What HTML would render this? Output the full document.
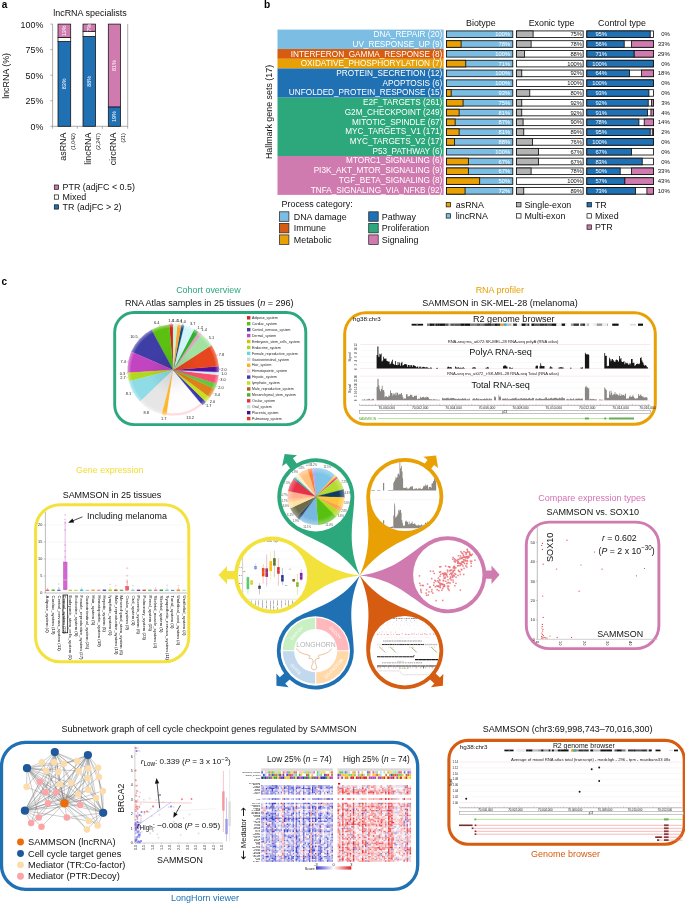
<!DOCTYPE html>
<html><head><meta charset="utf-8"><title>Figure</title>
<style>
html,body{margin:0;padding:0;background:#fff;}
svg{display:block;font-family:"Liberation Sans",sans-serif;}
</style></head><body>
<svg width="685" height="903" viewBox="0 0 685 903">
<rect width="685" height="903" fill="#fff"/>
<text x="1.7" y="7.8" font-weight="bold" font-size="10" fill="#000">a</text>
<text x="90" y="16.2" text-anchor="middle" font-size="8.95" fill="#111">lncRNA specialists</text>
<path d="M52.6 24.1V126.3H127.7V24.1" fill="none" stroke="#8a8a8a" stroke-width="0.7"/>
<line x1="50.4" y1="24.1" x2="52.6" y2="24.1" stroke="#8a8a8a" stroke-width="0.7"/>
<text x="43.3" y="27.6" text-anchor="end" font-size="8.9" fill="#111">100%</text>
<line x1="50.4" y1="49.65" x2="52.6" y2="49.65" stroke="#8a8a8a" stroke-width="0.7"/>
<text x="43.3" y="53.15" text-anchor="end" font-size="8.9" fill="#111">75%</text>
<line x1="50.4" y1="75.2" x2="52.6" y2="75.2" stroke="#8a8a8a" stroke-width="0.7"/>
<text x="43.3" y="78.7" text-anchor="end" font-size="8.9" fill="#111">50%</text>
<line x1="50.4" y1="100.75" x2="52.6" y2="100.75" stroke="#8a8a8a" stroke-width="0.7"/>
<text x="43.3" y="104.25" text-anchor="end" font-size="8.9" fill="#111">25%</text>
<line x1="50.4" y1="126.3" x2="52.6" y2="126.3" stroke="#8a8a8a" stroke-width="0.7"/>
<text x="43.3" y="129.8" text-anchor="end" font-size="8.9" fill="#111">0%</text>
<line x1="52.6" y1="126.3" x2="52.6" y2="128.7" stroke="#8a8a8a" stroke-width="0.7"/>
<line x1="77.3" y1="126.3" x2="77.3" y2="128.7" stroke="#8a8a8a" stroke-width="0.7"/>
<line x1="102.3" y1="126.3" x2="102.3" y2="128.7" stroke="#8a8a8a" stroke-width="0.7"/>
<line x1="127.7" y1="126.3" x2="127.7" y2="128.7" stroke="#8a8a8a" stroke-width="0.7"/>
<text transform="translate(8.9 75.9) rotate(-90)" text-anchor="middle" font-size="8.9" fill="#111">lncRNA (%)</text>
<rect x="58" y="41.47" width="12.7" height="84.83" fill="#2070b4" stroke="#111" stroke-width="0.75"/>
<rect x="58" y="37.39" width="12.7" height="4.09" fill="#fff" stroke="#111" stroke-width="0.75"/>
<rect x="58" y="24.1" width="12.7" height="13.29" fill="#d07bb0" stroke="#111" stroke-width="0.75"/>
<text transform="translate(66.25 83.89) rotate(-90)" text-anchor="middle" font-size="5.4" fill="#fff">83%</text>
<text transform="translate(66.25 30.74) rotate(-90)" text-anchor="middle" font-size="5.4" fill="#fff">13%</text>
<text transform="translate(65.95 132.6) rotate(-90)" text-anchor="end" font-size="8.9" fill="#111">asRNA</text>
<text transform="translate(74.65 133.3) rotate(-90)" text-anchor="end" font-size="5.2" fill="#111">(1,042)</text>
<rect x="83" y="36.36" width="12.6" height="89.94" fill="#2070b4" stroke="#111" stroke-width="0.75"/>
<rect x="83" y="31.25" width="12.6" height="5.11" fill="#fff" stroke="#111" stroke-width="0.75"/>
<rect x="83" y="24.1" width="12.6" height="7.15" fill="#d07bb0" stroke="#111" stroke-width="0.75"/>
<text transform="translate(91.2 81.33) rotate(-90)" text-anchor="middle" font-size="5.4" fill="#fff">88%</text>
<text transform="translate(91.2 27.68) rotate(-90)" text-anchor="middle" font-size="5.4" fill="#fff">7%</text>
<text transform="translate(90.9 132.6) rotate(-90)" text-anchor="end" font-size="8.9" fill="#111">lincRNA</text>
<text transform="translate(99.6 133.3) rotate(-90)" text-anchor="end" font-size="5.2" fill="#111">(2,247)</text>
<rect x="108.3" y="106.88" width="12.3" height="19.42" fill="#2070b4" stroke="#111" stroke-width="0.75"/>
<rect x="108.3" y="24.1" width="12.3" height="82.78" fill="#d07bb0" stroke="#111" stroke-width="0.75"/>
<text transform="translate(116.35 116.59) rotate(-90)" text-anchor="middle" font-size="5.4" fill="#fff">19%</text>
<text transform="translate(116.35 65.49) rotate(-90)" text-anchor="middle" font-size="5.4" fill="#fff">81%</text>
<text transform="translate(116.05 132.6) rotate(-90)" text-anchor="end" font-size="8.9" fill="#111">circRNA</text>
<text transform="translate(124.75 133.3) rotate(-90)" text-anchor="end" font-size="5.2" fill="#111">(21)</text>
<rect x="54.3" y="185" width="4.3" height="4.3" fill="#d07bb0" stroke="#111" stroke-width="0.7"/>
<text x="62.6" y="190.4" font-size="8.9" fill="#111">PTR (adjFC &lt; 0.5)</text>
<rect x="54.3" y="194.9" width="4.3" height="4.3" fill="#fff" stroke="#111" stroke-width="0.7"/>
<text x="62.6" y="200.3" font-size="8.9" fill="#111">Mixed</text>
<rect x="54.3" y="204.8" width="4.3" height="4.3" fill="#2070b4" stroke="#111" stroke-width="0.7"/>
<text x="62.6" y="210.2" font-size="8.9" fill="#111">TR (adjFC &gt; 2)</text>
<text x="264" y="7.8" font-weight="bold" font-size="10.2" fill="#000">b</text>
<rect x="277.5" y="29.6" width="166.1" height="19.49" fill="#7bbde3"/>
<rect x="277.5" y="49.04" width="166.1" height="9.77" fill="#d55c10"/>
<rect x="277.5" y="58.76" width="166.1" height="9.77" fill="#e8a004"/>
<rect x="277.5" y="68.48" width="166.1" height="29.21" fill="#2070b4"/>
<rect x="277.5" y="97.64" width="166.1" height="58.37" fill="#2ca87c"/>
<rect x="277.5" y="155.96" width="166.1" height="38.93" fill="#d07bb0"/>
<text transform="translate(272.3 112) rotate(-90)" text-anchor="middle" font-size="8.9" fill="#111">Hallmark gene sets (17)</text>
<text x="480.85" y="25.8" text-anchor="middle" font-size="8.9" fill="#111">Biotype</text>
<text x="551.6" y="25.8" text-anchor="middle" font-size="8.9" fill="#111">Exonic type</text>
<text x="622" y="25.8" text-anchor="middle" font-size="8.9" fill="#111">Control type</text>
<text x="442.3" y="37.06" text-anchor="end" font-size="8.22" fill="#fff">DNA_REPAIR (20)</text>
<rect x="446.53" y="30.93" width="66.25" height="6.6" fill="#7bbde3" stroke="#111" stroke-width="0.85"/>
<text x="510.2" y="36.27" text-anchor="end" font-size="5.8" fill="#fff">100%</text>
<rect x="516.42" y="30.93" width="66.75" height="6.6" fill="#fff" stroke="#111" stroke-width="0.85"/>
<rect x="516.42" y="30.93" width="16.69" height="6.6" fill="#b3b3b3" stroke="#111" stroke-width="0.85"/>
<text x="582" y="36.27" text-anchor="end" font-size="5.8" fill="#111">75%</text>
<rect x="586.82" y="30.93" width="66.75" height="6.6" fill="#fff" stroke="#111" stroke-width="0.85"/>
<rect x="586.82" y="30.93" width="63.41" height="6.6" fill="#2070b4" stroke="#111" stroke-width="0.85"/>
<text x="607" y="36.27" text-anchor="end" font-size="5.8" fill="#fff">95%</text>
<text x="669.8" y="36.27" text-anchor="end" font-size="6" fill="#111">0%</text>
<text x="442.3" y="46.78" text-anchor="end" font-size="8.22" fill="#fff">UV_RESPONSE_UP (9)</text>
<rect x="446.53" y="40.71" width="66.25" height="6.6" fill="#7bbde3" stroke="#111" stroke-width="0.85"/>
<rect x="446.53" y="40.71" width="14.58" height="6.6" fill="#e8a004" stroke="#111" stroke-width="0.85"/>
<text x="510.2" y="46.06" text-anchor="end" font-size="5.8" fill="#fff">78%</text>
<rect x="516.42" y="40.71" width="66.75" height="6.6" fill="#fff" stroke="#111" stroke-width="0.85"/>
<rect x="516.42" y="40.71" width="14.69" height="6.6" fill="#b3b3b3" stroke="#111" stroke-width="0.85"/>
<text x="582" y="46.06" text-anchor="end" font-size="5.8" fill="#111">78%</text>
<rect x="586.82" y="40.71" width="66.75" height="6.6" fill="#fff" stroke="#111" stroke-width="0.85"/>
<rect x="586.82" y="40.71" width="37.38" height="6.6" fill="#2070b4" stroke="#111" stroke-width="0.85"/>
<rect x="631.55" y="40.71" width="22.03" height="6.6" fill="#d07bb0" stroke="#111" stroke-width="0.85"/>
<text x="607" y="46.06" text-anchor="end" font-size="5.8" fill="#fff">56%</text>
<text x="669.8" y="46.06" text-anchor="end" font-size="6" fill="#111">33%</text>
<text x="442.3" y="56.5" text-anchor="end" font-size="8.22" fill="#fff">INTERFERON_GAMMA_RESPONSE (8)</text>
<rect x="446.53" y="50.5" width="66.25" height="6.6" fill="#7bbde3" stroke="#111" stroke-width="0.85"/>
<text x="510.2" y="55.85" text-anchor="end" font-size="5.8" fill="#fff">100%</text>
<rect x="516.42" y="50.5" width="66.75" height="6.6" fill="#fff" stroke="#111" stroke-width="0.85"/>
<rect x="516.42" y="50.5" width="8.01" height="6.6" fill="#b3b3b3" stroke="#111" stroke-width="0.85"/>
<text x="582" y="55.85" text-anchor="end" font-size="5.8" fill="#111">88%</text>
<rect x="586.82" y="50.5" width="66.75" height="6.6" fill="#fff" stroke="#111" stroke-width="0.85"/>
<rect x="586.82" y="50.5" width="47.39" height="6.6" fill="#2070b4" stroke="#111" stroke-width="0.85"/>
<rect x="634.22" y="50.5" width="19.36" height="6.6" fill="#d07bb0" stroke="#111" stroke-width="0.85"/>
<text x="607" y="55.85" text-anchor="end" font-size="5.8" fill="#fff">71%</text>
<text x="669.8" y="55.85" text-anchor="end" font-size="6" fill="#111">29%</text>
<text x="442.3" y="66.22" text-anchor="end" font-size="8.22" fill="#fff">OXIDATIVE_PHOSPHORYLATION (7)</text>
<rect x="446.53" y="60.29" width="66.25" height="6.6" fill="#7bbde3" stroke="#111" stroke-width="0.85"/>
<rect x="446.53" y="60.29" width="19.21" height="6.6" fill="#e8a004" stroke="#111" stroke-width="0.85"/>
<text x="510.2" y="65.64" text-anchor="end" font-size="5.8" fill="#fff">71%</text>
<rect x="516.42" y="60.29" width="66.75" height="6.6" fill="#fff" stroke="#111" stroke-width="0.85"/>
<text x="582" y="65.64" text-anchor="end" font-size="5.8" fill="#111">100%</text>
<rect x="586.82" y="60.29" width="66.75" height="6.6" fill="#fff" stroke="#111" stroke-width="0.85"/>
<rect x="586.82" y="60.29" width="66.75" height="6.6" fill="#2070b4" stroke="#111" stroke-width="0.85"/>
<text x="607" y="65.64" text-anchor="end" font-size="5.8" fill="#fff">100%</text>
<text x="669.8" y="65.64" text-anchor="end" font-size="6" fill="#111">0%</text>
<text x="442.3" y="75.94" text-anchor="end" font-size="8.22" fill="#fff">PROTEIN_SECRETION (12)</text>
<rect x="446.53" y="70.08" width="66.25" height="6.6" fill="#7bbde3" stroke="#111" stroke-width="0.85"/>
<text x="510.2" y="75.43" text-anchor="end" font-size="5.8" fill="#fff">100%</text>
<rect x="516.42" y="70.08" width="66.75" height="6.6" fill="#fff" stroke="#111" stroke-width="0.85"/>
<rect x="516.42" y="70.08" width="5.34" height="6.6" fill="#b3b3b3" stroke="#111" stroke-width="0.85"/>
<text x="582" y="75.43" text-anchor="end" font-size="5.8" fill="#111">92%</text>
<rect x="586.82" y="70.08" width="66.75" height="6.6" fill="#fff" stroke="#111" stroke-width="0.85"/>
<rect x="586.82" y="70.08" width="42.72" height="6.6" fill="#2070b4" stroke="#111" stroke-width="0.85"/>
<rect x="641.56" y="70.08" width="12.02" height="6.6" fill="#d07bb0" stroke="#111" stroke-width="0.85"/>
<text x="607" y="75.43" text-anchor="end" font-size="5.8" fill="#fff">64%</text>
<text x="669.8" y="75.43" text-anchor="end" font-size="6" fill="#111">18%</text>
<text x="442.3" y="85.66" text-anchor="end" font-size="8.22" fill="#fff">APOPTOSIS (6)</text>
<rect x="446.53" y="79.87" width="66.25" height="6.6" fill="#7bbde3" stroke="#111" stroke-width="0.85"/>
<text x="510.2" y="85.22" text-anchor="end" font-size="5.8" fill="#fff">100%</text>
<rect x="516.42" y="79.87" width="66.75" height="6.6" fill="#fff" stroke="#111" stroke-width="0.85"/>
<text x="582" y="85.22" text-anchor="end" font-size="5.8" fill="#111">100%</text>
<rect x="586.82" y="79.87" width="66.75" height="6.6" fill="#fff" stroke="#111" stroke-width="0.85"/>
<rect x="586.82" y="79.87" width="66.75" height="6.6" fill="#2070b4" stroke="#111" stroke-width="0.85"/>
<text x="607" y="85.22" text-anchor="end" font-size="5.8" fill="#fff">100%</text>
<text x="669.8" y="85.22" text-anchor="end" font-size="6" fill="#111">0%</text>
<text x="442.3" y="95.38" text-anchor="end" font-size="8.22" fill="#fff">UNFOLDED_PROTEIN_RESPONSE (15)</text>
<rect x="446.53" y="89.66" width="66.25" height="6.6" fill="#7bbde3" stroke="#111" stroke-width="0.85"/>
<rect x="446.53" y="89.66" width="4.64" height="6.6" fill="#e8a004" stroke="#111" stroke-width="0.85"/>
<text x="510.2" y="95.01" text-anchor="end" font-size="5.8" fill="#fff">93%</text>
<rect x="516.42" y="89.66" width="66.75" height="6.6" fill="#fff" stroke="#111" stroke-width="0.85"/>
<rect x="516.42" y="89.66" width="13.35" height="6.6" fill="#b3b3b3" stroke="#111" stroke-width="0.85"/>
<text x="582" y="95.01" text-anchor="end" font-size="5.8" fill="#111">80%</text>
<rect x="586.82" y="89.66" width="66.75" height="6.6" fill="#fff" stroke="#111" stroke-width="0.85"/>
<rect x="586.82" y="89.66" width="62.08" height="6.6" fill="#2070b4" stroke="#111" stroke-width="0.85"/>
<text x="607" y="95.01" text-anchor="end" font-size="5.8" fill="#fff">93%</text>
<text x="669.8" y="95.01" text-anchor="end" font-size="6" fill="#111">0%</text>
<text x="442.3" y="105.1" text-anchor="end" font-size="8.22" fill="#fff">E2F_TARGETS (261)</text>
<rect x="446.53" y="99.45" width="66.25" height="6.6" fill="#7bbde3" stroke="#111" stroke-width="0.85"/>
<rect x="446.53" y="99.45" width="16.56" height="6.6" fill="#e8a004" stroke="#111" stroke-width="0.85"/>
<text x="510.2" y="104.8" text-anchor="end" font-size="5.8" fill="#fff">75%</text>
<rect x="516.42" y="99.45" width="66.75" height="6.6" fill="#fff" stroke="#111" stroke-width="0.85"/>
<rect x="516.42" y="99.45" width="5.34" height="6.6" fill="#b3b3b3" stroke="#111" stroke-width="0.85"/>
<text x="582" y="104.8" text-anchor="end" font-size="5.8" fill="#111">92%</text>
<rect x="586.82" y="99.45" width="66.75" height="6.6" fill="#fff" stroke="#111" stroke-width="0.85"/>
<rect x="586.82" y="99.45" width="61.41" height="6.6" fill="#2070b4" stroke="#111" stroke-width="0.85"/>
<rect x="651.57" y="99.45" width="2" height="6.6" fill="#d07bb0" stroke="#111" stroke-width="0.85"/>
<text x="607" y="104.8" text-anchor="end" font-size="5.8" fill="#fff">92%</text>
<text x="669.8" y="104.8" text-anchor="end" font-size="6" fill="#111">3%</text>
<text x="442.3" y="114.82" text-anchor="end" font-size="8.22" fill="#fff">G2M_CHECKPOINT (249)</text>
<rect x="446.53" y="109.24" width="66.25" height="6.6" fill="#7bbde3" stroke="#111" stroke-width="0.85"/>
<rect x="446.53" y="109.24" width="12.59" height="6.6" fill="#e8a004" stroke="#111" stroke-width="0.85"/>
<text x="510.2" y="114.59" text-anchor="end" font-size="5.8" fill="#fff">81%</text>
<rect x="516.42" y="109.24" width="66.75" height="6.6" fill="#fff" stroke="#111" stroke-width="0.85"/>
<rect x="516.42" y="109.24" width="5.34" height="6.6" fill="#b3b3b3" stroke="#111" stroke-width="0.85"/>
<text x="582" y="114.59" text-anchor="end" font-size="5.8" fill="#111">92%</text>
<rect x="586.82" y="109.24" width="66.75" height="6.6" fill="#fff" stroke="#111" stroke-width="0.85"/>
<rect x="586.82" y="109.24" width="60.74" height="6.6" fill="#2070b4" stroke="#111" stroke-width="0.85"/>
<rect x="650.91" y="109.24" width="2.67" height="6.6" fill="#d07bb0" stroke="#111" stroke-width="0.85"/>
<text x="607" y="114.59" text-anchor="end" font-size="5.8" fill="#fff">91%</text>
<text x="669.8" y="114.59" text-anchor="end" font-size="6" fill="#111">4%</text>
<text x="442.3" y="124.54" text-anchor="end" font-size="8.22" fill="#fff">MITOTIC_SPINDLE (67)</text>
<rect x="446.53" y="119.03" width="66.25" height="6.6" fill="#7bbde3" stroke="#111" stroke-width="0.85"/>
<rect x="446.53" y="119.03" width="8.61" height="6.6" fill="#e8a004" stroke="#111" stroke-width="0.85"/>
<text x="510.2" y="124.38" text-anchor="end" font-size="5.8" fill="#fff">87%</text>
<rect x="516.42" y="119.03" width="66.75" height="6.6" fill="#fff" stroke="#111" stroke-width="0.85"/>
<rect x="516.42" y="119.03" width="6.68" height="6.6" fill="#b3b3b3" stroke="#111" stroke-width="0.85"/>
<text x="582" y="124.38" text-anchor="end" font-size="5.8" fill="#111">90%</text>
<rect x="586.82" y="119.03" width="66.75" height="6.6" fill="#fff" stroke="#111" stroke-width="0.85"/>
<rect x="586.82" y="119.03" width="52.07" height="6.6" fill="#2070b4" stroke="#111" stroke-width="0.85"/>
<rect x="644.23" y="119.03" width="9.35" height="6.6" fill="#d07bb0" stroke="#111" stroke-width="0.85"/>
<text x="607" y="124.38" text-anchor="end" font-size="5.8" fill="#fff">78%</text>
<text x="669.8" y="124.38" text-anchor="end" font-size="6" fill="#111">14%</text>
<text x="442.3" y="134.26" text-anchor="end" font-size="8.22" fill="#fff">MYC_TARGETS_V1 (171)</text>
<rect x="446.53" y="128.82" width="66.25" height="6.6" fill="#7bbde3" stroke="#111" stroke-width="0.85"/>
<rect x="446.53" y="128.82" width="12.59" height="6.6" fill="#e8a004" stroke="#111" stroke-width="0.85"/>
<text x="510.2" y="134.17" text-anchor="end" font-size="5.8" fill="#fff">81%</text>
<rect x="516.42" y="128.82" width="66.75" height="6.6" fill="#fff" stroke="#111" stroke-width="0.85"/>
<rect x="516.42" y="128.82" width="7.34" height="6.6" fill="#b3b3b3" stroke="#111" stroke-width="0.85"/>
<text x="582" y="134.17" text-anchor="end" font-size="5.8" fill="#111">89%</text>
<rect x="586.82" y="128.82" width="66.75" height="6.6" fill="#fff" stroke="#111" stroke-width="0.85"/>
<rect x="586.82" y="128.82" width="63.41" height="6.6" fill="#2070b4" stroke="#111" stroke-width="0.85"/>
<rect x="652.24" y="128.82" width="1.34" height="6.6" fill="#d07bb0" stroke="#111" stroke-width="0.85"/>
<text x="607" y="134.17" text-anchor="end" font-size="5.8" fill="#fff">95%</text>
<text x="669.8" y="134.17" text-anchor="end" font-size="6" fill="#111">2%</text>
<text x="442.3" y="143.98" text-anchor="end" font-size="8.22" fill="#fff">MYC_TARGETS_V2 (17)</text>
<rect x="446.53" y="138.62" width="66.25" height="6.6" fill="#7bbde3" stroke="#111" stroke-width="0.85"/>
<rect x="446.53" y="138.62" width="7.95" height="6.6" fill="#e8a004" stroke="#111" stroke-width="0.85"/>
<text x="510.2" y="143.97" text-anchor="end" font-size="5.8" fill="#fff">88%</text>
<rect x="516.42" y="138.62" width="66.75" height="6.6" fill="#fff" stroke="#111" stroke-width="0.85"/>
<rect x="516.42" y="138.62" width="16.02" height="6.6" fill="#b3b3b3" stroke="#111" stroke-width="0.85"/>
<text x="582" y="143.97" text-anchor="end" font-size="5.8" fill="#111">76%</text>
<rect x="586.82" y="138.62" width="66.75" height="6.6" fill="#fff" stroke="#111" stroke-width="0.85"/>
<rect x="586.82" y="138.62" width="66.75" height="6.6" fill="#2070b4" stroke="#111" stroke-width="0.85"/>
<text x="607" y="143.97" text-anchor="end" font-size="5.8" fill="#fff">100%</text>
<text x="669.8" y="143.97" text-anchor="end" font-size="6" fill="#111">0%</text>
<text x="442.3" y="153.7" text-anchor="end" font-size="8.22" fill="#fff">P53_PATHWAY (6)</text>
<rect x="446.53" y="148.41" width="66.25" height="6.6" fill="#7bbde3" stroke="#111" stroke-width="0.85"/>
<text x="510.2" y="153.75" text-anchor="end" font-size="5.8" fill="#fff">100%</text>
<rect x="516.42" y="148.41" width="66.75" height="6.6" fill="#fff" stroke="#111" stroke-width="0.85"/>
<rect x="516.42" y="148.41" width="22.03" height="6.6" fill="#b3b3b3" stroke="#111" stroke-width="0.85"/>
<text x="582" y="153.75" text-anchor="end" font-size="5.8" fill="#111">67%</text>
<rect x="586.82" y="148.41" width="66.75" height="6.6" fill="#fff" stroke="#111" stroke-width="0.85"/>
<rect x="586.82" y="148.41" width="44.72" height="6.6" fill="#2070b4" stroke="#111" stroke-width="0.85"/>
<text x="607" y="153.75" text-anchor="end" font-size="5.8" fill="#fff">67%</text>
<text x="669.8" y="153.75" text-anchor="end" font-size="6" fill="#111">0%</text>
<text x="442.3" y="163.42" text-anchor="end" font-size="8.22" fill="#fff">MTORC1_SIGNALING (6)</text>
<rect x="446.53" y="158.19" width="66.25" height="6.6" fill="#7bbde3" stroke="#111" stroke-width="0.85"/>
<rect x="446.53" y="158.19" width="21.86" height="6.6" fill="#e8a004" stroke="#111" stroke-width="0.85"/>
<text x="510.2" y="163.54" text-anchor="end" font-size="5.8" fill="#fff">67%</text>
<rect x="516.42" y="158.19" width="66.75" height="6.6" fill="#fff" stroke="#111" stroke-width="0.85"/>
<rect x="516.42" y="158.19" width="22.03" height="6.6" fill="#b3b3b3" stroke="#111" stroke-width="0.85"/>
<text x="582" y="163.54" text-anchor="end" font-size="5.8" fill="#111">67%</text>
<rect x="586.82" y="158.19" width="66.75" height="6.6" fill="#fff" stroke="#111" stroke-width="0.85"/>
<rect x="586.82" y="158.19" width="55.4" height="6.6" fill="#2070b4" stroke="#111" stroke-width="0.85"/>
<text x="607" y="163.54" text-anchor="end" font-size="5.8" fill="#fff">83%</text>
<text x="669.8" y="163.54" text-anchor="end" font-size="6" fill="#111">0%</text>
<text x="442.3" y="173.14" text-anchor="end" font-size="8.22" fill="#fff">PI3K_AKT_MTOR_SIGNALING (9)</text>
<rect x="446.53" y="167.99" width="66.25" height="6.6" fill="#7bbde3" stroke="#111" stroke-width="0.85"/>
<rect x="446.53" y="167.99" width="21.86" height="6.6" fill="#e8a004" stroke="#111" stroke-width="0.85"/>
<text x="510.2" y="173.34" text-anchor="end" font-size="5.8" fill="#fff">67%</text>
<rect x="516.42" y="167.99" width="66.75" height="6.6" fill="#fff" stroke="#111" stroke-width="0.85"/>
<rect x="516.42" y="167.99" width="14.69" height="6.6" fill="#b3b3b3" stroke="#111" stroke-width="0.85"/>
<text x="582" y="173.34" text-anchor="end" font-size="5.8" fill="#111">78%</text>
<rect x="586.82" y="167.99" width="66.75" height="6.6" fill="#fff" stroke="#111" stroke-width="0.85"/>
<rect x="586.82" y="167.99" width="33.38" height="6.6" fill="#2070b4" stroke="#111" stroke-width="0.85"/>
<rect x="631.55" y="167.99" width="22.03" height="6.6" fill="#d07bb0" stroke="#111" stroke-width="0.85"/>
<text x="607" y="173.34" text-anchor="end" font-size="5.8" fill="#fff">50%</text>
<text x="669.8" y="173.34" text-anchor="end" font-size="6" fill="#111">33%</text>
<text x="442.3" y="182.86" text-anchor="end" font-size="8.22" fill="#fff">TGF_BETA_SIGNALING (8)</text>
<rect x="446.53" y="177.78" width="66.25" height="6.6" fill="#7bbde3" stroke="#111" stroke-width="0.85"/>
<rect x="446.53" y="177.78" width="33.13" height="6.6" fill="#e8a004" stroke="#111" stroke-width="0.85"/>
<text x="510.2" y="183.12" text-anchor="end" font-size="5.8" fill="#fff">50%</text>
<rect x="516.42" y="177.78" width="66.75" height="6.6" fill="#fff" stroke="#111" stroke-width="0.85"/>
<text x="582" y="183.12" text-anchor="end" font-size="5.8" fill="#111">100%</text>
<rect x="586.82" y="177.78" width="66.75" height="6.6" fill="#fff" stroke="#111" stroke-width="0.85"/>
<rect x="586.82" y="177.78" width="38.05" height="6.6" fill="#2070b4" stroke="#111" stroke-width="0.85"/>
<rect x="624.87" y="177.78" width="28.7" height="6.6" fill="#d07bb0" stroke="#111" stroke-width="0.85"/>
<text x="607" y="183.12" text-anchor="end" font-size="5.8" fill="#fff">57%</text>
<text x="669.8" y="183.12" text-anchor="end" font-size="6" fill="#111">43%</text>
<text x="442.3" y="192.58" text-anchor="end" font-size="8.22" fill="#fff">TNFA_SIGNALING_VIA_NFKB (92)</text>
<rect x="446.53" y="187.56" width="66.25" height="6.6" fill="#7bbde3" stroke="#111" stroke-width="0.85"/>
<rect x="446.53" y="187.56" width="18.55" height="6.6" fill="#e8a004" stroke="#111" stroke-width="0.85"/>
<text x="510.2" y="192.91" text-anchor="end" font-size="5.8" fill="#fff">72%</text>
<rect x="516.42" y="187.56" width="66.75" height="6.6" fill="#fff" stroke="#111" stroke-width="0.85"/>
<rect x="516.42" y="187.56" width="7.34" height="6.6" fill="#b3b3b3" stroke="#111" stroke-width="0.85"/>
<text x="582" y="192.91" text-anchor="end" font-size="5.8" fill="#111">89%</text>
<rect x="586.82" y="187.56" width="66.75" height="6.6" fill="#fff" stroke="#111" stroke-width="0.85"/>
<rect x="586.82" y="187.56" width="48.73" height="6.6" fill="#2070b4" stroke="#111" stroke-width="0.85"/>
<rect x="646.9" y="187.56" width="6.68" height="6.6" fill="#d07bb0" stroke="#111" stroke-width="0.85"/>
<text x="607" y="192.91" text-anchor="end" font-size="5.8" fill="#fff">73%</text>
<text x="669.8" y="192.91" text-anchor="end" font-size="6" fill="#111">10%</text>
<text x="281.6" y="206.6" font-size="8.9" fill="#111">Process category:</text>
<rect x="279.4" y="211.8" width="9.5" height="9.5" fill="#7bbde3" stroke="#222" stroke-width="0.7"/>
<text x="293.8" y="219.9" font-size="8.9" fill="#111">DNA damage</text>
<rect x="279.4" y="223.35" width="9.5" height="9.5" fill="#d55c10" stroke="#222" stroke-width="0.7"/>
<text x="293.8" y="231.45" font-size="8.9" fill="#111">Immune</text>
<rect x="279.4" y="234.9" width="9.5" height="9.5" fill="#e8a004" stroke="#222" stroke-width="0.7"/>
<text x="293.8" y="243" font-size="8.9" fill="#111">Metabolic</text>
<rect x="368.7" y="211.8" width="9.5" height="9.5" fill="#2070b4" stroke="#222" stroke-width="0.7"/>
<text x="381.8" y="219.9" font-size="8.9" fill="#111">Pathway</text>
<rect x="368.7" y="223.35" width="9.5" height="9.5" fill="#2ca87c" stroke="#222" stroke-width="0.7"/>
<text x="381.8" y="231.45" font-size="8.9" fill="#111">Proliferation</text>
<rect x="368.7" y="234.9" width="9.5" height="9.5" fill="#d07bb0" stroke="#222" stroke-width="0.7"/>
<text x="381.8" y="243" font-size="8.9" fill="#111">Signaling</text>
<rect x="446.2" y="202.5" width="4.4" height="4.4" fill="#e8a004" stroke="#111" stroke-width="0.7"/>
<text x="455.8" y="207.8" font-size="8.9" fill="#111">asRNA</text>
<rect x="446.2" y="213.7" width="4.4" height="4.4" fill="#7bbde3" stroke="#111" stroke-width="0.7"/>
<text x="455.8" y="219" font-size="8.9" fill="#111">lincRNA</text>
<rect x="516.6" y="202.5" width="4.4" height="4.4" fill="#b3b3b3" stroke="#111" stroke-width="0.7"/>
<text x="524.4" y="207.8" font-size="8.9" fill="#111">Single-exon</text>
<rect x="516.6" y="213.7" width="4.4" height="4.4" fill="#fff" stroke="#111" stroke-width="0.7"/>
<text x="524.4" y="219" font-size="8.9" fill="#111">Multi-exon</text>
<rect x="587" y="202.5" width="4.4" height="4.4" fill="#2070b4" stroke="#111" stroke-width="0.7"/>
<text x="594.9" y="207.8" font-size="8.9" fill="#111">TR</text>
<rect x="587" y="213.7" width="4.4" height="4.4" fill="#fff" stroke="#111" stroke-width="0.7"/>
<text x="594.9" y="219" font-size="8.9" fill="#111">Mixed</text>
<rect x="587" y="224.9" width="4.4" height="4.4" fill="#d07bb0" stroke="#111" stroke-width="0.7"/>
<text x="594.9" y="230.2" font-size="8.9" fill="#111">PTR</text>
<text x="1.6" y="285.2" font-weight="bold" font-size="10" fill="#000">c</text>
<text x="208.4" y="293" text-anchor="middle" font-size="8.93" fill="#2ca87c">Cohort overview</text>
<text x="124.9" y="305.8" font-size="9.06" fill="#111">RNA Atlas samples in 25 tissues (<tspan font-style="italic">n</tspan> = 296)</text>
<rect x="114.7" y="312.5" width="191.1" height="112.1" rx="19.5" fill="#fff" stroke="#2ca87c" stroke-width="2.9"/>
<defs><radialGradient id="pg" cx="0.5" cy="0.5" r="0.5"><stop offset="0" stop-color="#000" stop-opacity="0.10"/><stop offset="0.55" stop-color="#000" stop-opacity="0"/><stop offset="0.92" stop-color="#fff" stop-opacity="0"/><stop offset="1" stop-color="#fff" stop-opacity="0.4"/></radialGradient></defs>
<path d="M173.2 370L173.2 324.5A45.5 45.5 0 0 0 169.17 324.68Z" fill="#d8202a" stroke="#d8202a" stroke-width="0.25"/>
<line x1="171.16" y1="324.15" x2="171.1" y2="322.65" stroke="#d8202a" stroke-width="0.4"/>
<text x="171.07" y="321.75" text-anchor="middle" font-size="3.9" fill="#222">1.4</text>
<path d="M173.2 370L169.17 324.68A45.5 45.5 0 0 0 151.6 329.95Z" fill="#5cc010" stroke="#5cc010" stroke-width="0.25"/>
<line x1="160" y1="326.04" x2="159.57" y2="324.6" stroke="#5cc010" stroke-width="0.4"/>
<text x="159.37" y="323.8" text-anchor="end" font-size="3.9" fill="#222">6.4</text>
<path d="M173.2 370L151.6 329.95A45.5 45.5 0 0 0 131.48 351.84Z" fill="#3e3ea6" stroke="#3e3ea6" stroke-width="0.25"/>
<line x1="139.41" y1="338.94" x2="138.31" y2="337.92" stroke="#3e3ea6" stroke-width="0.4"/>
<text x="137.79" y="338.44" text-anchor="end" font-size="3.9" fill="#222">10.5</text>
<path d="M173.2 370L131.48 351.84A45.5 45.5 0 0 0 127.78 372.67Z" fill="#c244c0" stroke="#c244c0" stroke-width="0.25"/>
<line x1="128.01" y1="361.97" x2="126.53" y2="361.7" stroke="#c244c0" stroke-width="0.4"/>
<text x="125.84" y="362.88" text-anchor="end" font-size="3.9" fill="#222">7.4</text>
<path d="M173.2 370L127.78 372.67A45.5 45.5 0 0 0 127.84 373.53Z" fill="#d8c010" stroke="#d8c010" stroke-width="0.25"/>
<line x1="127.41" y1="373.13" x2="125.91" y2="373.23" stroke="#d8c010" stroke-width="0.4"/>
<text x="125.21" y="374.72" text-anchor="end" font-size="3.9" fill="#222">0.3</text>
<path d="M173.2 370L127.84 373.53A45.5 45.5 0 0 0 129.1 381.21Z" fill="#b0d81c" stroke="#b0d81c" stroke-width="0.25"/>
<line x1="127.91" y1="377.46" x2="126.43" y2="377.7" stroke="#b0d81c" stroke-width="0.4"/>
<text x="125.74" y="379.32" text-anchor="end" font-size="3.9" fill="#222">2.7</text>
<path d="M173.2 370L129.1 381.21A45.5 45.5 0 0 0 140.3 401.43Z" fill="#8fdbe6" stroke="#8fdbe6" stroke-width="0.25"/>
<line x1="133.04" y1="392.23" x2="131.73" y2="392.96" stroke="#8fdbe6" stroke-width="0.4"/>
<text x="131.12" y="394.99" text-anchor="end" font-size="3.9" fill="#222">8.1</text>
<path d="M173.2 370L140.3 401.43A45.5 45.5 0 0 0 161.92 414.08Z" fill="#e6e6e6" stroke="#e6e6e6" stroke-width="0.25"/>
<line x1="150.02" y1="409.62" x2="149.26" y2="410.91" stroke="#ccc" stroke-width="0.4"/>
<text x="148.91" y="414.3" text-anchor="end" font-size="3.9" fill="#222">8.8</text>
<path d="M173.2 370L161.92 414.08A45.5 45.5 0 0 0 166.73 415.04Z" fill="#ffb62e" stroke="#ffb62e" stroke-width="0.25"/>
<line x1="164.24" y1="415.02" x2="163.94" y2="416.49" stroke="#ffb62e" stroke-width="0.4"/>
<text x="163.81" y="420.14" text-anchor="middle" font-size="3.9" fill="#222">1.7</text>
<path d="M173.2 370L166.73 415.04A45.5 45.5 0 0 0 202.31 404.97Z" fill="#fffdfd" stroke="#fffdfd" stroke-width="0.25"/>
<line x1="185.7" y1="414.17" x2="186.11" y2="415.61" stroke="#ccc" stroke-width="0.4"/>
<text x="186.3" y="419.22" font-size="3.9" fill="#222">13.2</text>
<path d="M173.2 370L202.31 404.97A45.5 45.5 0 0 0 205.9 401.63Z" fill="#3c3cae" stroke="#3c3cae" stroke-width="0.25"/>
<line x1="204.43" y1="403.64" x2="205.45" y2="404.74" stroke="#3c3cae" stroke-width="0.4"/>
<text x="205.92" y="407.09" font-size="3.9" fill="#222">1.7</text>
<path d="M173.2 370L205.9 401.63A45.5 45.5 0 0 0 209.64 397.24Z" fill="#c6e01c" stroke="#c6e01c" stroke-width="0.25"/>
<line x1="208.15" y1="399.76" x2="209.29" y2="400.73" stroke="#c6e01c" stroke-width="0.4"/>
<text x="209.82" y="402.97" font-size="3.9" fill="#222">2.0</text>
<path d="M173.2 370L209.64 397.24A45.5 45.5 0 0 0 214.63 388.82Z" fill="#e0801c" stroke="#e0801c" stroke-width="0.25"/>
<line x1="212.71" y1="393.37" x2="214" y2="394.13" stroke="#e0801c" stroke-width="0.4"/>
<text x="214.6" y="396.19" font-size="3.9" fill="#222">3.4</text>
<path d="M173.2 370L214.63 388.82A45.5 45.5 0 0 0 216.67 383.43Z" fill="#62c83e" stroke="#62c83e" stroke-width="0.25"/>
<line x1="216.11" y1="386.3" x2="217.51" y2="386.83" stroke="#62c83e" stroke-width="0.4"/>
<text x="218.17" y="388.69" font-size="3.9" fill="#222">2.0</text>
<path d="M173.2 370L216.67 383.43A45.5 45.5 0 0 0 218.43 374.97Z" fill="#f8506e" stroke="#f8506e" stroke-width="0.25"/>
<line x1="218.14" y1="379.32" x2="219.61" y2="379.62" stroke="#f8506e" stroke-width="0.4"/>
<text x="220.3" y="381.29" font-size="3.9" fill="#222">3.0</text>
<path d="M173.2 370L218.43 374.97A45.5 45.5 0 0 0 218.65 372.09Z" fill="#d2eeee" stroke="#d2eeee" stroke-width="0.25"/>
<line x1="218.96" y1="373.56" x2="220.46" y2="373.68" stroke="#ccc" stroke-width="0.4"/>
<text x="221.15" y="375.18" font-size="3.9" fill="#222">1.0</text>
<path d="M173.2 370L218.65 372.09A45.5 45.5 0 0 0 218.55 366.33Z" fill="#5210a0" stroke="#5210a0" stroke-width="0.25"/>
<line x1="219.09" y1="369.2" x2="220.59" y2="369.17" stroke="#5210a0" stroke-width="0.4"/>
<text x="221.29" y="370.55" font-size="3.9" fill="#222">2.0</text>
<path d="M173.2 370L218.55 366.33A45.5 45.5 0 0 0 211.37 345.24Z" fill="#e8461e" stroke="#e8461e" stroke-width="0.25"/>
<line x1="216.65" y1="355.21" x2="218.07" y2="354.73" stroke="#e8461e" stroke-width="0.4"/>
<text x="218.73" y="355.71" font-size="3.9" fill="#222">7.8</text>
<path d="M173.2 370L211.37 345.24A45.5 45.5 0 0 0 201.53 334.39Z" fill="#a2e2a0" stroke="#a2e2a0" stroke-width="0.25"/>
<line x1="207.19" y1="339.15" x2="208.3" y2="338.14" stroke="#a2e2a0" stroke-width="0.4"/>
<text x="208.82" y="338.67" font-size="3.9" fill="#222">5.1</text>
<path d="M173.2 370L201.53 334.39A45.5 45.5 0 0 0 198.26 332.02Z" fill="#e2a2c2" stroke="#e2a2c2" stroke-width="0.25"/>
<line x1="200.16" y1="332.85" x2="201.04" y2="331.63" stroke="#e2a2c2" stroke-width="0.4"/>
<text x="201.45" y="331.17" font-size="3.9" fill="#222">1.4</text>
<path d="M173.2 370L198.26 332.02A45.5 45.5 0 0 0 194.03 329.55Z" fill="#30b22e" stroke="#30b22e" stroke-width="0.25"/>
<line x1="196.38" y1="330.38" x2="197.14" y2="329.09" stroke="#30b22e" stroke-width="0.4"/>
<text x="197.49" y="328.5" font-size="3.9" fill="#222">1.7</text>
<path d="M173.2 370L194.03 329.55A45.5 45.5 0 0 0 184.06 325.81Z" fill="#d0f4f8" stroke="#d0f4f8" stroke-width="0.25"/>
<line x1="189.29" y1="327.01" x2="189.82" y2="325.61" stroke="#ccc" stroke-width="0.4"/>
<text x="190.06" y="324.85" font-size="3.9" fill="#222">3.7</text>
<path d="M173.2 370L184.06 325.81A45.5 45.5 0 0 0 181.24 325.22Z" fill="#104a82" stroke="#104a82" stroke-width="0.25"/>
<line x1="182.73" y1="325.1" x2="183.05" y2="323.63" stroke="#104a82" stroke-width="0.4"/>
<text x="183.19" y="322.78" text-anchor="middle" font-size="3.9" fill="#222">1.0</text>
<path d="M173.2 370L181.24 325.22A45.5 45.5 0 0 0 177.23 324.68Z" fill="#ffa22e" stroke="#ffa22e" stroke-width="0.25"/>
<line x1="179.29" y1="324.51" x2="179.49" y2="323.02" stroke="#ffa22e" stroke-width="0.4"/>
<text x="179.59" y="322.14" text-anchor="middle" font-size="3.9" fill="#222">1.4</text>
<path d="M173.2 370L177.23 324.68A45.5 45.5 0 0 0 173.2 324.5Z" fill="#c2f8d2" stroke="#c2f8d2" stroke-width="0.25"/>
<line x1="175.24" y1="324.15" x2="175.3" y2="322.65" stroke="#ccc" stroke-width="0.4"/>
<text x="175.33" y="321.75" text-anchor="middle" font-size="3.9" fill="#222">1.4</text>
<path d="M166.9 413.85A44.3 44.3 0 0 0 201.54 404.05" fill="none" stroke="#ffc4cc" stroke-width="2.2" stroke-opacity="0.8"/>
<circle cx="173.2" cy="370" r="45.5" fill="url(#pg)"/>
<rect x="247" y="316.1" width="3.4" height="3.4" fill="#d8202a"/>
<text x="252.1" y="319.05" font-size="3.47" fill="#222">Adipose_system</text>
<rect x="247" y="322.03" width="3.4" height="3.4" fill="#5cc010"/>
<text x="252.1" y="324.98" font-size="3.47" fill="#222">Cardiac_system</text>
<rect x="247" y="327.96" width="3.4" height="3.4" fill="#3e3ea6"/>
<text x="252.1" y="330.91" font-size="3.47" fill="#222">Central_nervous_system</text>
<rect x="247" y="333.89" width="3.4" height="3.4" fill="#c244c0"/>
<text x="252.1" y="336.84" font-size="3.47" fill="#222">Dermal_system</text>
<rect x="247" y="339.82" width="3.4" height="3.4" fill="#d8c010"/>
<text x="252.1" y="342.77" font-size="3.47" fill="#222">Embryonic_stem_cells_system</text>
<rect x="247" y="345.75" width="3.4" height="3.4" fill="#a8d81c"/>
<text x="252.1" y="348.7" font-size="3.47" fill="#222">Endocrine_system</text>
<rect x="247" y="351.68" width="3.4" height="3.4" fill="#6cd6e0"/>
<text x="252.1" y="354.63" font-size="3.47" fill="#222">Female_reproductive_system</text>
<rect x="247" y="357.61" width="3.4" height="3.4" fill="#d4d4d4"/>
<text x="252.1" y="360.56" font-size="3.47" fill="#222">Gastrointestinal_system</text>
<rect x="247" y="363.54" width="3.4" height="3.4" fill="#ffb01e"/>
<text x="252.1" y="366.49" font-size="3.47" fill="#222">Hair_system</text>
<rect x="247" y="369.47" width="3.4" height="3.4" fill="#ffc4cc"/>
<text x="252.1" y="372.42" font-size="3.47" fill="#222">Hematopoietic_system</text>
<rect x="247" y="375.4" width="3.4" height="3.4" fill="#3c3cae"/>
<text x="252.1" y="378.35" font-size="3.47" fill="#222">Hepatic_system</text>
<rect x="247" y="381.33" width="3.4" height="3.4" fill="#c6e01c"/>
<text x="252.1" y="384.28" font-size="3.47" fill="#222">lymphatic_system</text>
<rect x="247" y="387.26" width="3.4" height="3.4" fill="#a86418"/>
<text x="252.1" y="390.21" font-size="3.47" fill="#222">Male_reproductive_system</text>
<rect x="247" y="393.19" width="3.4" height="3.4" fill="#52b02e"/>
<text x="252.1" y="396.14" font-size="3.47" fill="#222">Mesenchymal_stem_system</text>
<rect x="247" y="399.12" width="3.4" height="3.4" fill="#f02848"/>
<text x="252.1" y="402.07" font-size="3.47" fill="#222">Ocular_system</text>
<rect x="247" y="405.05" width="3.4" height="3.4" fill="#c4e0dc"/>
<text x="252.1" y="408" font-size="3.47" fill="#222">Oral_system</text>
<rect x="247" y="410.98" width="3.4" height="3.4" fill="#42108a"/>
<text x="252.1" y="413.93" font-size="3.47" fill="#222">Placenta_system</text>
<rect x="247" y="416.91" width="3.4" height="3.4" fill="#e8381e"/>
<text x="252.1" y="419.86" font-size="3.47" fill="#222">Pulmonary_system</text>
<text x="499.8" y="293.3" text-anchor="middle" font-size="8.96" fill="#e8a004">RNA profiler</text>
<text x="422.3" y="306" font-size="9" fill="#111">SAMMSON in SK-MEL-28 (melanoma)</text>
<rect x="344.7" y="312.8" width="310.6" height="111.5" rx="21" fill="#fff" stroke="#e8a004" stroke-width="3"/>
<text x="353" y="321.2" font-size="6.25" fill="#111">hg38:chr3</text>
<text x="473" y="322" font-size="9.07" fill="#111">R2 genome browser</text>
<rect x="411.6" y="323.8" width="11.5" height="1.8" fill="#111"/>
<rect x="416.5" y="323.8" width="1.2" height="1.8" fill="#999"/>
<rect x="427" y="323.55" width="180.9" height="2.3" fill="#ddd"/>
<rect x="427" y="323.55" width="2.75" height="2.3" fill="#777"/>
<rect x="429.75" y="323.55" width="3.1" height="2.3" fill="#111"/>
<rect x="432.85" y="323.55" width="1.55" height="2.3" fill="#111"/>
<rect x="434.4" y="323.55" width="1.65" height="2.3" fill="#555"/>
<rect x="436.05" y="323.55" width="1.48" height="2.3" fill="#111"/>
<rect x="437.53" y="323.55" width="2.23" height="2.3" fill="#111"/>
<rect x="439.76" y="323.55" width="3.28" height="2.3" fill="#111"/>
<rect x="443.04" y="323.55" width="2.36" height="2.3" fill="#111"/>
<rect x="445.39" y="323.55" width="3.24" height="2.3" fill="#555"/>
<rect x="448.63" y="323.55" width="1.79" height="2.3" fill="#bbb"/>
<rect x="450.43" y="323.55" width="4.23" height="2.3" fill="#555"/>
<rect x="454.65" y="323.55" width="5.75" height="2.3" fill="#555"/>
<rect x="460.4" y="323.55" width="4.01" height="2.3" fill="#111"/>
<rect x="464.41" y="323.55" width="5.89" height="2.3" fill="#111"/>
<rect x="470.3" y="323.55" width="3.87" height="2.3" fill="#777"/>
<rect x="474.17" y="323.55" width="2.59" height="2.3" fill="#777"/>
<rect x="476.76" y="323.55" width="3.8" height="2.3" fill="#555"/>
<rect x="480.56" y="323.55" width="2.68" height="2.3" fill="#777"/>
<rect x="483.24" y="323.55" width="1.69" height="2.3" fill="#555"/>
<rect x="484.93" y="323.55" width="4.27" height="2.3" fill="#333"/>
<rect x="489.2" y="323.55" width="1.67" height="2.3" fill="#111"/>
<rect x="490.87" y="323.55" width="3.91" height="2.3" fill="#555"/>
<rect x="494.78" y="323.55" width="2.19" height="2.3" fill="#111"/>
<rect x="496.96" y="323.55" width="3.25" height="2.3" fill="#333"/>
<rect x="500.22" y="323.55" width="3.43" height="2.3" fill="#fff"/>
<rect x="503.65" y="323.55" width="2.94" height="2.3" fill="#bbb"/>
<rect x="506.59" y="323.55" width="5.01" height="2.3" fill="#bbb"/>
<rect x="511.6" y="323.55" width="1.59" height="2.3" fill="#eee"/>
<rect x="513.19" y="323.55" width="3.72" height="2.3" fill="#333"/>
<rect x="516.91" y="323.55" width="4.7" height="2.3" fill="#eee"/>
<rect x="521.62" y="323.55" width="4.12" height="2.3" fill="#111"/>
<rect x="525.74" y="323.55" width="1.77" height="2.3" fill="#999"/>
<rect x="527.5" y="323.55" width="1.99" height="2.3" fill="#333"/>
<rect x="529.5" y="323.55" width="1.93" height="2.3" fill="#fff"/>
<rect x="531.43" y="323.55" width="3.22" height="2.3" fill="#111"/>
<rect x="534.65" y="323.55" width="4.87" height="2.3" fill="#555"/>
<rect x="539.52" y="323.55" width="4.99" height="2.3" fill="#333"/>
<rect x="544.51" y="323.55" width="2.83" height="2.3" fill="#333"/>
<rect x="547.34" y="323.55" width="4.05" height="2.3" fill="#555"/>
<rect x="551.39" y="323.55" width="5.03" height="2.3" fill="#111"/>
<rect x="556.42" y="323.55" width="5.23" height="2.3" fill="#eee"/>
<rect x="561.65" y="323.55" width="3.48" height="2.3" fill="#111"/>
<rect x="565.13" y="323.55" width="1.49" height="2.3" fill="#eee"/>
<rect x="566.62" y="323.55" width="4.31" height="2.3" fill="#fff"/>
<rect x="570.92" y="323.55" width="2.57" height="2.3" fill="#999"/>
<rect x="573.49" y="323.55" width="5.46" height="2.3" fill="#333"/>
<rect x="578.95" y="323.55" width="1.31" height="2.3" fill="#fff"/>
<rect x="580.26" y="323.55" width="2.91" height="2.3" fill="#555"/>
<rect x="583.16" y="323.55" width="1.76" height="2.3" fill="#111"/>
<rect x="584.92" y="323.55" width="2.25" height="2.3" fill="#eee"/>
<rect x="587.17" y="323.55" width="1.82" height="2.3" fill="#bbb"/>
<rect x="588.99" y="323.55" width="3.11" height="2.3" fill="#fff"/>
<rect x="592.1" y="323.55" width="1.59" height="2.3" fill="#fff"/>
<rect x="593.69" y="323.55" width="3.13" height="2.3" fill="#eee"/>
<rect x="596.82" y="323.55" width="5.44" height="2.3" fill="#999"/>
<rect x="602.26" y="323.55" width="5.35" height="2.3" fill="#eee"/>
<rect x="607.6" y="323.55" width="0.3" height="2.3" fill="#333"/>
<rect x="500" y="323.55" width="3.5" height="2.3" fill="#e8a020"/>
<rect x="503.5" y="323.55" width="3" height="2.3" fill="#30b8c0"/>
<rect x="612.2" y="323.6" width="6.4" height="2.2" fill="#111"/>
<rect x="630" y="323.9" width="6" height="1.6" fill="#ddd"/>
<rect x="638" y="323.6" width="5" height="2.2" fill="#111"/>
<line x1="360.4" y1="344.5" x2="650.3" y2="344.5" stroke="#f6c6d0" stroke-width="0.4"/>
<line x1="360.4" y1="368.6" x2="650.3" y2="368.6" stroke="#f6c6d0" stroke-width="0.4"/>
<line x1="360.4" y1="376.2" x2="650.3" y2="376.2" stroke="#f6c6d0" stroke-width="0.4"/>
<line x1="360.4" y1="400.2" x2="650.3" y2="400.2" stroke="#f6c6d0" stroke-width="0.4"/>
<line x1="360.4" y1="350.5" x2="650.3" y2="350.5" stroke="#ececec" stroke-width="0.35"/>
<line x1="360.4" y1="356.5" x2="650.3" y2="356.5" stroke="#ececec" stroke-width="0.35"/>
<line x1="360.4" y1="362.5" x2="650.3" y2="362.5" stroke="#ececec" stroke-width="0.35"/>
<line x1="360.4" y1="382.2" x2="650.3" y2="382.2" stroke="#ececec" stroke-width="0.35"/>
<line x1="360.4" y1="388.2" x2="650.3" y2="388.2" stroke="#ececec" stroke-width="0.35"/>
<line x1="360.4" y1="394.2" x2="650.3" y2="394.2" stroke="#ececec" stroke-width="0.35"/>
<text x="503" y="343.4" text-anchor="middle" font-size="4.15" fill="#222">RNA-seq rna_at072:SK-MEL-28 RNA-seq polyA (RNA atlas)</text>
<text x="503" y="374.6" text-anchor="middle" font-size="4.12" fill="#222">RNA-seq rna_at072_t:SK-MEL-28 RNA-seq Total (RNA atlas)</text>
<text x="469.3" y="355.4" font-size="9.08" fill="#111">PolyA RNA-seq</text>
<text x="471.4" y="388.2" font-size="9.09" fill="#111">Total RNA-seq</text>
<text transform="translate(350.6 357) rotate(-90)" text-anchor="middle" font-size="3.3" fill="#222">Signal</text>
<text transform="translate(350.6 388.5) rotate(-90)" text-anchor="middle" font-size="3.3" fill="#222">Signal</text>
<text transform="translate(357.2 368.6) rotate(-90)" text-anchor="middle" font-size="3" fill="#222">0</text>
<text transform="translate(357.2 364.65) rotate(-90)" text-anchor="middle" font-size="3" fill="#222">2</text>
<text transform="translate(357.2 360.7) rotate(-90)" text-anchor="middle" font-size="3" fill="#222">4</text>
<text transform="translate(357.2 356.75) rotate(-90)" text-anchor="middle" font-size="3" fill="#222">6</text>
<text transform="translate(357.2 352.8) rotate(-90)" text-anchor="middle" font-size="3" fill="#222">8</text>
<text transform="translate(357.2 348.85) rotate(-90)" text-anchor="middle" font-size="3" fill="#222">10</text>
<text transform="translate(357.2 344.9) rotate(-90)" text-anchor="middle" font-size="3" fill="#222">12</text>
<text transform="translate(357.2 400.2) rotate(-90)" text-anchor="middle" font-size="3" fill="#222">0</text>
<text transform="translate(357.2 396.25) rotate(-90)" text-anchor="middle" font-size="3" fill="#222">5</text>
<text transform="translate(357.2 392.3) rotate(-90)" text-anchor="middle" font-size="3" fill="#222">10</text>
<text transform="translate(357.2 388.35) rotate(-90)" text-anchor="middle" font-size="3" fill="#222">15</text>
<text transform="translate(357.2 384.4) rotate(-90)" text-anchor="middle" font-size="3" fill="#222">20</text>
<text transform="translate(357.2 380.45) rotate(-90)" text-anchor="middle" font-size="3" fill="#222">25</text>
<text transform="translate(357.2 376.5) rotate(-90)" text-anchor="middle" font-size="3" fill="#222">30</text>
<path d="M376.6 368.6V354.92H377.4V368.6ZM377.4 368.6V346.42H378.2V346.23H378.4V368.6ZM378.4 368.6V356.82H379.2V357.36H379.4V368.6ZM379.4 368.6V353.81H380.2V354.52H381V353.43H381.6V368.6ZM381.6 368.6V361.38H382.4V360.5H383.2V356.79H384V368.6ZM384 368.6V358.48H384.8V358.92H385.6V358.36H386.4V360.72H387.2V361.34H388V361.47H388.8V361.5H389.6V364.14H390.4V363.61H391.2V361.61H392V368.6ZM392 368.6V359.66H392.8V363.82H393.6V364.31H394.4V364.91H395.2V361.04H396V364.94H396.8V365.33H397.6V362.01H398.4V364.81H399.2V362.51H400V365.7H400.8V363.05H401.6V361.87H402.4V365.53H403.2V364.98H404V368.6ZM404 368.6V364.17H404.8V364.12H405.6V364.2H406.4V364.6H407.2V366.74H408V365.07H408.8V364.95H409.6V366.63H410.4V364.93H411.2V365.32H412V366.65H412.8V365.01H413.6V365.43H414.4V365.85H415.2V366.21H416V367.35H416.8V366.76H417.6V366.22H418V368.6ZM418 368.6V367.65H418.8V366.54H419.6V367.44H420.4V366.62H421.2V367.76H422V367.13H422.8V366.67H423.6V367.03H424.4V367.14H425.2V367.62H426V367.22H426.8V367.2H427.6V367.77H428.4V367.88H429.2V368.18H430V367.56H430.8V367.78H431.6V367.85H432V368.6ZM436 368.6V367.89H436.8V367.78H437.6V368.09H438V368.6ZM447 368.6V367.55H447.8V366.58H448.6V366.88H449.4V367.61H450.2V366.95H451V367.43H451.8V367.3H452V368.6ZM455 368.6V366.52H455.8V367.57H456.6V367.61H457.4V367.73H458.2V367.18H459V367.94H459.8V367.38H460.6V367.95H461.4V367.72H462.2V367.72H463V367.28H463.8V368.2H464.6V367.99H465V368.6ZM472 368.6V367.76H472.8V367.54H473.6V367.29H474.4V367.3H475.2V367.7H476V368.6ZM485.5 368.6V367.67H486.3V367.65H487.1V367.1H487.9V367.51H488.7V367.52H489V368.6ZM503 368.6V366.3H503.8V365.49H504.6V365.44H505.4V365.39H506.2V366.6H507V366.85H507.5V368.6ZM509 368.6V367.62H509.8V367.31H510.6V367.95H511.4V367.91H512.2V367.68H513V368.6ZM535.5 368.6V366.14H536.3V365.42H537.1V365.63H537.9V364.72H538V368.6ZM539.5 368.6V366.16H540.3V363.32H541.1V365.8H541.9V366.31H542.7V365.95H543.5V365.91H544.3V366.37H544.5V368.6ZM549.5 368.6V367.5H550.3V366.2H551.1V367.36H551.9V367.43H552.5V368.6ZM558.5 368.6V367.57H559.3V367.48H560.1V367.3H560.9V366.89H561.7V367.67H562.5V367.32H563.3V367.77H563.6V368.6ZM570 368.6V367.85H570.8V367.76H571.5V368.6ZM580.5 368.6V367.48H581.3V367.72H582.1V367.27H582.9V367.55H583V368.6ZM584.9 368.6V352.85H585.7V354.09H586.5V354.46H587.3V354.16H588.1V354.55H588.9V354.66H589.2V368.6ZM604.3 368.6V353.11H605.1V355.77H605.9V355.65H606.7V356.11H606.8V368.6ZM606.8 368.6V366.37H607.6V365.67H608.4V366.1H609V368.6ZM609 368.6V357.71H609.8V359.26H610.6V361.15H611.4V359.54H612.2V358.92H613V360.33H613.8V361.53H614.6V361.95H615.4V360.37H616.2V359.58H617V359.89H617.8V361.13H618.6V361.88H619V368.6ZM619 368.6V355.91H619.8V359.15H620.6V357.97H621.4V361.51H622V368.6ZM622 368.6V361.92H622.8V362.04H623.6V361.06H624.4V364.13H625.2V362.39H626V363.21H626.8V362.69H627.6V363.67H628.4V365.09H629.2V363.5H630V363.47H630.8V365.38H631V368.6ZM631 368.6V358.89H631.8V359H632.6V363.06H633.4V362.41H634.2V363.43H634.5V368.6ZM634.5 368.6V365.97H635.3V365.01H636.1V364.12H636.9V363.82H637.7V363.83H638.5V364.32H639.3V363.58H640V368.6ZM640 368.6V357.96H640.8V357.36H641.6V360.42H642.4V362.18H643.2V363.03H643.5V368.6ZM643.5 368.6V364.82H644.3V365.8H645.1V365.04H645.9V365.63H646.7V367.24H647.5V367.23H648V368.6Z" fill="#161616"/>
<path d="M362 400.2V399.6H362.8V399.75H363.6V399.69H364.4V398.95H365.2V399.88H366V399.83H366.8V399.35H367.6V399.42H368.4V398.8H369.2V399.08H370V399.63H370.8V399.66H371.6V399.43H372.4V398.66H373.2V398.89H374V400.2ZM376.6 400.2V386.89H377.4V400.2ZM377.4 400.2V378.79H378.2V379.34H378.6V400.2ZM378.6 400.2V385.51H379.4V389.31H380.2V391.14H381V388.95H381.8V385.83H382.6V390.3H383.4V389.91H384.2V392.11H384.5V400.2ZM384.5 400.2V397.25H385.3V395.99H386.1V396.15H386.9V397H387.7V397.07H388.5V395.25H389.3V396.12H390V400.2ZM390 400.2V390.24H390.8V392.88H391.6V392.97H392.4V395.6H393.2V393.55H394V394.21H394.8V392.77H395.6V395.21H396.4V392.58H397.2V392.8H398V394.63H398.8V393.72H399.6V394.45H400.4V393.69H401.2V392.91H402V395.01H402.6V400.2ZM402.6 400.2V397.33H403.4V398.93H404.2V398.21H405V398.44H405.8V398.27H406V400.2ZM406 400.2V394.35H406.8V394.32H407.6V396.51H408.4V396.25H409.2V396.01H410V394.66H410.8V394.81H411.6V395.22H412.4V397.06H413.2V397.02H414V395.8H414.8V395.81H415.6V395.65H416.4V395.61H417V400.2ZM417 400.2V399.16H417.8V398.7H418.6V398.29H419.4V398.98H420V400.2ZM420 400.2V396.76H420.8V397.67H421.6V397.49H422.4V396.94H423.2V396.83H424V397.84H424.8V396.98H425.6V397.7H426.4V396.59H427.2V397.09H428V397.52H428.8V397.89H429V400.2ZM429 400.2V399.01H429.8V399.39H430.6V399.1H431.4V399.56H432.2V399.66H433V399.34H433.8V399.12H434.6V399.7H435.4V399.56H436.2V399.61H437V399.67H437.8V399.64H438.6V399.64H439.4V399.68H440V400.2ZM442 400.2V397.84H442.8V398.49H443.6V398.15H444.4V398.44H445.2V398.55H446V397.91H446.8V398.32H447.6V397.62H448.4V398.56H449.2V398.79H450V398.22H450.8V397.86H451.6V398.29H452.4V398.05H453.2V398H454V398.46H454.8V398.71H455.6V398.77H456.4V399.13H457.2V399.12H458V398.46H458.8V398.8H459.6V399.34H460.4V398.83H461.2V399.01H462V398.1H462.8V398.85H463.6V398.87H464.4V398.51H465.2V398.29H466V399.38H466.8V399.37H467.6V398.84H468.4V399.4H469.2V398.59H470V400.2ZM472 400.2V399.52H472.8V398.45H473.6V398.2H474.4V398.7H475.2V399.22H476V398.06H476.8V398.46H477.6V399.23H478.4V398.46H479.2V399.54H480V398.98H480.8V399.04H481.6V399.19H482.4V399.22H483.2V398.89H484V398.55H484.8V398.8H485.6V399.21H486.4V398.2H487.2V398.81H488V399.43H488.8V398.19H489.6V398.78H490.4V399.18H491.2V398.87H492V400.2ZM494 400.2V396.49H494.8V397.13H495.6V396.52H496V400.2ZM498.5 400.2V395.33H499.3V396.94H500.1V396.62H500.9V397.94H501V400.2ZM502 400.2V398.74H502.8V398.76H503.6V398.23H504.4V399H505.2V398.34H506V399.21H506.8V398.01H507.6V399.5H508.4V398.77H509.2V399.28H510V398.97H510.8V399.07H511.6V398.4H512.4V398.17H513.2V398.59H514V398.6H514.8V398.09H515.6V397.49H516.4V398.83H517.2V399.32H518V398.59H518.8V398.86H519.6V399.41H520.4V397.98H521.2V398.13H522V398.7H522.8V398.78H523.6V398.3H524.4V398.28H525.2V398.7H526V398.24H526.8V399.06H527.6V399.02H528.4V397.98H529.2V397.98H530V398.81H530.8V399.28H531.6V398.35H532.4V397.86H533.2V397.89H534V400.2ZM535 400.2V399.21H535.8V397.98H536.6V399.24H537.4V398.99H538.2V398.66H539V398H539.8V398.64H540.6V398.25H541.4V399H542.2V398.96H543V399.04H543.8V398.6H544.6V398.85H545.4V397.15H546.2V397.38H547V399.1H547.8V398.56H548.6V398.39H549.4V398.65H550.2V397.93H551V397.86H551.8V398.23H552.6V399.09H553.4V398.03H554.2V397.87H555V398H555.8V397.65H556.6V398.22H557.4V398.76H558.2V398.4H559V397.8H559.8V398.09H560.6V398.83H561.4V397.37H562.2V397.44H563V398.28H563.8V398.22H564.6V398.39H565V400.2ZM566 400.2V399.42H566.8V398.77H567.6V399.34H568.4V399.31H569.2V399.55H570V398.62H570.8V398.72H571.6V399.17H572.4V399.13H573.2V398.23H574V399.57H574.8V399.47H575.6V398.42H576.4V398.65H577.2V398.78H578V398.49H578.8V398.5H579.6V398.66H580.4V398.93H581.2V398.53H582V398.55H582.8V399.56H583V400.2ZM584.9 400.2V387.3H585.7V385.87H586.5V387.27H587.3V387.45H588.1V388.54H588.9V388.12H589.2V400.2ZM589.2 400.2V399.44H590V398.87H590.8V398.91H591.6V399.55H592.4V398.8H593.2V398.98H594V399.41H594.8V399.14H595.6V399.53H596.4V399.45H597V400.2ZM599 400.2V399.39H599.8V399.57H600.6V399.7H601.4V399.76H602.2V399.7H603V400.2ZM604.3 400.2V387.44H605.1V388.87H605.9V389.88H606.7V389.68H606.8V400.2ZM606.8 400.2V398.08H607.6V397.77H608.4V397.96H609V400.2ZM609 400.2V391.34H609.8V394.69H610.6V390.48H611.4V392.82H612.2V395.14H613V394.42H613.8V393.92H614.6V392.06H615.4V394.5H616.2V393.67H617V394.45H617.8V395.03H618.6V395.73H619.4V393.45H620.2V395.75H621V394.46H621.8V395.44H622.6V394.85H623.4V395.07H624.2V395.71H625V393.75H625.8V393.77H626V400.2ZM626 400.2V398.68H626.8V398.49H627.6V398.25H628.4V398.47H629V400.2ZM629 400.2V396.56H629.8V395.5H630.6V397.04H631.4V396.66H632.2V395.43H633V396.51H633.8V394.32H634V400.2ZM634 400.2V397.82H634.8V398.77H635.6V398.58H636.4V398.36H637.2V398.2H638V400.2ZM638 400.2V394.11H638.8V395.89H639.6V395.14H640.4V394.55H641.2V395.85H642V396.43H642.8V396.41H643.6V397.52H644.4V397.38H645.2V397.2H646V397.01H646.8V397.77H647.5V400.2Z" fill="#8a8683"/>
<line x1="359.5" y1="405.4" x2="650.3" y2="405.4" stroke="#555" stroke-width="0.4"/>
<line x1="359.5" y1="403.9" x2="359.5" y2="405.4" stroke="#555" stroke-width="0.3"/>
<line x1="362.71" y1="404.6" x2="362.71" y2="405.4" stroke="#555" stroke-width="0.3"/>
<line x1="365.92" y1="404.6" x2="365.92" y2="405.4" stroke="#555" stroke-width="0.3"/>
<line x1="369.13" y1="404.6" x2="369.13" y2="405.4" stroke="#555" stroke-width="0.3"/>
<line x1="372.34" y1="404.6" x2="372.34" y2="405.4" stroke="#555" stroke-width="0.3"/>
<line x1="375.55" y1="403.9" x2="375.55" y2="405.4" stroke="#555" stroke-width="0.3"/>
<line x1="378.76" y1="404.6" x2="378.76" y2="405.4" stroke="#555" stroke-width="0.3"/>
<line x1="381.97" y1="404.6" x2="381.97" y2="405.4" stroke="#555" stroke-width="0.3"/>
<line x1="385.18" y1="404.6" x2="385.18" y2="405.4" stroke="#555" stroke-width="0.3"/>
<line x1="388.39" y1="404.6" x2="388.39" y2="405.4" stroke="#555" stroke-width="0.3"/>
<line x1="391.6" y1="403.9" x2="391.6" y2="405.4" stroke="#555" stroke-width="0.3"/>
<line x1="394.81" y1="404.6" x2="394.81" y2="405.4" stroke="#555" stroke-width="0.3"/>
<line x1="398.02" y1="404.6" x2="398.02" y2="405.4" stroke="#555" stroke-width="0.3"/>
<line x1="401.23" y1="404.6" x2="401.23" y2="405.4" stroke="#555" stroke-width="0.3"/>
<line x1="404.44" y1="404.6" x2="404.44" y2="405.4" stroke="#555" stroke-width="0.3"/>
<line x1="407.65" y1="403.9" x2="407.65" y2="405.4" stroke="#555" stroke-width="0.3"/>
<line x1="410.86" y1="404.6" x2="410.86" y2="405.4" stroke="#555" stroke-width="0.3"/>
<line x1="414.07" y1="404.6" x2="414.07" y2="405.4" stroke="#555" stroke-width="0.3"/>
<line x1="417.28" y1="404.6" x2="417.28" y2="405.4" stroke="#555" stroke-width="0.3"/>
<line x1="420.49" y1="404.6" x2="420.49" y2="405.4" stroke="#555" stroke-width="0.3"/>
<line x1="423.7" y1="403.9" x2="423.7" y2="405.4" stroke="#555" stroke-width="0.3"/>
<line x1="426.91" y1="404.6" x2="426.91" y2="405.4" stroke="#555" stroke-width="0.3"/>
<line x1="430.12" y1="404.6" x2="430.12" y2="405.4" stroke="#555" stroke-width="0.3"/>
<line x1="433.33" y1="404.6" x2="433.33" y2="405.4" stroke="#555" stroke-width="0.3"/>
<line x1="436.54" y1="404.6" x2="436.54" y2="405.4" stroke="#555" stroke-width="0.3"/>
<line x1="439.75" y1="403.9" x2="439.75" y2="405.4" stroke="#555" stroke-width="0.3"/>
<line x1="442.96" y1="404.6" x2="442.96" y2="405.4" stroke="#555" stroke-width="0.3"/>
<line x1="446.17" y1="404.6" x2="446.17" y2="405.4" stroke="#555" stroke-width="0.3"/>
<line x1="449.38" y1="404.6" x2="449.38" y2="405.4" stroke="#555" stroke-width="0.3"/>
<line x1="452.59" y1="404.6" x2="452.59" y2="405.4" stroke="#555" stroke-width="0.3"/>
<line x1="455.8" y1="403.9" x2="455.8" y2="405.4" stroke="#555" stroke-width="0.3"/>
<line x1="459.01" y1="404.6" x2="459.01" y2="405.4" stroke="#555" stroke-width="0.3"/>
<line x1="462.22" y1="404.6" x2="462.22" y2="405.4" stroke="#555" stroke-width="0.3"/>
<line x1="465.43" y1="404.6" x2="465.43" y2="405.4" stroke="#555" stroke-width="0.3"/>
<line x1="468.64" y1="404.6" x2="468.64" y2="405.4" stroke="#555" stroke-width="0.3"/>
<line x1="471.85" y1="403.9" x2="471.85" y2="405.4" stroke="#555" stroke-width="0.3"/>
<line x1="475.06" y1="404.6" x2="475.06" y2="405.4" stroke="#555" stroke-width="0.3"/>
<line x1="478.27" y1="404.6" x2="478.27" y2="405.4" stroke="#555" stroke-width="0.3"/>
<line x1="481.48" y1="404.6" x2="481.48" y2="405.4" stroke="#555" stroke-width="0.3"/>
<line x1="484.69" y1="404.6" x2="484.69" y2="405.4" stroke="#555" stroke-width="0.3"/>
<line x1="487.9" y1="403.9" x2="487.9" y2="405.4" stroke="#555" stroke-width="0.3"/>
<line x1="491.11" y1="404.6" x2="491.11" y2="405.4" stroke="#555" stroke-width="0.3"/>
<line x1="494.32" y1="404.6" x2="494.32" y2="405.4" stroke="#555" stroke-width="0.3"/>
<line x1="497.53" y1="404.6" x2="497.53" y2="405.4" stroke="#555" stroke-width="0.3"/>
<line x1="500.74" y1="404.6" x2="500.74" y2="405.4" stroke="#555" stroke-width="0.3"/>
<line x1="503.95" y1="403.9" x2="503.95" y2="405.4" stroke="#555" stroke-width="0.3"/>
<line x1="507.16" y1="404.6" x2="507.16" y2="405.4" stroke="#555" stroke-width="0.3"/>
<line x1="510.37" y1="404.6" x2="510.37" y2="405.4" stroke="#555" stroke-width="0.3"/>
<line x1="513.58" y1="404.6" x2="513.58" y2="405.4" stroke="#555" stroke-width="0.3"/>
<line x1="516.79" y1="404.6" x2="516.79" y2="405.4" stroke="#555" stroke-width="0.3"/>
<line x1="520" y1="403.9" x2="520" y2="405.4" stroke="#555" stroke-width="0.3"/>
<line x1="523.21" y1="404.6" x2="523.21" y2="405.4" stroke="#555" stroke-width="0.3"/>
<line x1="526.42" y1="404.6" x2="526.42" y2="405.4" stroke="#555" stroke-width="0.3"/>
<line x1="529.63" y1="404.6" x2="529.63" y2="405.4" stroke="#555" stroke-width="0.3"/>
<line x1="532.84" y1="404.6" x2="532.84" y2="405.4" stroke="#555" stroke-width="0.3"/>
<line x1="536.05" y1="403.9" x2="536.05" y2="405.4" stroke="#555" stroke-width="0.3"/>
<line x1="539.26" y1="404.6" x2="539.26" y2="405.4" stroke="#555" stroke-width="0.3"/>
<line x1="542.47" y1="404.6" x2="542.47" y2="405.4" stroke="#555" stroke-width="0.3"/>
<line x1="545.68" y1="404.6" x2="545.68" y2="405.4" stroke="#555" stroke-width="0.3"/>
<line x1="548.89" y1="404.6" x2="548.89" y2="405.4" stroke="#555" stroke-width="0.3"/>
<line x1="552.1" y1="403.9" x2="552.1" y2="405.4" stroke="#555" stroke-width="0.3"/>
<line x1="555.31" y1="404.6" x2="555.31" y2="405.4" stroke="#555" stroke-width="0.3"/>
<line x1="558.52" y1="404.6" x2="558.52" y2="405.4" stroke="#555" stroke-width="0.3"/>
<line x1="561.73" y1="404.6" x2="561.73" y2="405.4" stroke="#555" stroke-width="0.3"/>
<line x1="564.94" y1="404.6" x2="564.94" y2="405.4" stroke="#555" stroke-width="0.3"/>
<line x1="568.15" y1="403.9" x2="568.15" y2="405.4" stroke="#555" stroke-width="0.3"/>
<line x1="571.36" y1="404.6" x2="571.36" y2="405.4" stroke="#555" stroke-width="0.3"/>
<line x1="574.57" y1="404.6" x2="574.57" y2="405.4" stroke="#555" stroke-width="0.3"/>
<line x1="577.78" y1="404.6" x2="577.78" y2="405.4" stroke="#555" stroke-width="0.3"/>
<line x1="580.99" y1="404.6" x2="580.99" y2="405.4" stroke="#555" stroke-width="0.3"/>
<line x1="584.2" y1="403.9" x2="584.2" y2="405.4" stroke="#555" stroke-width="0.3"/>
<line x1="587.41" y1="404.6" x2="587.41" y2="405.4" stroke="#555" stroke-width="0.3"/>
<line x1="590.62" y1="404.6" x2="590.62" y2="405.4" stroke="#555" stroke-width="0.3"/>
<line x1="593.83" y1="404.6" x2="593.83" y2="405.4" stroke="#555" stroke-width="0.3"/>
<line x1="597.04" y1="404.6" x2="597.04" y2="405.4" stroke="#555" stroke-width="0.3"/>
<line x1="600.25" y1="403.9" x2="600.25" y2="405.4" stroke="#555" stroke-width="0.3"/>
<line x1="603.46" y1="404.6" x2="603.46" y2="405.4" stroke="#555" stroke-width="0.3"/>
<line x1="606.67" y1="404.6" x2="606.67" y2="405.4" stroke="#555" stroke-width="0.3"/>
<line x1="609.88" y1="404.6" x2="609.88" y2="405.4" stroke="#555" stroke-width="0.3"/>
<line x1="613.09" y1="404.6" x2="613.09" y2="405.4" stroke="#555" stroke-width="0.3"/>
<line x1="616.3" y1="403.9" x2="616.3" y2="405.4" stroke="#555" stroke-width="0.3"/>
<line x1="619.51" y1="404.6" x2="619.51" y2="405.4" stroke="#555" stroke-width="0.3"/>
<line x1="622.72" y1="404.6" x2="622.72" y2="405.4" stroke="#555" stroke-width="0.3"/>
<line x1="625.93" y1="404.6" x2="625.93" y2="405.4" stroke="#555" stroke-width="0.3"/>
<line x1="629.14" y1="404.6" x2="629.14" y2="405.4" stroke="#555" stroke-width="0.3"/>
<line x1="632.35" y1="403.9" x2="632.35" y2="405.4" stroke="#555" stroke-width="0.3"/>
<line x1="635.56" y1="404.6" x2="635.56" y2="405.4" stroke="#555" stroke-width="0.3"/>
<line x1="638.77" y1="404.6" x2="638.77" y2="405.4" stroke="#555" stroke-width="0.3"/>
<line x1="641.98" y1="404.6" x2="641.98" y2="405.4" stroke="#555" stroke-width="0.3"/>
<line x1="645.19" y1="404.6" x2="645.19" y2="405.4" stroke="#555" stroke-width="0.3"/>
<line x1="648.4" y1="403.9" x2="648.4" y2="405.4" stroke="#555" stroke-width="0.3"/>
<text x="386.8" y="409.3" text-anchor="middle" font-size="3.3" fill="#222">70,000,000</text>
<text x="420.2" y="409.3" text-anchor="middle" font-size="3.3" fill="#222">70,002,000</text>
<text x="453.6" y="409.3" text-anchor="middle" font-size="3.3" fill="#222">70,004,000</text>
<text x="487" y="409.3" text-anchor="middle" font-size="3.3" fill="#222">70,006,000</text>
<text x="520.4" y="409.3" text-anchor="middle" font-size="3.3" fill="#222">70,008,000</text>
<text x="553.8" y="409.3" text-anchor="middle" font-size="3.3" fill="#222">70,010,000</text>
<text x="587.2" y="409.3" text-anchor="middle" font-size="3.3" fill="#222">70,012,000</text>
<text x="620.6" y="409.3" text-anchor="middle" font-size="3.3" fill="#222">70,014,000</text>
<text x="647.5" y="409.3" text-anchor="middle" font-size="3.3" fill="#222">70,016,000</text>
<rect x="359.5" y="410.2" width="290.8" height="3.2" fill="#fff" stroke="#666" stroke-width="0.4"/>
<text x="504.8" y="412.9" text-anchor="middle" font-size="3" fill="#222">p13</text>
<text x="358.8" y="419.6" font-size="3.4" fill="#58a838">SAMMSON</text>
<line x1="378" y1="418.5" x2="634" y2="418.5" stroke="#98dc68" stroke-width="0.7"/>
<rect x="584.9" y="417.5" width="4" height="2" fill="#6aae58"/>
<rect x="604.3" y="417.5" width="1.9" height="2" fill="#6aae58"/>
<rect x="609" y="417.5" width="25" height="2" fill="#6aae58"/>
<text x="109.7" y="472.9" text-anchor="middle" font-size="8.94" fill="#f0dc30">Gene expression</text>
<text x="112" y="497.5" text-anchor="middle" font-size="8.97" fill="#111">SAMMSON in 25 tissues</text>
<rect x="35.6" y="504.7" width="153.2" height="157.1" rx="24.5" fill="#fff" stroke="#f3e23c" stroke-width="3"/>
<line x1="45.4" y1="576" x2="185.4" y2="576" stroke="#e9e9e9" stroke-width="0.4"/>
<line x1="45.4" y1="559" x2="185.4" y2="559" stroke="#e9e9e9" stroke-width="0.4"/>
<line x1="45.4" y1="542" x2="185.4" y2="542" stroke="#e9e9e9" stroke-width="0.4"/>
<line x1="45.4" y1="525" x2="185.4" y2="525" stroke="#e9e9e9" stroke-width="0.4"/>
<line x1="45.4" y1="512" x2="45.4" y2="593" stroke="#666" stroke-width="0.45"/>
<line x1="45.4" y1="593" x2="187" y2="593" stroke="#777" stroke-width="0.45"/>
<line x1="43.8" y1="593" x2="45.4" y2="593" stroke="#666" stroke-width="0.35"/>
<text x="42.3" y="594.35" text-anchor="end" font-size="3.8" fill="#222">0</text>
<line x1="43.8" y1="576" x2="45.4" y2="576" stroke="#666" stroke-width="0.35"/>
<text x="42.3" y="577.35" text-anchor="end" font-size="3.8" fill="#222">5</text>
<line x1="43.8" y1="559" x2="45.4" y2="559" stroke="#666" stroke-width="0.35"/>
<text x="42.3" y="560.35" text-anchor="end" font-size="3.8" fill="#222">10</text>
<line x1="43.8" y1="542" x2="45.4" y2="542" stroke="#666" stroke-width="0.35"/>
<text x="42.3" y="543.35" text-anchor="end" font-size="3.8" fill="#222">15</text>
<line x1="43.8" y1="525" x2="45.4" y2="525" stroke="#666" stroke-width="0.35"/>
<text x="42.3" y="526.35" text-anchor="end" font-size="3.8" fill="#222">20</text>
<rect x="45.8" y="589.8" width="3.4" height="0.99" fill="#c02020" fill-opacity="0.85"/>
<line x1="47.5" y1="588.19" x2="47.5" y2="590" stroke="#c02020" stroke-width="0.35"/>
<text transform="translate(46.3 595.6) rotate(90)" font-size="4.21" fill="#111">Adipose_system (4)</text>
<rect x="51.49" y="589.65" width="3.4" height="1.3" fill="#40a010" fill-opacity="0.85"/>
<line x1="53.19" y1="588.97" x2="53.19" y2="590" stroke="#40a010" stroke-width="0.35"/>
<text transform="translate(51.99 595.6) rotate(90)" font-size="4.21" fill="#111">Cardiac_system (19)</text>
<rect x="57.18" y="589.8" width="3.4" height="1.01" fill="#3030a0" fill-opacity="0.85"/>
<line x1="58.88" y1="586.81" x2="58.88" y2="590" stroke="#3030a0" stroke-width="0.35"/>
<circle cx="58.88" cy="584.05" r="0.5" fill="none" stroke="#888" stroke-width="0.25"/>
<text transform="translate(57.68 595.6) rotate(90)" font-size="4.21" fill="#111">Central_nervous_system (31)</text>
<line x1="65.17" y1="521" x2="65.17" y2="589.8" stroke="#d070d0" stroke-width="0.5"/>
<rect x="63.37" y="562" width="3.7" height="27.8" fill="#cc50cc" stroke="#a030a0" stroke-width="0.3" fill-opacity="0.85"/>
<line x1="63.37" y1="580" x2="67.07" y2="580" stroke="#fff" stroke-width="0.4"/>
<circle cx="65.17" cy="514.9" r="0.7" fill="none" stroke="#d070d0" stroke-width="0.3"/>
<circle cx="65.17" cy="519.5" r="0.7" fill="none" stroke="#d070d0" stroke-width="0.3"/>
<circle cx="65.17" cy="523" r="0.7" fill="none" stroke="#d070d0" stroke-width="0.3"/>
<circle cx="65.17" cy="530" r="0.7" fill="none" stroke="#d070d0" stroke-width="0.3"/>
<circle cx="65.17" cy="545" r="0.7" fill="none" stroke="#d070d0" stroke-width="0.3"/>
<circle cx="65.17" cy="551" r="0.7" fill="none" stroke="#d070d0" stroke-width="0.3"/>
<circle cx="65.17" cy="557" r="0.7" fill="none" stroke="#d070d0" stroke-width="0.3"/>
<circle cx="65.17" cy="566" r="0.7" fill="none" stroke="#d070d0" stroke-width="0.3"/>
<circle cx="65.17" cy="572" r="0.7" fill="none" stroke="#d070d0" stroke-width="0.3"/>
<circle cx="65.17" cy="578" r="0.7" fill="none" stroke="#d070d0" stroke-width="0.3"/>
<circle cx="65.17" cy="584" r="0.7" fill="none" stroke="#d070d0" stroke-width="0.3"/>
<text transform="translate(63.37 595.6) rotate(90)" font-size="4.21" fill="#111">Dermal_system (22)</text>
<rect x="68.56" y="589.71" width="3.4" height="1.18" fill="#c0b010" fill-opacity="0.85"/>
<text transform="translate(69.06 595.6) rotate(90)" font-size="4.21" fill="#111">Embryonic_stem_cells_system (1)</text>
<rect x="74.25" y="589.84" width="3.4" height="0.92" fill="#90c010" fill-opacity="0.85"/>
<text transform="translate(74.75 595.6) rotate(90)" font-size="4.21" fill="#111">Endocrine_system (8)</text>
<rect x="79.94" y="589.55" width="3.4" height="1.49" fill="#30b0c0" fill-opacity="0.85"/>
<line x1="81.64" y1="587.37" x2="81.64" y2="590" stroke="#30b0c0" stroke-width="0.35"/>
<text transform="translate(80.44 595.6) rotate(90)" font-size="4.21" fill="#111">Female_reproductive_system (27)</text>
<rect x="85.63" y="589.87" width="3.4" height="0.85" fill="#909090" fill-opacity="0.85"/>
<text transform="translate(86.13 595.6) rotate(90)" font-size="4.21" fill="#111">Gastrointestinal_system (26)</text>
<rect x="91.32" y="589.66" width="3.4" height="1.27" fill="#e09010" fill-opacity="0.85"/>
<line x1="93.02" y1="588.93" x2="93.02" y2="590" stroke="#e09010" stroke-width="0.35"/>
<text transform="translate(91.82 595.6) rotate(90)" font-size="4.21" fill="#111">Hair_system (5)</text>
<rect x="97.01" y="589.71" width="3.4" height="1.18" fill="#e07080" fill-opacity="0.85"/>
<text transform="translate(97.51 595.6) rotate(90)" font-size="4.21" fill="#111">Hematopoietic_system (39)</text>
<rect x="102.7" y="589.55" width="3.4" height="1.5" fill="#303090" fill-opacity="0.85"/>
<text transform="translate(103.2 595.6) rotate(90)" font-size="4.21" fill="#111">Hepatic_system (5)</text>
<rect x="108.39" y="589.53" width="3.4" height="1.54" fill="#a0c010" fill-opacity="0.85"/>
<line x1="110.09" y1="587.24" x2="110.09" y2="590" stroke="#a0c010" stroke-width="0.35"/>
<circle cx="110.09" cy="584.33" r="0.5" fill="none" stroke="#888" stroke-width="0.25"/>
<text transform="translate(108.89 595.6) rotate(90)" font-size="4.21" fill="#111">lymphatic_system (6)</text>
<rect x="114.08" y="589.55" width="3.4" height="1.5" fill="#905010" fill-opacity="0.85"/>
<line x1="115.78" y1="588.7" x2="115.78" y2="590" stroke="#905010" stroke-width="0.35"/>
<circle cx="115.78" cy="585.75" r="0.5" fill="none" stroke="#888" stroke-width="0.25"/>
<text transform="translate(114.58 595.6) rotate(90)" font-size="4.21" fill="#111">Male_reproductive_system (10)</text>
<rect x="119.77" y="589.73" width="3.4" height="1.15" fill="#409020" fill-opacity="0.85"/>
<text transform="translate(120.27 595.6) rotate(90)" font-size="4.21" fill="#111">Mesenchymal_stem_system (6)</text>
<line x1="127.16" y1="579.4" x2="127.16" y2="590.6" stroke="#e04050" stroke-width="0.4"/>
<rect x="125.56" y="586.4" width="3.2" height="3.8" fill="#f06070" stroke="#d02030" stroke-width="0.3"/>
<circle cx="127.16" cy="568.2" r="0.6" fill="none" stroke="#e06070" stroke-width="0.3"/>
<circle cx="127.16" cy="575.7" r="0.6" fill="none" stroke="#e06070" stroke-width="0.3"/>
<circle cx="127.16" cy="582" r="0.6" fill="none" stroke="#e06070" stroke-width="0.3"/>
<text transform="translate(125.96 595.6) rotate(90)" font-size="4.21" fill="#111">Ocular_system (9)</text>
<rect x="131.15" y="589.78" width="3.4" height="1.04" fill="#70b0a0" fill-opacity="0.85"/>
<line x1="132.85" y1="588.15" x2="132.85" y2="590" stroke="#70b0a0" stroke-width="0.35"/>
<circle cx="132.85" cy="585.77" r="0.5" fill="none" stroke="#888" stroke-width="0.25"/>
<text transform="translate(131.65 595.6) rotate(90)" font-size="4.21" fill="#111">Oral_system (3)</text>
<rect x="136.84" y="589.67" width="3.4" height="1.27" fill="#401080" fill-opacity="0.85"/>
<text transform="translate(137.34 595.6) rotate(90)" font-size="4.21" fill="#111">Placenta_system (6)</text>
<rect x="142.53" y="589.63" width="3.4" height="1.35" fill="#d03010" fill-opacity="0.85"/>
<text transform="translate(143.03 595.6) rotate(90)" font-size="4.21" fill="#111">Pulmonary_system (23)</text>
<rect x="148.22" y="589.56" width="3.4" height="1.49" fill="#60b060" fill-opacity="0.85"/>
<text transform="translate(148.72 595.6) rotate(90)" font-size="4.21" fill="#111">Renal_system (15)</text>
<rect x="153.91" y="589.63" width="3.4" height="1.34" fill="#c070a0" fill-opacity="0.85"/>
<line x1="155.61" y1="587.11" x2="155.61" y2="590" stroke="#c070a0" stroke-width="0.35"/>
<text transform="translate(154.41 595.6) rotate(90)" font-size="4.21" fill="#111">Skeletal_muscle_system (4)</text>
<rect x="159.6" y="589.54" width="3.4" height="1.52" fill="#208020" fill-opacity="0.85"/>
<text transform="translate(160.1 595.6) rotate(90)" font-size="4.21" fill="#111">Skeletal_system (5)</text>
<rect x="165.29" y="589.61" width="3.4" height="1.37" fill="#60c0d0" fill-opacity="0.85"/>
<line x1="166.99" y1="587.17" x2="166.99" y2="590" stroke="#60c0d0" stroke-width="0.35"/>
<circle cx="166.99" cy="585.24" r="0.5" fill="none" stroke="#888" stroke-width="0.25"/>
<text transform="translate(165.79 595.6) rotate(90)" font-size="4.21" fill="#111">Sympathetic_nervous_system (11)</text>
<rect x="170.98" y="589.87" width="3.4" height="0.85" fill="#104070" fill-opacity="0.85"/>
<text transform="translate(171.48 595.6) rotate(90)" font-size="4.21" fill="#111">Tonsil_system (3)</text>
<rect x="176.67" y="589.5" width="3.4" height="1.59" fill="#e08010" fill-opacity="0.85"/>
<line x1="178.37" y1="587.24" x2="178.37" y2="590" stroke="#e08010" stroke-width="0.35"/>
<circle cx="178.37" cy="585.51" r="0.5" fill="none" stroke="#888" stroke-width="0.25"/>
<text transform="translate(177.17 595.6) rotate(90)" font-size="4.21" fill="#111">Umbilical_cord_system (4)</text>
<rect x="182.36" y="589.78" width="3.4" height="1.04" fill="#80d0a0" fill-opacity="0.85"/>
<text transform="translate(182.86 595.6) rotate(90)" font-size="4.21" fill="#111">Urothelial_system (4)</text>
<rect x="63" y="595" width="4.7" height="37.8" fill="none" stroke="#000" stroke-width="0.7"/>
<text x="87" y="518.7" font-size="8.94" fill="#111">Including melanoma</text>
<path d="M82.4 516.9L71 521.5" stroke="#111" stroke-width="0.75" fill="none"/><path d="M68.1 522.7l4.4 -4.2l1.7 4.1z" fill="#111"/>
<path d="M359.8 575.4C324.05 571.2 310.98 552.89 291.96 541.82A38.5 38.5 0 1 0 291.74 608.51C310.83 597.57 324.02 579.35 359.8 575.4Z" fill="#f3e23c"/>
<polygon points="237.1,571 227,571 227,565.9 218.5,575.1 227,584.3 227,579.2 237.1,579.2" fill="#f3e23c"/>
<path d="M359.8 575.4C395.6 579.19 409.68 597.35 428.82 608.19A38.5 38.5 0 1 0 428.29 541.51C409.32 552.66 395.54 571.04 359.8 575.4Z" fill="#d07bb0"/>
<polygon points="483.3,578.8 491.5,578.8 491.5,583.9 499.6,574.7 491.5,565.5 491.5,570.6 483.3,570.6" fill="#d07bb0"/>
<path d="M359.8 575.4C338.14 604.16 315.48 606.66 296.33 617.5A38.5 38.5 0 1 0 353.8 651.32C353.98 629.32 345.17 608.29 359.8 575.4Z" fill="#2070b4"/>
<polygon points="286.1,671.61 279.77,677.27 276.37,673.47 276.46,685.73 288.63,687.19 285.23,683.38 291.57,677.72" fill="#2070b4"/>
<path d="M359.8 575.4C374.63 608.2 365.99 629.36 366.3 651.36A38.5 38.5 0 1 0 423.57 617.18C404.36 606.46 381.63 604.03 359.8 575.4Z" fill="#d55c10"/>
<polygon points="428.16,677.85 434.34,683.53 430.89,687.29 442.86,685.79 443.34,673.74 439.89,677.5 433.71,671.81" fill="#d55c10"/>
<path d="M359.8 575.4C345.88 542.2 354 519.31 354.3 497.31A38.5 38.5 0 1 0 296.11 529.88C315.01 541.14 338.77 546.18 359.8 575.4Z" fill="#2ca87c"/>
<polygon points="298.25,465.67 292.9,458.31 297.03,455.31 284.65,453.92 282.14,466.13 286.27,463.13 291.62,470.49" fill="#2ca87c"/>
<path d="M359.8 575.4C381.04 546.34 405.26 540.74 424.24 529.63A38.5 38.5 0 1 0 366.3 496.62C366.43 518.62 373.96 542.3 359.8 575.4Z" fill="#e8a004"/>
<polygon points="429.62,470.69 434.05,464.89 438.1,467.99 436.08,455.49 423.49,456.81 427.54,459.91 423.1,465.71" fill="#e8a004"/>
<defs>
<clipPath id="kg"><circle cx="315.8" cy="496.8" r="34.7"/></clipPath>
<clipPath id="ko"><circle cx="404.8" cy="496.4" r="34.7"/></clipPath>
<clipPath id="kp"><circle cx="447.8" cy="574.7" r="34.7"/></clipPath>
<clipPath id="kb"><circle cx="315.3" cy="651" r="34.7"/></clipPath>
<clipPath id="kr"><circle cx="404.8" cy="650.8" r="34.7"/></clipPath>
<clipPath id="ky"><circle cx="272.6" cy="575.1" r="34.7"/></clipPath>
<radialGradient id="pg2" cx="0.5" cy="0.5" r="0.5"><stop offset="0.8" stop-color="#fff" stop-opacity="0"/><stop offset="1" stop-color="#fff" stop-opacity="0.35"/></radialGradient>
</defs>
<circle cx="315.8" cy="496.8" r="34.7" fill="#fff"/>
<circle cx="404.8" cy="496.4" r="34.7" fill="#fff"/>
<circle cx="447.8" cy="574.7" r="34.7" fill="#fff"/>
<circle cx="315.3" cy="651" r="34.7" fill="#fff"/>
<circle cx="404.8" cy="650.8" r="34.7" fill="#fff"/>
<circle cx="272.6" cy="575.1" r="34.7" fill="#fff"/>
<g clip-path="url(#kg)">
<path d="M316 496.4L316 468.1A28.3 28.3 0 0 1 334.75 475.2Z" fill="#7cc4e8" stroke="#7cc4e8" stroke-width="0.25"/>
<path d="M316 496.4L334.75 475.2A28.3 28.3 0 0 1 336.36 476.74Z" fill="#ffc830" stroke="#ffc830" stroke-width="0.25"/>
<path d="M316 496.4L336.36 476.74A28.3 28.3 0 0 1 337.68 478.21Z" fill="#e83090" stroke="#e83090" stroke-width="0.25"/>
<path d="M316 496.4L337.68 478.21A28.3 28.3 0 0 1 343.46 489.55Z" fill="#b4dc30" stroke="#b4dc30" stroke-width="0.25"/>
<path d="M316 496.4L343.46 489.55A28.3 28.3 0 0 1 344.28 497.39Z" fill="#103c60" stroke="#103c60" stroke-width="0.25"/>
<path d="M316 496.4L344.28 497.39A28.3 28.3 0 0 1 342.24 507Z" fill="#ffc83c" stroke="#ffc83c" stroke-width="0.25"/>
<path d="M316 496.4L342.24 507A28.3 28.3 0 0 1 340 511.4Z" fill="#ffa050" stroke="#ffa050" stroke-width="0.25"/>
<path d="M316 496.4L340 511.4A28.3 28.3 0 0 1 336.01 516.41Z" fill="#b4dc20" stroke="#b4dc20" stroke-width="0.25"/>
<path d="M316 496.4L336.01 516.41A28.3 28.3 0 0 1 317.97 524.63Z" fill="#58c010" stroke="#58c010" stroke-width="0.25"/>
<path d="M316 496.4L317.97 524.63A28.3 28.3 0 0 1 299.37 519.3Z" fill="#78b8e0" stroke="#78b8e0" stroke-width="0.25"/>
<path d="M316 496.4L299.37 519.3A28.3 28.3 0 0 1 296.7 517.1Z" fill="#3c4c6c" stroke="#3c4c6c" stroke-width="0.25"/>
<path d="M316 496.4L296.7 517.1A28.3 28.3 0 0 1 290.35 508.36Z" fill="#6c6c4c" stroke="#6c6c4c" stroke-width="0.25"/>
<path d="M316 496.4L290.35 508.36A28.3 28.3 0 0 1 288.32 502.28Z" fill="#ffe0a0" stroke="#ffe0a0" stroke-width="0.25"/>
<path d="M316 496.4L288.32 502.28A28.3 28.3 0 0 1 287.86 499.36Z" fill="#ffc890" stroke="#ffc890" stroke-width="0.25"/>
<path d="M316 496.4L287.86 499.36A28.3 28.3 0 0 1 288.22 491Z" fill="#ffb090" stroke="#ffb090" stroke-width="0.25"/>
<path d="M316 496.4L288.22 491A28.3 28.3 0 0 1 293.7 478.98Z" fill="#e83048" stroke="#e83048" stroke-width="0.25"/>
<path d="M316 496.4L293.7 478.98A28.3 28.3 0 0 1 294.97 477.46Z" fill="#309090" stroke="#309090" stroke-width="0.25"/>
<path d="M316 496.4L294.97 477.46A28.3 28.3 0 0 1 295.99 476.39Z" fill="#a0e0e0" stroke="#a0e0e0" stroke-width="0.25"/>
<path d="M316 496.4L295.99 476.39A28.3 28.3 0 0 1 298.58 474.1Z" fill="#fff0c0" stroke="#fff0c0" stroke-width="0.25"/>
<path d="M316 496.4L298.58 474.1A28.3 28.3 0 0 1 307.73 469.34Z" fill="#ffc080" stroke="#ffc080" stroke-width="0.25"/>
<path d="M316 496.4L307.73 469.34A28.3 28.3 0 0 1 312.06 468.38Z" fill="#ff8030" stroke="#ff8030" stroke-width="0.25"/>
<path d="M316 496.4L312.06 468.38A28.3 28.3 0 0 1 316 468.1Z" fill="#a8b0f0" stroke="#a8b0f0" stroke-width="0.25"/>
<circle cx="316" cy="496.4" r="28.3" fill="url(#pg2)"/>
<text x="327.27" y="467.56" text-anchor="middle" font-size="2.8" fill="#555">11.5%</text>
<text x="344.33" y="482.86" text-anchor="middle" font-size="2.8" fill="#555">7.2%</text>
<text x="347.63" y="493.98" text-anchor="middle" font-size="2.8" fill="#555">4.4%</text>
<text x="347.11" y="503.91" text-anchor="middle" font-size="2.8" fill="#555">5.6%</text>
<text x="344.33" y="511.74" text-anchor="middle" font-size="2.8" fill="#555">2.8%</text>
<text x="340.89" y="517.1" text-anchor="middle" font-size="2.8" fill="#555">3.6%</text>
<text x="329.19" y="526.24" text-anchor="middle" font-size="2.8" fill="#555">11.4%</text>
<text x="307.23" y="527.87" text-anchor="middle" font-size="2.8" fill="#555">11.1%</text>
<text x="295.77" y="521.84" text-anchor="middle" font-size="2.8" fill="#555">1.9%</text>
<text x="290.27" y="515.99" text-anchor="middle" font-size="2.8" fill="#555">6.1%</text>
<text x="285.84" y="507.39" text-anchor="middle" font-size="2.8" fill="#555">3.6%</text>
<text x="284.59" y="502.27" text-anchor="middle" font-size="2.8" fill="#555">1.7%</text>
<text x="284.23" y="495.91" text-anchor="middle" font-size="2.8" fill="#555">4.7%</text>
<text x="287.06" y="484.11" text-anchor="middle" font-size="2.8" fill="#555">7.5%</text>
<text x="294.93" y="473.48" text-anchor="middle" font-size="2.8" fill="#555">1.9%</text>
<text x="301.32" y="469.09" text-anchor="middle" font-size="2.8" fill="#555">5.8%</text>
<text x="309.12" y="466.25" text-anchor="middle" font-size="2.8" fill="#555">2.5%</text>
<text x="313.78" y="465.58" text-anchor="middle" font-size="2.8" fill="#555">2.2%</text>
</g>
<g clip-path="url(#ko)">
<path d="M371 490.5V490.1H371.75V490.1H372.5V490.1H373.25V490.1H374V490.1H374.75V490.1H375V490.5ZM377 490.5V490H377.75V490.1H378.5V490H379.25V490.1H380V490.1H380.5V490.5ZM383 490.5V483H383.75V483H384.2V490.5ZM388 490.5V490.07H388.75V489.93H389.5V489.92H390.25V489.98H391V489.96H391.75V489.79H392.5V490.06H393.25V490.04H393.3V490.5ZM393.3 490.5V482.7H394.05V481.13H394.8V479.58H395.55V476.69H396V490.5ZM396 490.5V477.81H396.75V477.37H397.5V474.21H398.25V473.45H399V475.26H399.5V490.5ZM399.5 490.5V461.84H400.25V468.14H401V466.11H401.75V464.91H401.8V490.5ZM401.8 490.5V471.39H402.55V478.37H403.1V490.5ZM403.1 490.5V487.8H403.85V488.02H404.6V487.97H405.35V487.84H406.1V487.36H406.85V488.6H407.6V488.38H408.35V488.75H409.1V487.77H409.85V488.81H410V490.5ZM410 490.5V486.94H410.75V486.04H411.5V487.25H412.25V485.88H413V490.5ZM413 490.5V489.32H413.75V489.08H414.5V488.51H415.25V488.69H416V488.1H416.75V489.31H417.5V489.04H418.25V488.19H419V488.58H419.75V487.67H420.5V489.03H421.25V489.07H422V488.19H422.75V488.94H423V490.5ZM423 490.5V486.57H423.75V485.85H424.5V486.33H425.25V484.43H426V485.67H426.75V485.23H427.5V484.43H428V490.5ZM428 490.5V488.86H428.75V486.67H429.5V487.11H430.25V487.11H431V487.91H431.5V490.5ZM431.5 490.5V483.79H432.25V482.92H433V481.19H433.75V481.01H434V490.5ZM434 490.5V474.37H434.75V478.79H435.5V479.69H436.2V490.5Z" fill="#8c8884"/>
<line x1="371" y1="499.7" x2="438" y2="499.7" stroke="#fbe6ea" stroke-width="0.4"/>
<path d="M383 528.2V520.2H383.75V520.2H384.2V528.2ZM388 528.2V526.72H388.75V526.95H389.5V527.05H390.25V527.05H391V526.71H391.75V526.71H392.5V526.28H393V528.2ZM393.3 528.2V515.43H394.05V509.79H394.2V528.2ZM394.2 528.2V503.49H394.95V505.77H395.2V528.2ZM395.2 528.2V517.53H395.95V516.86H396.7V515.57H397.45V516.38H397.5V528.2ZM397.5 528.2V513.64H398.25V509.98H399V511.3H399.5V528.2ZM399.5 528.2V509.43H400.25V510.06H401V512.85H401.6V528.2ZM401.6 528.2V520.31H402.35V523.23H403V528.2ZM403 528.2V525.65H403.75V525.56H404.5V525.85H405V528.2ZM405 528.2V521.42H405.75V520.41H406.5V521.5H407.25V522.05H408V528.2ZM408 528.2V524.18H408.75V521.52H409.5V524.21H410.25V523.45H411V523.04H411.75V521.51H412.5V523.76H413.25V524.11H414V523.35H414.75V523.83H415.5V524.98H416V528.2ZM416 528.2V525.41H416.75V524.82H417.5V525.79H418.25V524.84H419V525.22H419.75V525.53H420.5V525.26H421.25V524.26H422V525.41H422.75V524.67H423.5V525.18H424.25V524.59H425V528.2ZM425 528.2V522.83H425.75V522.65H426.5V523.85H427.25V521.54H428V523.26H428.75V523.1H429.5V524.14H430.25V522.7H431V528.2ZM431 528.2V524.9H431.75V524.62H432.5V524.99H433.25V525.58H434V524.98H434.75V524.33H435.5V525.74H436.25V526.11H437V525.13H437.75V525.32H438V528.2Z" fill="#8c8884"/>
</g>
<g clip-path="url(#kp)">
<rect x="439.15" y="579.64" width="1.5" height="1.5" fill="#e8747a" fill-opacity="0.9"/>
<rect x="420" y="588.7" width="1.5" height="1.5" fill="#e8747a" fill-opacity="0.9"/>
<rect x="427.46" y="594.34" width="1.5" height="1.5" fill="#e8747a" fill-opacity="0.9"/>
<rect x="448.15" y="582.01" width="1.5" height="1.5" fill="#e8747a" fill-opacity="0.9"/>
<rect x="467.82" y="556.85" width="1.5" height="1.5" fill="#e8747a" fill-opacity="0.9"/>
<rect x="462.93" y="573.72" width="1.5" height="1.5" fill="#e8747a" fill-opacity="0.9"/>
<rect x="452.48" y="581.33" width="1.5" height="1.5" fill="#e8747a" fill-opacity="0.9"/>
<rect x="462.53" y="555.26" width="1.5" height="1.5" fill="#e8747a" fill-opacity="0.9"/>
<rect x="437.97" y="585.9" width="1.5" height="1.5" fill="#e8747a" fill-opacity="0.9"/>
<rect x="441.67" y="572.83" width="1.5" height="1.5" fill="#e8747a" fill-opacity="0.9"/>
<rect x="466.75" y="557.49" width="1.5" height="1.5" fill="#e8747a" fill-opacity="0.9"/>
<rect x="460.61" y="568.55" width="1.5" height="1.5" fill="#e8747a" fill-opacity="0.9"/>
<rect x="455.22" y="582.62" width="1.5" height="1.5" fill="#e8747a" fill-opacity="0.9"/>
<rect x="453.24" y="566.44" width="1.5" height="1.5" fill="#e8747a" fill-opacity="0.9"/>
<rect x="452.02" y="576.11" width="1.5" height="1.5" fill="#e8747a" fill-opacity="0.9"/>
<rect x="468.94" y="554.02" width="1.5" height="1.5" fill="#e8747a" fill-opacity="0.9"/>
<rect x="466.44" y="556.42" width="1.5" height="1.5" fill="#e8747a" fill-opacity="0.9"/>
<rect x="419.71" y="584.69" width="1.5" height="1.5" fill="#e8747a" fill-opacity="0.9"/>
<rect x="463.75" y="556.57" width="1.5" height="1.5" fill="#e8747a" fill-opacity="0.9"/>
<rect x="452.31" y="579.37" width="1.5" height="1.5" fill="#e8747a" fill-opacity="0.9"/>
<rect x="443.06" y="574.19" width="1.5" height="1.5" fill="#e8747a" fill-opacity="0.9"/>
<rect x="454.18" y="572.82" width="1.5" height="1.5" fill="#e8747a" fill-opacity="0.9"/>
<rect x="465.02" y="556.62" width="1.5" height="1.5" fill="#e8747a" fill-opacity="0.9"/>
<rect x="462.36" y="561.4" width="1.5" height="1.5" fill="#e8747a" fill-opacity="0.9"/>
<rect x="449.68" y="576.21" width="1.5" height="1.5" fill="#e8747a" fill-opacity="0.9"/>
<rect x="439.23" y="575.51" width="1.5" height="1.5" fill="#e8747a" fill-opacity="0.9"/>
<rect x="437.84" y="581.41" width="1.5" height="1.5" fill="#e8747a" fill-opacity="0.9"/>
<rect x="452.4" y="570.42" width="1.5" height="1.5" fill="#e8747a" fill-opacity="0.9"/>
<rect x="421.66" y="584.6" width="1.5" height="1.5" fill="#e8747a" fill-opacity="0.9"/>
<rect x="466.15" y="562.61" width="1.5" height="1.5" fill="#e8747a" fill-opacity="0.9"/>
<rect x="465.05" y="565.14" width="1.5" height="1.5" fill="#e8747a" fill-opacity="0.9"/>
<rect x="465.35" y="553.5" width="1.5" height="1.5" fill="#e8747a" fill-opacity="0.9"/>
<rect x="434.11" y="579.62" width="1.5" height="1.5" fill="#e8747a" fill-opacity="0.9"/>
<rect x="462.95" y="558.93" width="1.5" height="1.5" fill="#e8747a" fill-opacity="0.9"/>
<rect x="442.75" y="586.11" width="1.5" height="1.5" fill="#e8747a" fill-opacity="0.9"/>
<rect x="461.16" y="557.74" width="1.5" height="1.5" fill="#e8747a" fill-opacity="0.9"/>
<rect x="442.44" y="572.75" width="1.5" height="1.5" fill="#e8747a" fill-opacity="0.9"/>
<rect x="452.19" y="571.81" width="1.5" height="1.5" fill="#e8747a" fill-opacity="0.9"/>
<rect x="464.21" y="556.08" width="1.5" height="1.5" fill="#e8747a" fill-opacity="0.9"/>
<rect x="456.35" y="559.68" width="1.5" height="1.5" fill="#e8747a" fill-opacity="0.9"/>
<rect x="438.94" y="566.12" width="1.5" height="1.5" fill="#e8747a" fill-opacity="0.9"/>
<rect x="468.41" y="556.07" width="1.5" height="1.5" fill="#e8747a" fill-opacity="0.9"/>
<rect x="466.38" y="555.77" width="1.5" height="1.5" fill="#e8747a" fill-opacity="0.9"/>
<rect x="470.36" y="562.4" width="1.5" height="1.5" fill="#e8747a" fill-opacity="0.9"/>
<rect x="447.17" y="587.29" width="1.5" height="1.5" fill="#e8747a" fill-opacity="0.9"/>
<rect x="467.33" y="551.37" width="1.5" height="1.5" fill="#e8747a" fill-opacity="0.9"/>
<rect x="443.4" y="577.44" width="1.5" height="1.5" fill="#e8747a" fill-opacity="0.9"/>
<rect x="445" y="573.94" width="1.5" height="1.5" fill="#e8747a" fill-opacity="0.9"/>
<rect x="444.9" y="580.51" width="1.5" height="1.5" fill="#e8747a" fill-opacity="0.9"/>
<rect x="464.52" y="560.24" width="1.5" height="1.5" fill="#e8747a" fill-opacity="0.9"/>
<rect x="425.87" y="589.06" width="1.5" height="1.5" fill="#e8747a" fill-opacity="0.9"/>
<rect x="445.46" y="573.11" width="1.5" height="1.5" fill="#e8747a" fill-opacity="0.9"/>
<rect x="442.54" y="583.64" width="1.5" height="1.5" fill="#e8747a" fill-opacity="0.9"/>
<rect x="453.95" y="569.48" width="1.5" height="1.5" fill="#e8747a" fill-opacity="0.9"/>
<rect x="418.71" y="575.16" width="1.5" height="1.5" fill="#e8747a" fill-opacity="0.9"/>
<rect x="460.54" y="563.09" width="1.5" height="1.5" fill="#e8747a" fill-opacity="0.9"/>
<rect x="470.08" y="554.27" width="1.5" height="1.5" fill="#e8747a" fill-opacity="0.9"/>
<rect x="462.78" y="561.67" width="1.5" height="1.5" fill="#e8747a" fill-opacity="0.9"/>
<rect x="446.79" y="576.06" width="1.5" height="1.5" fill="#e8747a" fill-opacity="0.9"/>
<rect x="444.09" y="572.66" width="1.5" height="1.5" fill="#e8747a" fill-opacity="0.9"/>
<rect x="444.8" y="565.38" width="1.5" height="1.5" fill="#e8747a" fill-opacity="0.9"/>
<rect x="449.02" y="573.66" width="1.5" height="1.5" fill="#e8747a" fill-opacity="0.9"/>
<rect x="461.67" y="561.07" width="1.5" height="1.5" fill="#e8747a" fill-opacity="0.9"/>
<rect x="461.39" y="561.15" width="1.5" height="1.5" fill="#e8747a" fill-opacity="0.9"/>
<rect x="453.79" y="565.95" width="1.5" height="1.5" fill="#e8747a" fill-opacity="0.9"/>
<rect x="436.63" y="585.47" width="1.5" height="1.5" fill="#e8747a" fill-opacity="0.9"/>
<rect x="450.97" y="573.71" width="1.5" height="1.5" fill="#e8747a" fill-opacity="0.9"/>
<rect x="460.11" y="550.98" width="1.5" height="1.5" fill="#e8747a" fill-opacity="0.9"/>
<rect x="458.04" y="558.9" width="1.5" height="1.5" fill="#e8747a" fill-opacity="0.9"/>
<rect x="474.15" y="559.42" width="1.5" height="1.5" fill="#e8747a" fill-opacity="0.9"/>
<rect x="471.6" y="553.65" width="1.5" height="1.5" fill="#e8747a" fill-opacity="0.9"/>
<rect x="451.25" y="575.01" width="1.5" height="1.5" fill="#e8747a" fill-opacity="0.9"/>
<rect x="455" y="567.08" width="1.5" height="1.5" fill="#e8747a" fill-opacity="0.9"/>
<rect x="469.34" y="553.48" width="1.5" height="1.5" fill="#e8747a" fill-opacity="0.9"/>
<rect x="440.08" y="565.93" width="1.5" height="1.5" fill="#e8747a" fill-opacity="0.9"/>
<rect x="452.12" y="558.52" width="1.5" height="1.5" fill="#e8747a" fill-opacity="0.9"/>
<rect x="439.27" y="582.55" width="1.5" height="1.5" fill="#e8747a" fill-opacity="0.9"/>
<rect x="428.07" y="591.12" width="1.5" height="1.5" fill="#e8747a" fill-opacity="0.9"/>
<rect x="453.42" y="567.21" width="1.5" height="1.5" fill="#e8747a" fill-opacity="0.9"/>
<rect x="439.74" y="571.08" width="1.5" height="1.5" fill="#e8747a" fill-opacity="0.9"/>
<rect x="437.82" y="581.59" width="1.5" height="1.5" fill="#e8747a" fill-opacity="0.9"/>
<rect x="444.04" y="585.49" width="1.5" height="1.5" fill="#e8747a" fill-opacity="0.9"/>
<rect x="463.93" y="562.84" width="1.5" height="1.5" fill="#e8747a" fill-opacity="0.9"/>
<rect x="466.56" y="549.33" width="1.5" height="1.5" fill="#e8747a" fill-opacity="0.9"/>
<rect x="441.62" y="583.87" width="1.5" height="1.5" fill="#e8747a" fill-opacity="0.9"/>
<rect x="459.61" y="573.67" width="1.5" height="1.5" fill="#e8747a" fill-opacity="0.9"/>
<rect x="454.09" y="585" width="1.5" height="1.5" fill="#e8747a" fill-opacity="0.9"/>
<rect x="429.75" y="570.43" width="1.5" height="1.5" fill="#e8747a" fill-opacity="0.9"/>
<rect x="463.29" y="550.94" width="1.5" height="1.5" fill="#e8747a" fill-opacity="0.9"/>
<rect x="443.11" y="585.64" width="1.5" height="1.5" fill="#e8747a" fill-opacity="0.9"/>
<rect x="441.94" y="587.7" width="1.5" height="1.5" fill="#e8747a" fill-opacity="0.9"/>
<rect x="465.31" y="552.14" width="1.5" height="1.5" fill="#e8747a" fill-opacity="0.9"/>
<rect x="426.78" y="583.32" width="1.5" height="1.5" fill="#e8747a" fill-opacity="0.9"/>
<rect x="468.92" y="552.62" width="1.5" height="1.5" fill="#e8747a" fill-opacity="0.9"/>
<rect x="443.66" y="584.55" width="1.5" height="1.5" fill="#e8747a" fill-opacity="0.9"/>
<rect x="450.98" y="569.28" width="1.5" height="1.5" fill="#e8747a" fill-opacity="0.9"/>
<rect x="470.91" y="560.52" width="1.5" height="1.5" fill="#e8747a" fill-opacity="0.9"/>
<rect x="466.34" y="560.03" width="1.5" height="1.5" fill="#e8747a" fill-opacity="0.9"/>
<rect x="448.79" y="566.09" width="1.5" height="1.5" fill="#e8747a" fill-opacity="0.9"/>
<rect x="428.88" y="586.49" width="1.5" height="1.5" fill="#e8747a" fill-opacity="0.9"/>
<rect x="469.51" y="554.29" width="1.5" height="1.5" fill="#e8747a" fill-opacity="0.9"/>
<rect x="435.07" y="580.44" width="1.5" height="1.5" fill="#e8747a" fill-opacity="0.9"/>
<rect x="470.49" y="554.52" width="1.5" height="1.5" fill="#e8747a" fill-opacity="0.9"/>
<rect x="452.91" y="574.92" width="1.5" height="1.5" fill="#e8747a" fill-opacity="0.9"/>
<rect x="451.64" y="576.62" width="1.5" height="1.5" fill="#e8747a" fill-opacity="0.9"/>
<rect x="450.95" y="572.52" width="1.5" height="1.5" fill="#e8747a" fill-opacity="0.9"/>
<rect x="457.36" y="562.48" width="1.5" height="1.5" fill="#e8747a" fill-opacity="0.9"/>
<rect x="453.53" y="575.26" width="1.5" height="1.5" fill="#e8747a" fill-opacity="0.9"/>
<rect x="450.96" y="572.89" width="1.5" height="1.5" fill="#e8747a" fill-opacity="0.9"/>
<rect x="449.92" y="569.46" width="1.5" height="1.5" fill="#e8747a" fill-opacity="0.9"/>
<rect x="418.9" y="582.59" width="1.5" height="1.5" fill="#e8747a" fill-opacity="0.9"/>
<rect x="441.06" y="589.56" width="1.5" height="1.5" fill="#e8747a" fill-opacity="0.9"/>
<rect x="444.4" y="577.35" width="1.5" height="1.5" fill="#e8747a" fill-opacity="0.9"/>
<rect x="439.42" y="586.86" width="1.5" height="1.5" fill="#e8747a" fill-opacity="0.9"/>
<rect x="431.13" y="588.86" width="1.5" height="1.5" fill="#e8747a" fill-opacity="0.9"/>
<rect x="439.76" y="584.31" width="1.5" height="1.5" fill="#e8747a" fill-opacity="0.9"/>
<rect x="469.47" y="554.1" width="1.5" height="1.5" fill="#e8747a" fill-opacity="0.9"/>
<rect x="455.3" y="576.56" width="1.5" height="1.5" fill="#e8747a" fill-opacity="0.9"/>
<rect x="446.86" y="571.16" width="1.5" height="1.5" fill="#e8747a" fill-opacity="0.9"/>
<rect x="462.27" y="565.21" width="1.5" height="1.5" fill="#e8747a" fill-opacity="0.9"/>
<rect x="464.84" y="551.77" width="1.5" height="1.5" fill="#e8747a" fill-opacity="0.9"/>
<rect x="456.9" y="565.02" width="1.5" height="1.5" fill="#e8747a" fill-opacity="0.9"/>
<rect x="457.72" y="554.97" width="1.5" height="1.5" fill="#e8747a" fill-opacity="0.9"/>
<rect x="464.48" y="559.35" width="1.5" height="1.5" fill="#e8747a" fill-opacity="0.9"/>
<rect x="448.56" y="569.84" width="1.5" height="1.5" fill="#e8747a" fill-opacity="0.9"/>
<rect x="436.21" y="585.11" width="1.5" height="1.5" fill="#e8747a" fill-opacity="0.9"/>
<rect x="442.7" y="579.5" width="1.5" height="1.5" fill="#e8747a" fill-opacity="0.9"/>
<rect x="468.79" y="551.36" width="1.5" height="1.5" fill="#e8747a" fill-opacity="0.9"/>
<rect x="452.66" y="570.61" width="1.5" height="1.5" fill="#e8747a" fill-opacity="0.9"/>
<rect x="438" y="585.25" width="1.5" height="1.5" fill="#e8747a" fill-opacity="0.9"/>
<rect x="432.94" y="584.48" width="1.5" height="1.5" fill="#e8747a" fill-opacity="0.9"/>
<rect x="444.31" y="572.23" width="1.5" height="1.5" fill="#e8747a" fill-opacity="0.9"/>
<rect x="454.76" y="559.03" width="1.5" height="1.5" fill="#e8747a" fill-opacity="0.9"/>
<rect x="432.07" y="592.35" width="1.5" height="1.5" fill="#e8747a" fill-opacity="0.9"/>
<rect x="430.96" y="577.83" width="1.5" height="1.5" fill="#e8747a" fill-opacity="0.9"/>
<rect x="457.68" y="569.61" width="1.5" height="1.5" fill="#e8747a" fill-opacity="0.9"/>
<rect x="464.82" y="557.16" width="1.5" height="1.5" fill="#e8747a" fill-opacity="0.9"/>
<rect x="437.6" y="577.24" width="1.5" height="1.5" fill="#e8747a" fill-opacity="0.9"/>
<rect x="466.06" y="563.08" width="1.5" height="1.5" fill="#e8747a" fill-opacity="0.9"/>
<rect x="456.49" y="560.17" width="1.5" height="1.5" fill="#e8747a" fill-opacity="0.9"/>
<rect x="465.53" y="555.81" width="1.5" height="1.5" fill="#e8747a" fill-opacity="0.9"/>
<rect x="436.41" y="588.98" width="1.5" height="1.5" fill="#e8747a" fill-opacity="0.9"/>
<rect x="459.31" y="564.98" width="1.5" height="1.5" fill="#e8747a" fill-opacity="0.9"/>
<rect x="443.65" y="573.62" width="1.5" height="1.5" fill="#e8747a" fill-opacity="0.9"/>
<rect x="453.75" y="558.13" width="1.5" height="1.5" fill="#e8747a" fill-opacity="0.9"/>
<rect x="457.68" y="564.84" width="1.5" height="1.5" fill="#e8747a" fill-opacity="0.9"/>
<rect x="446.16" y="582.58" width="1.5" height="1.5" fill="#e8747a" fill-opacity="0.9"/>
<rect x="437.12" y="580.06" width="1.5" height="1.5" fill="#e8747a" fill-opacity="0.9"/>
<rect x="433.51" y="572.71" width="1.5" height="1.5" fill="#e8747a" fill-opacity="0.9"/>
<rect x="439.45" y="586.21" width="1.5" height="1.5" fill="#e8747a" fill-opacity="0.9"/>
<rect x="446.6" y="569.43" width="1.5" height="1.5" fill="#e8747a" fill-opacity="0.9"/>
<rect x="453.84" y="567.35" width="1.5" height="1.5" fill="#e8747a" fill-opacity="0.9"/>
<rect x="463.14" y="559.25" width="1.5" height="1.5" fill="#e8747a" fill-opacity="0.9"/>
<rect x="438.73" y="578.87" width="1.5" height="1.5" fill="#e8747a" fill-opacity="0.9"/>
<rect x="466.67" y="560.39" width="1.5" height="1.5" fill="#e8747a" fill-opacity="0.9"/>
<rect x="467.05" y="550.65" width="1.5" height="1.5" fill="#e8747a" fill-opacity="0.9"/>
<rect x="433.34" y="581.92" width="1.5" height="1.5" fill="#e8747a" fill-opacity="0.9"/>
<rect x="447.8" y="565.87" width="1.5" height="1.5" fill="#e8747a" fill-opacity="0.9"/>
<rect x="453.48" y="569.43" width="1.5" height="1.5" fill="#e8747a" fill-opacity="0.9"/>
<rect x="469.69" y="560.36" width="1.5" height="1.5" fill="#e8747a" fill-opacity="0.9"/>
<rect x="459.01" y="562.62" width="1.5" height="1.5" fill="#e8747a" fill-opacity="0.9"/>
<rect x="450" y="577.18" width="1.5" height="1.5" fill="#e8747a" fill-opacity="0.9"/>
<rect x="467.45" y="555.58" width="1.5" height="1.5" fill="#e8747a" fill-opacity="0.9"/>
<rect x="460.88" y="569.18" width="1.5" height="1.5" fill="#e8747a" fill-opacity="0.9"/>
<rect x="462.77" y="556.6" width="1.5" height="1.5" fill="#e8747a" fill-opacity="0.9"/>
<rect x="458.12" y="570.6" width="1.5" height="1.5" fill="#e8747a" fill-opacity="0.9"/>
<rect x="434.61" y="586.02" width="1.5" height="1.5" fill="#e8747a" fill-opacity="0.9"/>
<rect x="461.54" y="557.13" width="1.5" height="1.5" fill="#e8747a" fill-opacity="0.9"/>
<rect x="449.34" y="577.88" width="1.5" height="1.5" fill="#e8747a" fill-opacity="0.9"/>
<rect x="459.79" y="555.26" width="1.5" height="1.5" fill="#e8747a" fill-opacity="0.9"/>
<rect x="445.91" y="573.52" width="1.5" height="1.5" fill="#e8747a" fill-opacity="0.9"/>
<rect x="454.91" y="573.6" width="1.5" height="1.5" fill="#e8747a" fill-opacity="0.9"/>
<rect x="444.57" y="576.48" width="1.5" height="1.5" fill="#e8747a" fill-opacity="0.9"/>
<rect x="453.26" y="565.48" width="1.5" height="1.5" fill="#e8747a" fill-opacity="0.9"/>
<rect x="459.96" y="562.51" width="1.5" height="1.5" fill="#e8747a" fill-opacity="0.9"/>
<rect x="456.96" y="562.15" width="1.5" height="1.5" fill="#e8747a" fill-opacity="0.9"/>
<rect x="447.89" y="585.44" width="1.5" height="1.5" fill="#e8747a" fill-opacity="0.9"/>
<rect x="432.5" y="570.49" width="1.5" height="1.5" fill="#e8747a" fill-opacity="0.9"/>
<rect x="447.65" y="588.37" width="1.5" height="1.5" fill="#e8747a" fill-opacity="0.9"/>
<rect x="447.4" y="581.64" width="1.5" height="1.5" fill="#e8747a" fill-opacity="0.9"/>
<rect x="466.15" y="566.29" width="1.5" height="1.5" fill="#e8747a" fill-opacity="0.9"/>
<rect x="438.79" y="571.53" width="1.5" height="1.5" fill="#e8747a" fill-opacity="0.9"/>
<rect x="459.32" y="558.1" width="1.5" height="1.5" fill="#e8747a" fill-opacity="0.9"/>
<rect x="438.12" y="589.87" width="1.5" height="1.5" fill="#e8747a" fill-opacity="0.9"/>
<rect x="452.37" y="556.79" width="1.5" height="1.5" fill="#e8747a" fill-opacity="0.9"/>
<rect x="466.33" y="559.72" width="1.5" height="1.5" fill="#e8747a" fill-opacity="0.9"/>
<rect x="425.37" y="592.36" width="1.5" height="1.5" fill="#e8747a" fill-opacity="0.9"/>
<rect x="443.09" y="572.92" width="1.5" height="1.5" fill="#e8747a" fill-opacity="0.9"/>
<rect x="461.53" y="560.93" width="1.5" height="1.5" fill="#e8747a" fill-opacity="0.9"/>
<rect x="459.39" y="557.2" width="1.5" height="1.5" fill="#e8747a" fill-opacity="0.9"/>
<rect x="462.84" y="561.35" width="1.5" height="1.5" fill="#e8747a" fill-opacity="0.9"/>
<rect x="429.33" y="586.2" width="1.5" height="1.5" fill="#e8747a" fill-opacity="0.9"/>
<rect x="440.9" y="582.94" width="1.5" height="1.5" fill="#e8747a" fill-opacity="0.9"/>
<rect x="470.45" y="565.49" width="1.5" height="1.5" fill="#e8747a" fill-opacity="0.9"/>
<rect x="446.83" y="585.42" width="1.5" height="1.5" fill="#e8747a" fill-opacity="0.9"/>
<rect x="448.44" y="589.67" width="1.5" height="1.5" fill="#e8747a" fill-opacity="0.9"/>
<rect x="425.78" y="594.53" width="1.5" height="1.5" fill="#e8747a" fill-opacity="0.9"/>
<rect x="462.86" y="554.36" width="1.5" height="1.5" fill="#e8747a" fill-opacity="0.9"/>
<rect x="441.97" y="599.66" width="1.5" height="1.5" fill="#e8747a" fill-opacity="0.9"/>
<rect x="420.6" y="591.66" width="1.5" height="1.5" fill="#e8747a" fill-opacity="0.9"/>
<rect x="457.44" y="561.38" width="1.5" height="1.5" fill="#e8747a" fill-opacity="0.9"/>
<rect x="454.64" y="560.37" width="1.5" height="1.5" fill="#e8747a" fill-opacity="0.9"/>
<rect x="439.91" y="573.64" width="1.5" height="1.5" fill="#e8747a" fill-opacity="0.9"/>
<rect x="452.91" y="574.39" width="1.5" height="1.5" fill="#e8747a" fill-opacity="0.9"/>
<rect x="462.03" y="552.91" width="1.5" height="1.5" fill="#e8747a" fill-opacity="0.9"/>
<rect x="446.07" y="574.91" width="1.5" height="1.5" fill="#e8747a" fill-opacity="0.9"/>
<rect x="442.91" y="575.28" width="1.5" height="1.5" fill="#e8747a" fill-opacity="0.9"/>
<rect x="435.39" y="599.88" width="1.5" height="1.5" fill="#e8747a" fill-opacity="0.9"/>
<rect x="466.04" y="551.89" width="1.5" height="1.5" fill="#e8747a" fill-opacity="0.9"/>
<rect x="457.24" y="574.71" width="1.5" height="1.5" fill="#e8747a" fill-opacity="0.9"/>
<rect x="430.88" y="590.89" width="1.5" height="1.5" fill="#e8747a" fill-opacity="0.9"/>
<rect x="449.76" y="570.09" width="1.5" height="1.5" fill="#e8747a" fill-opacity="0.9"/>
<rect x="461.28" y="563.83" width="1.5" height="1.5" fill="#e8747a" fill-opacity="0.9"/>
<rect x="448.93" y="566.56" width="1.5" height="1.5" fill="#e8747a" fill-opacity="0.9"/>
<rect x="443.49" y="583.99" width="1.5" height="1.5" fill="#e8747a" fill-opacity="0.9"/>
<rect x="441.02" y="583.49" width="1.5" height="1.5" fill="#e8747a" fill-opacity="0.9"/>
<rect x="439.42" y="584.16" width="1.5" height="1.5" fill="#e8747a" fill-opacity="0.9"/>
<rect x="450.35" y="579.26" width="1.5" height="1.5" fill="#e8747a" fill-opacity="0.9"/>
<rect x="460.99" y="552.11" width="1.5" height="1.5" fill="#e8747a" fill-opacity="0.9"/>
<rect x="459.15" y="571.08" width="1.5" height="1.5" fill="#e8747a" fill-opacity="0.9"/>
<rect x="463.3" y="567.68" width="1.5" height="1.5" fill="#e8747a" fill-opacity="0.9"/>
<rect x="420.18" y="590.13" width="1.5" height="1.5" fill="#e8747a" fill-opacity="0.9"/>
<rect x="459.87" y="563.88" width="1.5" height="1.5" fill="#e8747a" fill-opacity="0.9"/>
<rect x="439.22" y="582.68" width="1.5" height="1.5" fill="#e8747a" fill-opacity="0.9"/>
<rect x="457.46" y="561.11" width="1.5" height="1.5" fill="#e8747a" fill-opacity="0.9"/>
<rect x="422.61" y="584.83" width="1.5" height="1.5" fill="#e8747a" fill-opacity="0.9"/>
<rect x="457.33" y="558.69" width="1.5" height="1.5" fill="#e8747a" fill-opacity="0.9"/>
<rect x="454.38" y="561.37" width="1.5" height="1.5" fill="#e8747a" fill-opacity="0.9"/>
<rect x="458.62" y="562.67" width="1.5" height="1.5" fill="#e8747a" fill-opacity="0.9"/>
<rect x="470.37" y="554.88" width="1.5" height="1.5" fill="#e8747a" fill-opacity="0.9"/>
<rect x="450.03" y="572.55" width="1.5" height="1.5" fill="#e8747a" fill-opacity="0.9"/>
<rect x="466.39" y="555.99" width="1.5" height="1.5" fill="#e8747a" fill-opacity="0.9"/>
<rect x="461.01" y="557.22" width="1.5" height="1.5" fill="#e8747a" fill-opacity="0.9"/>
<rect x="453.46" y="560.25" width="1.5" height="1.5" fill="#e8747a" fill-opacity="0.9"/>
<rect x="459.6" y="589.42" width="1.5" height="1.5" fill="#e8747a" fill-opacity="0.9"/>
<rect x="442.66" y="580.13" width="1.5" height="1.5" fill="#e8747a" fill-opacity="0.9"/>
<rect x="452.47" y="567.06" width="1.5" height="1.5" fill="#e8747a" fill-opacity="0.9"/>
<rect x="466.56" y="548.52" width="1.5" height="1.5" fill="#e8747a" fill-opacity="0.9"/>
<rect x="447.27" y="578.99" width="1.5" height="1.5" fill="#e8747a" fill-opacity="0.9"/>
<rect x="449.39" y="582.29" width="1.5" height="1.5" fill="#e8747a" fill-opacity="0.9"/>
</g>
<g clip-path="url(#kr)">
<path d="M389 618.5h0.96M390.38 618.5h1.73M392.63 618.5h2.2M395.7 618.5h1.33M397.78 618.5h0.91M399.07 618.5h0.97M400.59 618.5h1.25M402.48 618.5h0.78M404.45 618.5h0.7M405.79 618.5h1.66M408.37 618.5h1.4M410.88 618.5h1.53M412.77 618.5h2.11M415.36 618.5h2.11M418.43 618.5h2.01" stroke="#444" stroke-width="0.6" fill="none"/>
<path d="M396 620.3h1.11M401.29 620.3h0.57M405.82 620.3h1.16M410.24 620.3h0.64M414.23 620.3h0.86M419.75 620.3h0.25" stroke="#7a7ae0" stroke-width="0.6" fill="none"/>
<path d="M382 621.91h0.55M384.58 622.41h0.56M387.27 622.97h0.9M389.69 622.1h0.64M393.32 622.14h0.98M397.6 621.92h0.58M401.48 622.1h0.61M404.39 622.39h0.54M407.27 622.61h0.65M409.78 622h0.46M411.56 622.33h0.71M415.7 622.75h0.7M420.34 621.92h0.44M422.2 622.59h0.63M426.06 623.06h0.61M427.68 622.15h0.9" stroke="#b8b8f0" stroke-width="0.5" fill="none"/>
<path d="M378 625.74h0.42M382.58 625.13h0.99M385.69 624.91h0.98M388.47 625h0.76M392.39 624.4h0.49M396.41 624.4h0.67M400.12 625.34h0.84M404.11 624.78h0.64M407.03 624.91h0.52M409.43 625.33h0.84M413.91 624.78h0.41M417.33 625.75h0.46M421.93 625.33h0.7M424.84 625.04h0.54M429.48 624.21h0.79M433.91 625.39h0.95" stroke="#f4b0b8" stroke-width="0.5" fill="none"/>
<path d="M380 628.06h0.99M384.17 629.26h0.73M388.38 629.06h0.96M393.41 629.23h0.78M399.32 629.05h0.58M402.68 629.23h0.62M408.69 628.16h0.59M413.73 628.79h0.91M420.38 629.01h0.84M425.63 628.38h0.62M430.21 629.04h0.72" stroke="#f6c0c8" stroke-width="0.4" fill="none"/>
<path d="M379 632.53h0.56M381.74 631.92h0.88M386.19 632.09h0.75M390.45 632.08h0.95M395.12 632.16h0.87M399.91 632.55h0.09" stroke="#e86070" stroke-width="0.5" fill="none"/>
<path d="M377 634.28h1.58M380.67 634.42h1.04M383.74 634.32h1.07M386.81 634.54h1.79M390.62 634.29h0.76M393.21 634.17h0.7M396.08 634.54h1.69M398.53 634.49h1.33M401.64 633.83h0.98M404.88 634.32h1.63M407.77 634.45h1.59M411.27 634.06h1.32M413.72 634.06h1.03M416.29 634.38h0.74M418.25 634h0.79M420.34 634.43h1.12M422.24 634.03h0.87M424.02 633.89h1.5M426.21 634.39h1.27M429.57 634.06h1.27M433.02 634.18h1.48M436.12 634.6h0.88" stroke="#e05060" stroke-width="0.6" fill="none"/>
<path d="M380 637.8h2.53M383.64 637.8h2.68M386.91 637.8h5.55M393.88 637.8h3.66M398.91 637.8h5.59M406.03 637.8h5.93M413.01 637.8h5.38M419.35 637.8h4.72M424.77 637.8h5.35M432.07 637.8h1.93" stroke="#ededed" stroke-width="0.5" fill="none"/>
<path d="M383 641h1.15M384.65 641h2.12M387.02 641h1.43M388.8 641h2.31M391.59 641h1.79M393.86 641h0.93M395.22 641h1M396.6 641h1.81M398.65 641h2.4M401.49 641h1.85M403.68 641h2.31M406.39 641h1.07M407.8 641h1.35M409.68 641h1.4M411.3 641h1.03M412.88 641h1.3M414.47 641h1.38M416.27 641h1.28M418.07 641h2.05M420.56 641h1.22" stroke="#333" stroke-width="0.5" fill="none"/>
<rect x="377" y="643.6" width="61" height="2" fill="#eeeeee"/>
<path d="M382 644.5h2.75M385.06 644.5h2.1M387.39 644.5h2.24M389.87 644.5h2.28M392.42 644.5h1.89M394.64 644.5h1.51M396.51 644.5h1.36M398.2 644.5h1.59M400.01 644.5h2.79M402.98 644.5h1.27M404.44 644.5h1.77M406.54 644.5h2.53M409.38 644.5h1.22M410.83 644.5h2.74M413.95 644.5h1.2M415.33 644.5h2.12M417.84 644.5h2.49M420.71 644.5h1.97M422.86 644.5h1.14" stroke="#222" stroke-width="0.9" fill="none"/>
<path d="M425 644.5h1.48M427.11 644.5h1.35M428.87 644.5h1.04M430.45 644.5h1.97M432.92 644.5h1.97M435.45 644.5h1.55" stroke="#999" stroke-width="0.6" fill="none"/>
<line x1="379.62" y1="647" x2="381.22" y2="648.6" stroke="#58b048" stroke-width="0.55"/>
<line x1="380.72" y1="648" x2="382.32" y2="649.6" stroke="#f08890" stroke-width="0.55"/>
<line x1="381.51" y1="649" x2="383.11" y2="650.6" stroke="#58b048" stroke-width="0.55"/>
<line x1="382.98" y1="650" x2="384.58" y2="651.6" stroke="#f08890" stroke-width="0.55"/>
<line x1="383.99" y1="651" x2="385.59" y2="652.6" stroke="#58b048" stroke-width="0.55"/>
<path d="M377.5 647.2h0.83M379.03 647.2h0.76M380.58 647.2h0.44M381.72 647.2h0.84" stroke="#f08890" stroke-width="0.5" fill="none"/>
<line x1="390.22" y1="647" x2="391.82" y2="648.6" stroke="#58b048" stroke-width="0.55"/>
<line x1="391.38" y1="648" x2="392.98" y2="649.6" stroke="#58b048" stroke-width="0.55"/>
<line x1="392.27" y1="649" x2="393.87" y2="650.6" stroke="#58b048" stroke-width="0.55"/>
<line x1="393.37" y1="650" x2="394.97" y2="651.6" stroke="#58b048" stroke-width="0.55"/>
<line x1="394.38" y1="651" x2="395.98" y2="652.6" stroke="#58b048" stroke-width="0.55"/>
<path d="M388 647.2h0.51M389.28 647.2h0.48M390.29 647.2h0.76M391.57 647.2h0.74M392.88 647.2h0.62M393.98 647.2h0.02" stroke="#f08890" stroke-width="0.5" fill="none"/>
<line x1="411.25" y1="647" x2="412.85" y2="648.6" stroke="#58b048" stroke-width="0.55"/>
<line x1="412.04" y1="648" x2="413.64" y2="649.6" stroke="#58b048" stroke-width="0.55"/>
<line x1="413.36" y1="649" x2="414.96" y2="650.6" stroke="#58b048" stroke-width="0.55"/>
<line x1="414.07" y1="650" x2="415.67" y2="651.6" stroke="#58b048" stroke-width="0.55"/>
<line x1="415.33" y1="651" x2="416.93" y2="652.6" stroke="#58b048" stroke-width="0.55"/>
<path d="M409 647.2h0.83M410.5 647.2h0.7M411.92 647.2h0.84M413.29 647.2h0.78M414.83 647.2h0.17" stroke="#f08890" stroke-width="0.5" fill="none"/>
<line x1="431.05" y1="647" x2="432.65" y2="648.6" stroke="#58b048" stroke-width="0.55"/>
<line x1="432.17" y1="648" x2="433.77" y2="649.6" stroke="#58b048" stroke-width="0.55"/>
<line x1="432.97" y1="649" x2="434.57" y2="650.6" stroke="#58b048" stroke-width="0.55"/>
<line x1="434.6" y1="650" x2="436.2" y2="651.6" stroke="#58b048" stroke-width="0.55"/>
<line x1="435.27" y1="651" x2="436.87" y2="652.6" stroke="#58b048" stroke-width="0.55"/>
<path d="M429 647.2h0.67M430.45 647.2h0.44M431.52 647.2h0.56M432.57 647.2h0.65M433.99 647.2h0.89" stroke="#f08890" stroke-width="0.5" fill="none"/>
<path d="M377 656.8h3.4M380.64 656.8h3.62M384.46 656.8h3.54M388.16 656.8h3.35M391.73 656.8h2.48M394.45 656.8h3.53M398.22 656.8h4.21M402.67 656.8h3.87M406.67 656.8h2.48M409.38 656.8h3.07M412.65 656.8h1.35" stroke="#1a1a1a" stroke-width="1.1" fill="none"/>
<rect x="413.6" y="655.2" width="0.9" height="0.9" fill="#111"/>
<path d="M415 659.6h3.66M418.86 659.6h3.31M422.3 659.6h3.64M426.14 659.6h2.88M429.13 659.6h2.37M431.68 659.6h3.71M435.55 659.6h2.45" stroke="#1a1a1a" stroke-width="1.1" fill="none"/>
<path d="M397 661.4h0.56M398.03 661.4h0.79M399.23 661.4h0.66M400.26 661.4h0.74M401.33 661.4h0.92M402.59 661.4h0.72M403.77 661.4h0.23" stroke="#777" stroke-width="0.4" fill="none"/>
<path d="M382 662.8h1.36M383.87 662.8h0.95M385.22 662.8h1.33M387.13 662.8h1.6M389.1 662.8h1.95M391.8 662.8h1.98M394.48 662.8h1.41M396.61 662.8h1.93M398.95 662.8h1.9M401.6 662.8h1.07M403.05 662.8h0.98M404.79 662.8h1.26M406.5 662.8h0.89M407.94 662.8h1.2M409.59 662.8h1.98M412.16 662.8h0.92M413.69 662.8h1.58M415.93 662.8h2M418.25 662.8h1.55M420.38 662.8h1.62" stroke="#444" stroke-width="0.5" fill="none"/>
<path d="M377 666h4.89M382 666h5.27M387.46 666h5.2M392.8 666h2.33M395.32 666h5.67M401.11 666h4.51M405.74 666h2.45M408.31 666h3.07M411.58 666h5.54M417.29 666h2.66M420.15 666h5.16M425.47 666h3.22M428.82 666h5.32M434.29 666h2.71" stroke="#222" stroke-width="1" fill="none"/>
<path d="M377 667.8h1.48M379.56 667.8h1.27M384.11 667.8h0.64M387.92 667.8h1.24M393.07 667.8h0.83M395.3 667.8h1M399.39 667.8h1.33M403.6 667.8h1.1M407.3 667.8h1.55M409.86 667.8h0.82M412.02 667.8h0.52M415.62 667.8h1.58M420.08 667.8h1.27M424.9 667.8h1.26M429.04 667.8h0.56M431.6 667.8h1.51M435.24 667.8h1.12" stroke="#e05060" stroke-width="0.6" fill="none"/>
<path d="M399 668.3h1.3M401.59 668.3h1.58M404.16 668.3h1.75M406.8 668.3h1.32" stroke="#58b048" stroke-width="0.6" fill="none"/>
<rect x="423.2" y="666.3" width="0.8" height="2.2" fill="#1a8020"/>
<path d="M377.5 671.3l0.8 -0.8l0.8 0.8l0.8 -0.8l0.8 0.8l0.8 -0.8l0.8 0.8l0.8 -0.8l0.8 0.8l0.8 -0.8l0.8 0.8l0.8 -0.8l0.8 0.8l0.8 -0.8l0.8 0.8l0.8 -0.8l0.8 0.8l0.8 -0.8l0.8 0.8l0.8 -0.8l0.8 0.8l0.8 -0.8l0.8 0.8l0.8 -0.8l0.8 0.8l0.8 -0.8l0.8 0.8l0.8 -0.8l0.8 0.8 l2 2.6" stroke="#aaa" stroke-width="0.35" fill="none"/>
<path d="M402 675.2l0.8 -0.8l0.8 0.8l0.8 -0.8l0.8 0.8l0.8 -0.8l0.8 0.8l0.8 -0.8l0.8 0.8l0.8 -0.8l0.8 0.8l0.8 -0.8l0.8 0.8l0.8 -0.8l0.8 0.8l0.8 -0.8l0.8 0.8l0.8 -0.8l0.8 0.8l0.8 -0.8l0.8 0.8l0.8 -0.8l0.8 0.8l0.8 -0.8l0.8 0.8l0.8 -0.8l0.8 0.8l0.8 -0.8l0.8 0.8l0.8 -0.8l0.8 0.8l0.8 -0.8l0.8 0.8l0.8 -0.8l0.8 0.8" stroke="#aaa" stroke-width="0.35" fill="none"/>
</g>
<g clip-path="url(#kb)">
<path d="M282.7 650.15A33 33 0 0 1 315.15 617.7L315.15 629.11A21.6 21.6 0 0 0 294.11 650.15Z" fill="#c9f0c2"/>
<path d="M316.25 617.7A33 33 0 0 1 348.7 650.15L337.29 650.15A21.6 21.6 0 0 0 316.25 629.11Z" fill="#ffb9bd"/>
<path d="M315.15 683.7A33 33 0 0 1 282.7 651.25L294.11 651.25A21.6 21.6 0 0 0 315.15 672.29Z" fill="#c2d8ec"/>
<path d="M348.7 651.25A33 33 0 0 1 316.25 683.7L316.25 672.29A21.6 21.6 0 0 0 337.29 651.25Z" fill="#ffd9aa"/>
<text transform="translate(296.7 633.6) rotate(-47)" text-anchor="middle" font-size="4.3" fill="#fff" dy="1.2">SWITCH</text>
<text transform="translate(335.2 633) rotate(47)" text-anchor="middle" font-size="4.3" fill="#fff" dy="1.2">DECOY</text>
<text transform="translate(295.6 669.2) rotate(47)" text-anchor="middle" font-size="4.3" fill="#fff" dy="1.2">GUIDE</text>
<text transform="translate(333.9 669) rotate(-47)" text-anchor="middle" font-size="4.3" fill="#fff" dy="1.2">CO-FACTOR</text>
<text x="315.9" y="646.9" text-anchor="middle" font-size="6.85" fill="#b4b4b4">LONGHORN</text>
<path d="M296.6 648.6c1.5 3.2 6 5.4 12.3 6.6c1.2 0.2 1.4 1.6 0.4 2c-1 0.5-0.4 1.6 0.8 1.4c2-0.4 3 1 3 3.2c0 2.2-1.4 3.4-1.6 5c-0.2 1.8 1 3 2.6 3s2.8-1.2 2.6-3c-0.2-1.6-1.6-2.8-1.6-5c0-2.2 1-3.6 3-3.2c1.2 0.2 1.8-0.9 0.8-1.4c-1-0.4-0.8-1.8 0.4-2c6.3-1.2 10.8-3.4 12.3-6.6" fill="none" stroke="#f0a8a0" stroke-width="0.7"/>
<path d="M296.6 648.6c1.5 3.2 6 5.4 12.3 6.6c1.2 0.2 1.4 1.6 0.4 2c-1 0.5-0.4 1.6 0.8 1.4c2-0.4 3 1 3 3.2c0 2.2-1.4 3.4-1.6 5c-0.2 1.8 1 3 2.6 3s2.8-1.2 2.6-3c-0.2-1.6-1.6-2.8-1.6-5c0-2.2 1-3.6 3-3.2c1.2 0.2 1.8-0.9 0.8-1.4c-1-0.4-0.8-1.8 0.4-2c6.3-1.2 10.8-3.4 12.3-6.6" fill="none" stroke="#d8d060" stroke-width="0.7" stroke-dasharray="0.8 1.4"/>
</g>
<g clip-path="url(#ky)">
<line x1="242.6" y1="545" x2="242.6" y2="599.2" stroke="#888" stroke-width="0.4"/>
<line x1="242.6" y1="599.2" x2="305" y2="599.2" stroke="#bbb" stroke-width="0.4"/>
<line x1="242.6" y1="551" x2="305" y2="551" stroke="#eeeeee" stroke-width="0.35"/>
<line x1="242.6" y1="559" x2="305" y2="559" stroke="#eeeeee" stroke-width="0.35"/>
<line x1="242.6" y1="567" x2="305" y2="567" stroke="#eeeeee" stroke-width="0.35"/>
<line x1="242.6" y1="575" x2="305" y2="575" stroke="#eeeeee" stroke-width="0.35"/>
<line x1="242.6" y1="583" x2="305" y2="583" stroke="#eeeeee" stroke-width="0.35"/>
<line x1="242.6" y1="591" x2="305" y2="591" stroke="#eeeeee" stroke-width="0.35"/>
<text x="242" y="568.3" text-anchor="end" font-size="2.4" fill="#555">4.0</text>
<text x="242" y="576.2" text-anchor="end" font-size="2.4" fill="#555">3.0</text>
<text x="242" y="584.2" text-anchor="end" font-size="2.4" fill="#555">2.0</text>
<text x="270" y="541.8" text-anchor="middle" font-size="2.6" fill="#666">rna_atlas_log2</text>
<line x1="247.9" y1="576" x2="247.9" y2="594.4" stroke="#58c868" stroke-width="0.4" stroke-opacity="0.7"/>
<rect x="246.6" y="577.2" width="2.6" height="12" fill="#58c868"/>
<line x1="246.6" y1="583.2" x2="249.2" y2="583.2" stroke="#fff" stroke-width="0.25" stroke-opacity="0.6"/>
<line x1="251.6" y1="580" x2="251.6" y2="585.2" stroke="#d8d020" stroke-width="0.4" stroke-opacity="0.7"/>
<rect x="250.3" y="580.4" width="2.6" height="4.3" fill="#d8d020"/>
<line x1="250.3" y1="582.55" x2="252.9" y2="582.55" stroke="#fff" stroke-width="0.25" stroke-opacity="0.6"/>
<line x1="255.5" y1="563.5" x2="255.5" y2="570" stroke="#8090d8" stroke-width="0.4" stroke-opacity="0.7"/>
<rect x="254.2" y="566" width="2.6" height="3.2" fill="#8090d8"/>
<line x1="254.2" y1="567.6" x2="256.8" y2="567.6" stroke="#fff" stroke-width="0.25" stroke-opacity="0.6"/>
<line x1="259.5" y1="583.2" x2="259.5" y2="594.4" stroke="#383858" stroke-width="0.4" stroke-opacity="0.7"/>
<rect x="258.2" y="585.7" width="2.6" height="3.1" fill="#383858"/>
<line x1="258.2" y1="587.25" x2="260.8" y2="587.25" stroke="#fff" stroke-width="0.25" stroke-opacity="0.6"/>
<line x1="263.2" y1="564" x2="263.2" y2="583.6" stroke="#f05018" stroke-width="0.4" stroke-opacity="0.7"/>
<rect x="261.9" y="568" width="2.6" height="8.4" fill="#f05018"/>
<line x1="261.9" y1="572.2" x2="264.5" y2="572.2" stroke="#fff" stroke-width="0.25" stroke-opacity="0.6"/>
<line x1="266.7" y1="554.4" x2="266.7" y2="586.3" stroke="#a03070" stroke-width="0.4" stroke-opacity="0.7"/>
<rect x="265.4" y="568.4" width="2.6" height="8.5" fill="#a03070"/>
<line x1="265.4" y1="572.65" x2="268" y2="572.65" stroke="#fff" stroke-width="0.25" stroke-opacity="0.6"/>
<line x1="270.7" y1="552.3" x2="270.7" y2="580.4" stroke="#f8c010" stroke-width="0.4" stroke-opacity="0.7"/>
<rect x="269.4" y="561.1" width="2.6" height="10" fill="#f8c010"/>
<line x1="269.4" y1="566.1" x2="272" y2="566.1" stroke="#fff" stroke-width="0.25" stroke-opacity="0.6"/>
<line x1="274.4" y1="550.7" x2="274.4" y2="577.2" stroke="#587028" stroke-width="0.4" stroke-opacity="0.7"/>
<rect x="273.1" y="558.2" width="2.6" height="7.4" fill="#587028"/>
<line x1="273.1" y1="561.9" x2="275.7" y2="561.9" stroke="#fff" stroke-width="0.25" stroke-opacity="0.6"/>
<line x1="278.4" y1="558.2" x2="278.4" y2="585.7" stroke="#d83030" stroke-width="0.4" stroke-opacity="0.7"/>
<rect x="277.1" y="567.1" width="2.6" height="6.6" fill="#d83030"/>
<line x1="277.1" y1="570.4" x2="279.7" y2="570.4" stroke="#fff" stroke-width="0.25" stroke-opacity="0.6"/>
<line x1="282.4" y1="568" x2="282.4" y2="585.2" stroke="#283890" stroke-width="0.4" stroke-opacity="0.7"/>
<rect x="281.1" y="575.1" width="2.6" height="6.4" fill="#283890"/>
<line x1="281.1" y1="578.3" x2="283.7" y2="578.3" stroke="#fff" stroke-width="0.25" stroke-opacity="0.6"/>
<line x1="293.7" y1="579.1" x2="293.7" y2="581.5" stroke="#904818" stroke-width="0.4" stroke-opacity="0.7"/>
<rect x="292.4" y="579.1" width="2.6" height="2.4" fill="#904818"/>
<line x1="292.4" y1="580.3" x2="295" y2="580.3" stroke="#fff" stroke-width="0.25" stroke-opacity="0.6"/>
<line x1="297.4" y1="574" x2="297.4" y2="594.9" stroke="#90b020" stroke-width="0.4" stroke-opacity="0.7"/>
<rect x="296.1" y="582.3" width="2.6" height="4.5" fill="#90b020"/>
<line x1="296.1" y1="584.55" x2="298.7" y2="584.55" stroke="#fff" stroke-width="0.25" stroke-opacity="0.6"/>
<line x1="301.2" y1="569.2" x2="301.2" y2="580.9" stroke="#8020a8" stroke-width="0.4" stroke-opacity="0.7"/>
<rect x="299.9" y="572.9" width="2.6" height="6.7" fill="#8020a8"/>
<line x1="299.9" y1="576.25" x2="302.5" y2="576.25" stroke="#fff" stroke-width="0.25" stroke-opacity="0.6"/>
<line x1="243.2" y1="571.6" x2="245.4" y2="571.6" stroke="#d03030" stroke-width="0.5"/>
<line x1="285" y1="585.5" x2="287.4" y2="585.5" stroke="#30a0a0" stroke-width="0.5"/>
<line x1="288.8" y1="569.2" x2="291.2" y2="569.2" stroke="#888" stroke-width="0.5"/>
<text transform="translate(247.1 600.4) rotate(90)" font-size="2.4" fill="#444">Adip</text>
<text transform="translate(250.85 600.4) rotate(90)" font-size="2.4" fill="#444">Card</text>
<text transform="translate(254.6 600.4) rotate(90)" font-size="2.4" fill="#444">CNS_sys</text>
<text transform="translate(258.35 600.4) rotate(90)" font-size="2.4" fill="#444">Dermal_s</text>
<text transform="translate(262.1 600.4) rotate(90)" font-size="2.4" fill="#444">Endocr</text>
<text transform="translate(265.85 600.4) rotate(90)" font-size="2.4" fill="#444">Female_rep</text>
<text transform="translate(269.6 600.4) rotate(90)" font-size="2.4" fill="#444">Gastroint</text>
<text transform="translate(273.35 600.4) rotate(90)" font-size="2.4" fill="#444">Hematop</text>
<text transform="translate(277.1 600.4) rotate(90)" font-size="2.4" fill="#444">Male_repr</text>
<text transform="translate(280.85 600.4) rotate(90)" font-size="2.4" fill="#444">Ocular</text>
<text transform="translate(284.6 600.4) rotate(90)" font-size="2.4" fill="#444">Pulm</text>
<text transform="translate(288.35 600.4) rotate(90)" font-size="2.4" fill="#444">Renal</text>
<text transform="translate(292.1 600.4) rotate(90)" font-size="2.4" fill="#444">Skel</text>
<text transform="translate(295.85 600.4) rotate(90)" font-size="2.4" fill="#444">Symp</text>
</g>
<text x="591.9" y="500.9" text-anchor="middle" font-size="9" fill="#d572b4">Compare expression types</text>
<text x="592.7" y="514.8" text-anchor="middle" font-size="9.05" fill="#111">SAMMSON vs. SOX10</text>
<rect x="526.3" y="522.1" width="132.6" height="126.5" rx="23" fill="#fff" stroke="#d07bb0" stroke-width="2.9"/>
<line x1="537.3" y1="527" x2="537.3" y2="639.3" stroke="#777" stroke-width="0.5"/>
<line x1="537.3" y1="639.3" x2="657.5" y2="639.3" stroke="#bbb" stroke-width="0.7"/>
<line x1="535.9" y1="639.3" x2="537.3" y2="639.3" stroke="#777" stroke-width="0.35"/>
<text x="534.8" y="640.65" text-anchor="end" font-size="3.9" fill="#222">0</text>
<line x1="535.9" y1="619.92" x2="537.3" y2="619.92" stroke="#777" stroke-width="0.35"/>
<text x="534.8" y="621.27" text-anchor="end" font-size="3.9" fill="#222">10</text>
<line x1="535.9" y1="600.54" x2="537.3" y2="600.54" stroke="#777" stroke-width="0.35"/>
<text x="534.8" y="601.89" text-anchor="end" font-size="3.9" fill="#222">20</text>
<line x1="535.9" y1="581.16" x2="537.3" y2="581.16" stroke="#777" stroke-width="0.35"/>
<text x="534.8" y="582.51" text-anchor="end" font-size="3.9" fill="#222">30</text>
<line x1="535.9" y1="561.78" x2="537.3" y2="561.78" stroke="#777" stroke-width="0.35"/>
<text x="534.8" y="563.13" text-anchor="end" font-size="3.9" fill="#222">40</text>
<line x1="535.9" y1="542.4" x2="537.3" y2="542.4" stroke="#777" stroke-width="0.35"/>
<text x="534.8" y="543.75" text-anchor="end" font-size="3.9" fill="#222">50</text>
<text transform="translate(535.9 641) rotate(90)" font-size="3.9" fill="#222">0</text>
<text transform="translate(559.25 641) rotate(90)" font-size="3.9" fill="#222">10</text>
<text transform="translate(582.6 641) rotate(90)" font-size="3.9" fill="#222">20</text>
<text transform="translate(605.95 641) rotate(90)" font-size="3.9" fill="#222">30</text>
<text transform="translate(629.3 641) rotate(90)" font-size="3.9" fill="#222">40</text>
<circle cx="567" cy="540.2" r="0.6" fill="#e23c3c"/>
<circle cx="542.4" cy="543.4" r="0.6" fill="#e23c3c"/>
<circle cx="541.6" cy="545.5" r="0.6" fill="#e23c3c"/>
<circle cx="542.4" cy="549.4" r="0.6" fill="#e23c3c"/>
<circle cx="543.2" cy="564.2" r="0.6" fill="#e23c3c"/>
<circle cx="581" cy="565" r="0.6" fill="#e23c3c"/>
<circle cx="556.7" cy="569.1" r="0.6" fill="#e23c3c"/>
<circle cx="602.1" cy="569.1" r="0.6" fill="#e23c3c"/>
<circle cx="644.5" cy="568.5" r="0.6" fill="#e23c3c"/>
<circle cx="636.4" cy="575.8" r="0.6" fill="#e23c3c"/>
<circle cx="579.1" cy="591.2" r="0.6" fill="#e23c3c"/>
<circle cx="542.7" cy="596.1" r="0.6" fill="#e23c3c"/>
<circle cx="543.2" cy="617.4" r="0.6" fill="#e23c3c"/>
<circle cx="542.4" cy="624.4" r="0.6" fill="#e23c3c"/>
<circle cx="594.5" cy="552" r="0.6" fill="#e23c3c"/>
<circle cx="550" cy="636" r="0.6" fill="#e23c3c"/>
<circle cx="557.2" cy="637.4" r="0.6" fill="#e23c3c"/>
<circle cx="571.6" cy="637.4" r="0.6" fill="#e23c3c"/>
<circle cx="542" cy="628" r="0.6" fill="#e23c3c"/>
<circle cx="542.6" cy="631" r="0.6" fill="#e23c3c"/>
<circle cx="541.8" cy="633" r="0.6" fill="#e23c3c"/>
<circle cx="542.4" cy="634.5" r="0.6" fill="#e23c3c"/>
<circle cx="543.4" cy="635.5" r="0.6" fill="#e23c3c"/>
<circle cx="541.6" cy="636.3" r="0.6" fill="#e23c3c"/>
<circle cx="542.8" cy="637" r="0.6" fill="#e23c3c"/>
<circle cx="544.2" cy="637.4" r="0.6" fill="#e23c3c"/>
<circle cx="545.6" cy="637.8" r="0.6" fill="#e23c3c"/>
<circle cx="543" cy="638" r="0.6" fill="#e23c3c"/>
<circle cx="541.8" cy="638.2" r="0.6" fill="#e23c3c"/>
<circle cx="547" cy="638" r="0.6" fill="#e23c3c"/>
<circle cx="542.2" cy="626.5" r="0.6" fill="#e23c3c"/>
<circle cx="543" cy="629.5" r="0.6" fill="#e23c3c"/>
<text transform="translate(553.4 547.3) rotate(-90)" text-anchor="middle" font-size="9.09" fill="#111">SOX10</text>
<text x="602" y="540.6" font-size="8.7" fill="#111"><tspan font-style="italic">r</tspan> = 0.602</text>
<text x="598.6" y="553.5" font-size="8.75" fill="#111">(<tspan font-style="italic">P</tspan> = 2 x 10<tspan dy="-3.2" font-size="6.3">−30</tspan><tspan dy="3.2">)</tspan></text>
<text x="597.2" y="636.7" font-size="8.88" fill="#111">SAMMSON</text>
<text x="61.4" y="731.7" font-size="8.99" fill="#111">Subnetwork graph of cell cycle checkpoint genes regulated by SAMMSON</text>
<rect x="1.5" y="742.4" width="416.2" height="146.9" rx="24" fill="#fff" stroke="#2070b4" stroke-width="3.3"/>
<text x="205" y="900.5" text-anchor="middle" font-size="8.99" fill="#2070b4">LongHorn viewer</text>
<path d="M64.4 803.2L41.9 762.3M64.4 803.2L54.2 762.3M64.4 803.2L63.8 763.7M64.4 803.2L77 761.1M64.4 803.2L46 770.9M64.4 803.2L58.2 771.9M64.4 803.2L78.7 770.9M64.4 803.2L88.3 768.4M64.4 803.2L98.1 767.8M64.4 803.2L87.5 778M64.4 803.2L98.9 777M64.4 803.2L59.9 784.2M64.4 803.2L71.1 783.1M64.4 803.2L26.6 786.8M64.4 803.2L88.3 789.7M64.4 803.2L102.8 790.9M64.4 803.2L78.1 794.4M64.4 803.2L96.1 797.9M64.4 803.2L88.9 820.9M64.4 803.2L97.7 825.4M64.4 803.2L86.9 829.5M64.4 803.2L39.9 781.7M64.4 803.2L45.4 792.3M64.4 803.2L56.2 792.3M64.4 803.2L48 803.2M64.4 803.2L80.1 805M64.4 803.2L38.8 817.5M64.4 803.2L66.8 817.5M64.4 803.2L31.1 823M64.4 803.2L41.5 826.7M64.4 803.2L54.8 752.1M54.8 752.1L54.2 762.3M54.8 752.1L63.8 763.7M54.8 752.1L41.9 762.3M54.8 752.1L58.2 771.9M54.8 752.1L46 770.9M54.8 752.1L77 761.1M54.8 752.1L78.7 770.9M54.8 752.1L59.9 784.2M54.8 752.1L71.1 783.1M54.8 752.1L88.3 768.4M54.8 752.1L56.2 792.3M54.8 752.1L45.4 792.3M54.8 752.1L87.5 778M54.8 752.1L26.6 786.8M54.8 752.1L48 803.2M54.8 752.1L31.1 823M54.8 752.1L97.7 825.4M64.4 803.2L87.9 755.1M87.9 755.1L77 761.1M87.9 755.1L88.3 768.4M87.9 755.1L98.1 767.8M87.9 755.1L78.7 770.9M87.9 755.1L87.5 778M87.9 755.1L98.9 777M87.9 755.1L63.8 763.7M87.9 755.1L71.1 783.1M87.9 755.1L88.3 789.7M87.9 755.1L102.8 790.9M87.9 755.1L78.1 794.4M87.9 755.1L96.1 797.9M87.9 755.1L46 770.9M87.9 755.1L56.2 792.3M87.9 755.1L80.1 805M87.9 755.1L45.4 792.3M87.9 755.1L97.7 825.4M87.9 755.1L38.8 817.5M87.9 755.1L31.1 823M64.4 803.2L27 768.2M27 768.2L41.9 762.3M27 768.2L26.6 786.8M27 768.2L39.9 781.7M27 768.2L46 770.9M27 768.2L54.2 762.3M27 768.2L45.4 792.3M27 768.2L58.2 771.9M27 768.2L59.9 784.2M27 768.2L48 803.2M27 768.2L71.1 783.1M27 768.2L77 761.1M27 768.2L38.8 817.5M27 768.2L78.7 770.9M27 768.2L66.8 817.5M27 768.2L80.1 805M27 768.2L86.9 829.5M27 768.2L97.7 825.4M64.4 803.2L24.9 810.7M24.9 810.7L31.1 823M24.9 810.7L38.8 817.5M24.9 810.7L41.5 826.7M24.9 810.7L48 803.2M24.9 810.7L45.4 792.3M24.9 810.7L39.9 781.7M24.9 810.7L56.2 792.3M24.9 810.7L59.9 784.2M24.9 810.7L46 770.9M24.9 810.7L58.2 771.9M24.9 810.7L71.1 783.1M24.9 810.7L80.1 805M24.9 810.7L78.1 794.4M24.9 810.7L54.2 762.3M24.9 810.7L63.8 763.7M24.9 810.7L88.9 820.9M24.9 810.7L88.3 789.7M24.9 810.7L87.5 778M24.9 810.7L96.1 797.9M64.4 803.2L103.2 812.8M103.2 812.8L97.7 825.4M103.2 812.8L88.9 820.9M103.2 812.8L96.1 797.9M103.2 812.8L102.8 790.9M103.2 812.8L86.9 829.5M103.2 812.8L80.1 805M103.2 812.8L88.3 789.7M103.2 812.8L78.1 794.4M103.2 812.8L98.9 777M103.2 812.8L66.8 817.5M103.2 812.8L87.5 778M103.2 812.8L71.1 783.1M103.2 812.8L98.1 767.8M103.2 812.8L78.7 770.9M103.2 812.8L56.2 792.3M103.2 812.8L39.9 781.7M103.2 812.8L46 770.9" stroke="#7c7c7c" stroke-width="0.45" fill="none" stroke-opacity="0.85"/>
<circle cx="41.9" cy="762.3" r="3.25" fill="#fddcab"/>
<circle cx="54.2" cy="762.3" r="3.25" fill="#fddcab"/>
<circle cx="63.8" cy="763.7" r="3.25" fill="#fddcab"/>
<circle cx="77" cy="761.1" r="3.25" fill="#fddcab"/>
<circle cx="46" cy="770.9" r="3.25" fill="#fddcab"/>
<circle cx="58.2" cy="771.9" r="3.25" fill="#fddcab"/>
<circle cx="78.7" cy="770.9" r="3.25" fill="#fddcab"/>
<circle cx="88.3" cy="768.4" r="3.25" fill="#fddcab"/>
<circle cx="98.1" cy="767.8" r="3.25" fill="#fddcab"/>
<circle cx="87.5" cy="778" r="3.25" fill="#fddcab"/>
<circle cx="98.9" cy="777" r="3.25" fill="#fddcab"/>
<circle cx="59.9" cy="784.2" r="3.25" fill="#fddcab"/>
<circle cx="71.1" cy="783.1" r="3.25" fill="#fddcab"/>
<circle cx="26.6" cy="786.8" r="3.25" fill="#fddcab"/>
<circle cx="88.3" cy="789.7" r="3.25" fill="#fddcab"/>
<circle cx="102.8" cy="790.9" r="3.25" fill="#fddcab"/>
<circle cx="78.1" cy="794.4" r="3.25" fill="#fddcab"/>
<circle cx="96.1" cy="797.9" r="3.25" fill="#fddcab"/>
<circle cx="88.9" cy="820.9" r="3.25" fill="#fddcab"/>
<circle cx="97.7" cy="825.4" r="3.25" fill="#fddcab"/>
<circle cx="86.9" cy="829.5" r="3.25" fill="#fddcab"/>
<circle cx="39.9" cy="781.7" r="3.25" fill="#fca4a8"/>
<circle cx="45.4" cy="792.3" r="3.25" fill="#fca4a8"/>
<circle cx="56.2" cy="792.3" r="3.25" fill="#fca4a8"/>
<circle cx="48" cy="803.2" r="3.25" fill="#fca4a8"/>
<circle cx="80.1" cy="805" r="3.25" fill="#fca4a8"/>
<circle cx="38.8" cy="817.5" r="3.25" fill="#fca4a8"/>
<circle cx="66.8" cy="817.5" r="3.25" fill="#fca4a8"/>
<circle cx="31.1" cy="823" r="3.25" fill="#fca4a8"/>
<circle cx="41.5" cy="826.7" r="3.25" fill="#fca4a8"/>
<circle cx="54.8" cy="752.1" r="4.1" fill="#20589c"/>
<circle cx="87.9" cy="755.1" r="4.1" fill="#20589c"/>
<circle cx="27" cy="768.2" r="4.1" fill="#20589c"/>
<circle cx="24.9" cy="810.7" r="4.1" fill="#20589c"/>
<circle cx="103.2" cy="812.8" r="4.1" fill="#20589c"/>
<circle cx="64.4" cy="803.2" r="4.2" fill="#ec6c08"/>
<circle cx="20.5" cy="842" r="3.45" fill="#ec6c08"/>
<text x="28" y="845.1" font-size="9.23" fill="#111">SAMMSON (lncRNA)</text>
<circle cx="20.5" cy="853.43" r="3.45" fill="#20589c"/>
<text x="28" y="856.53" font-size="9.23" fill="#111">Cell cycle target genes</text>
<circle cx="20.5" cy="864.86" r="3.45" fill="#fddcab"/>
<text x="28" y="867.96" font-size="9.23" fill="#111">Mediator (TR:Co-factor)</text>
<circle cx="20.5" cy="876.29" r="3.45" fill="#fca4a8"/>
<text x="28" y="879.39" font-size="9.23" fill="#111">Mediator (PTR:Decoy)</text>
<line x1="134.9" y1="746" x2="134.9" y2="843" stroke="#999" stroke-width="0.45"/>
<line x1="134.9" y1="843" x2="222.6" y2="843" stroke="#999" stroke-width="0.45"/>
<line x1="133.7" y1="843" x2="134.9" y2="843" stroke="#999" stroke-width="0.35"/>
<text x="132.7" y="844.25" text-anchor="end" font-size="3.6" fill="#222">0</text>
<line x1="133.7" y1="828.55" x2="134.9" y2="828.55" stroke="#999" stroke-width="0.35"/>
<text x="132.7" y="829.8" text-anchor="end" font-size="3.6" fill="#222">1</text>
<line x1="133.7" y1="814.1" x2="134.9" y2="814.1" stroke="#999" stroke-width="0.35"/>
<text x="132.7" y="815.35" text-anchor="end" font-size="3.6" fill="#222">2</text>
<line x1="133.7" y1="799.65" x2="134.9" y2="799.65" stroke="#999" stroke-width="0.35"/>
<text x="132.7" y="800.9" text-anchor="end" font-size="3.6" fill="#222">3</text>
<line x1="133.7" y1="785.2" x2="134.9" y2="785.2" stroke="#999" stroke-width="0.35"/>
<text x="132.7" y="786.45" text-anchor="end" font-size="3.6" fill="#222">4</text>
<line x1="133.7" y1="770.75" x2="134.9" y2="770.75" stroke="#999" stroke-width="0.35"/>
<text x="132.7" y="772" text-anchor="end" font-size="3.6" fill="#222">5</text>
<line x1="133.7" y1="756.3" x2="134.9" y2="756.3" stroke="#999" stroke-width="0.35"/>
<text x="132.7" y="757.55" text-anchor="end" font-size="3.6" fill="#222">6</text>
<line x1="135.5" y1="843" x2="135.5" y2="844.2" stroke="#999" stroke-width="0.35"/>
<text transform="translate(136.75 845) rotate(-90)" text-anchor="end" font-size="3.6" fill="#222">0.0</text>
<line x1="144.15" y1="843" x2="144.15" y2="844.2" stroke="#999" stroke-width="0.35"/>
<text transform="translate(145.4 845) rotate(-90)" text-anchor="end" font-size="3.6" fill="#222">0.5</text>
<line x1="152.8" y1="843" x2="152.8" y2="844.2" stroke="#999" stroke-width="0.35"/>
<text transform="translate(154.05 845) rotate(-90)" text-anchor="end" font-size="3.6" fill="#222">1.0</text>
<line x1="161.45" y1="843" x2="161.45" y2="844.2" stroke="#999" stroke-width="0.35"/>
<text transform="translate(162.7 845) rotate(-90)" text-anchor="end" font-size="3.6" fill="#222">1.5</text>
<line x1="170.1" y1="843" x2="170.1" y2="844.2" stroke="#999" stroke-width="0.35"/>
<text transform="translate(171.35 845) rotate(-90)" text-anchor="end" font-size="3.6" fill="#222">2.0</text>
<line x1="178.75" y1="843" x2="178.75" y2="844.2" stroke="#999" stroke-width="0.35"/>
<text transform="translate(180 845) rotate(-90)" text-anchor="end" font-size="3.6" fill="#222">2.5</text>
<line x1="187.4" y1="843" x2="187.4" y2="844.2" stroke="#999" stroke-width="0.35"/>
<text transform="translate(188.65 845) rotate(-90)" text-anchor="end" font-size="3.6" fill="#222">3.0</text>
<line x1="196.05" y1="843" x2="196.05" y2="844.2" stroke="#999" stroke-width="0.35"/>
<text transform="translate(197.3 845) rotate(-90)" text-anchor="end" font-size="3.6" fill="#222">3.5</text>
<line x1="204.7" y1="843" x2="204.7" y2="844.2" stroke="#999" stroke-width="0.35"/>
<text transform="translate(205.95 845) rotate(-90)" text-anchor="end" font-size="3.6" fill="#222">4.0</text>
<line x1="213.35" y1="843" x2="213.35" y2="844.2" stroke="#999" stroke-width="0.35"/>
<text transform="translate(214.6 845) rotate(-90)" text-anchor="end" font-size="3.6" fill="#222">4.5</text>
<line x1="222" y1="843" x2="222" y2="844.2" stroke="#999" stroke-width="0.35"/>
<text transform="translate(223.25 845) rotate(-90)" text-anchor="end" font-size="3.6" fill="#222">5.0</text>
<circle cx="173.47" cy="806.89" r="0.95" fill="#bbbbbb" fill-opacity="0.45"/>
<circle cx="141.96" cy="831.87" r="0.95" fill="#bbbbbb" fill-opacity="0.45"/>
<circle cx="161.04" cy="825.6" r="0.95" fill="#bbbbbb" fill-opacity="0.45"/>
<circle cx="137.62" cy="800.02" r="0.95" fill="#bbbbbb" fill-opacity="0.45"/>
<circle cx="148.76" cy="812.05" r="0.95" fill="#bbbbbb" fill-opacity="0.45"/>
<circle cx="168.74" cy="807.13" r="0.95" fill="#bbbbbb" fill-opacity="0.45"/>
<circle cx="153.02" cy="830.93" r="0.95" fill="#bbbbbb" fill-opacity="0.45"/>
<circle cx="158.06" cy="795.46" r="0.95" fill="#bbbbbb" fill-opacity="0.45"/>
<circle cx="180.71" cy="835.11" r="0.95" fill="#bbbbbb" fill-opacity="0.45"/>
<circle cx="153.26" cy="805.91" r="0.95" fill="#bbbbbb" fill-opacity="0.45"/>
<circle cx="149.66" cy="798.49" r="0.95" fill="#bbbbbb" fill-opacity="0.45"/>
<circle cx="158.52" cy="837.78" r="0.95" fill="#bbbbbb" fill-opacity="0.45"/>
<circle cx="189.48" cy="814.4" r="0.95" fill="#bbbbbb" fill-opacity="0.45"/>
<circle cx="157.42" cy="834.33" r="0.95" fill="#bbbbbb" fill-opacity="0.45"/>
<circle cx="198.66" cy="833.3" r="0.95" fill="#bbbbbb" fill-opacity="0.45"/>
<circle cx="140.98" cy="818.48" r="0.95" fill="#bbbbbb" fill-opacity="0.45"/>
<circle cx="150.78" cy="809.03" r="0.95" fill="#bbbbbb" fill-opacity="0.45"/>
<circle cx="152.79" cy="830.87" r="0.95" fill="#bbbbbb" fill-opacity="0.45"/>
<circle cx="138.67" cy="830.5" r="0.95" fill="#bbbbbb" fill-opacity="0.45"/>
<circle cx="143.88" cy="799.77" r="0.95" fill="#bbbbbb" fill-opacity="0.45"/>
<circle cx="157.87" cy="810.25" r="0.95" fill="#bbbbbb" fill-opacity="0.45"/>
<circle cx="151.75" cy="815.93" r="0.95" fill="#bbbbbb" fill-opacity="0.45"/>
<circle cx="140.74" cy="804.03" r="0.95" fill="#bbbbbb" fill-opacity="0.45"/>
<circle cx="140.19" cy="792.53" r="0.95" fill="#bbbbbb" fill-opacity="0.45"/>
<circle cx="173.85" cy="821.67" r="0.95" fill="#bbbbbb" fill-opacity="0.45"/>
<circle cx="141.59" cy="821.35" r="0.95" fill="#bbbbbb" fill-opacity="0.45"/>
<circle cx="150.2" cy="833.24" r="0.95" fill="#bbbbbb" fill-opacity="0.45"/>
<circle cx="172.09" cy="827.46" r="0.95" fill="#bbbbbb" fill-opacity="0.45"/>
<circle cx="156.23" cy="800.04" r="0.95" fill="#bbbbbb" fill-opacity="0.45"/>
<circle cx="159.46" cy="814.82" r="0.95" fill="#bbbbbb" fill-opacity="0.45"/>
<circle cx="183.5" cy="818.15" r="0.95" fill="#bbbbbb" fill-opacity="0.45"/>
<circle cx="144.41" cy="813.92" r="0.95" fill="#bbbbbb" fill-opacity="0.45"/>
<circle cx="140.68" cy="820.15" r="0.95" fill="#bbbbbb" fill-opacity="0.45"/>
<circle cx="162.93" cy="801.86" r="0.95" fill="#bbbbbb" fill-opacity="0.45"/>
<circle cx="136.92" cy="801.33" r="0.85" fill="#f07078" fill-opacity="0.6"/>
<circle cx="136.38" cy="793.16" r="0.85" fill="#f07078" fill-opacity="0.6"/>
<circle cx="136.55" cy="808.81" r="0.85" fill="#f07078" fill-opacity="0.6"/>
<circle cx="136.57" cy="795.85" r="0.85" fill="#f07078" fill-opacity="0.6"/>
<circle cx="136.98" cy="806.58" r="0.85" fill="#f07078" fill-opacity="0.6"/>
<circle cx="135.63" cy="800.98" r="0.85" fill="#f07078" fill-opacity="0.6"/>
<circle cx="139.3" cy="806.33" r="0.85" fill="#f07078" fill-opacity="0.6"/>
<circle cx="139.27" cy="807.35" r="0.85" fill="#f07078" fill-opacity="0.6"/>
<circle cx="137.1" cy="785.54" r="0.85" fill="#f07078" fill-opacity="0.6"/>
<circle cx="135.98" cy="804.86" r="0.85" fill="#f07078" fill-opacity="0.6"/>
<circle cx="135.33" cy="839.88" r="0.85" fill="#f07078" fill-opacity="0.6"/>
<circle cx="136.56" cy="810.78" r="0.85" fill="#f07078" fill-opacity="0.6"/>
<circle cx="135.49" cy="823" r="0.85" fill="#f07078" fill-opacity="0.6"/>
<circle cx="135.31" cy="809.5" r="0.85" fill="#f07078" fill-opacity="0.6"/>
<circle cx="137.45" cy="806.71" r="0.85" fill="#f07078" fill-opacity="0.6"/>
<circle cx="141.04" cy="815.97" r="0.85" fill="#f07078" fill-opacity="0.6"/>
<circle cx="135.65" cy="811.27" r="0.85" fill="#f07078" fill-opacity="0.6"/>
<circle cx="136.54" cy="790.66" r="0.85" fill="#f07078" fill-opacity="0.6"/>
<circle cx="136.43" cy="827.38" r="0.85" fill="#f07078" fill-opacity="0.6"/>
<circle cx="135.55" cy="795.42" r="0.85" fill="#f07078" fill-opacity="0.6"/>
<circle cx="137.52" cy="808.62" r="0.85" fill="#f07078" fill-opacity="0.6"/>
<circle cx="135.61" cy="779.82" r="0.85" fill="#f07078" fill-opacity="0.6"/>
<circle cx="136.05" cy="815.98" r="0.85" fill="#f07078" fill-opacity="0.6"/>
<circle cx="136.13" cy="785.67" r="0.85" fill="#f07078" fill-opacity="0.6"/>
<circle cx="135.98" cy="780.49" r="0.85" fill="#f07078" fill-opacity="0.6"/>
<circle cx="137.76" cy="813.12" r="0.85" fill="#f07078" fill-opacity="0.6"/>
<circle cx="135.61" cy="819.87" r="0.85" fill="#f07078" fill-opacity="0.6"/>
<circle cx="135.57" cy="801.47" r="0.85" fill="#f07078" fill-opacity="0.6"/>
<circle cx="136.3" cy="829.49" r="0.85" fill="#f07078" fill-opacity="0.6"/>
<circle cx="137.56" cy="791.23" r="0.85" fill="#f07078" fill-opacity="0.6"/>
<circle cx="136.34" cy="806.57" r="0.85" fill="#f07078" fill-opacity="0.6"/>
<circle cx="139.4" cy="796.87" r="0.85" fill="#f07078" fill-opacity="0.6"/>
<circle cx="137.38" cy="817.91" r="0.85" fill="#f07078" fill-opacity="0.6"/>
<circle cx="138.88" cy="827.24" r="0.85" fill="#f07078" fill-opacity="0.6"/>
<circle cx="135.41" cy="824.7" r="0.85" fill="#f07078" fill-opacity="0.6"/>
<circle cx="138.22" cy="825.96" r="0.85" fill="#f07078" fill-opacity="0.6"/>
<circle cx="135.81" cy="827.83" r="0.85" fill="#f07078" fill-opacity="0.6"/>
<circle cx="136.18" cy="801.01" r="0.85" fill="#f07078" fill-opacity="0.6"/>
<circle cx="135.48" cy="827.89" r="0.85" fill="#f07078" fill-opacity="0.6"/>
<circle cx="137.8" cy="809.01" r="0.85" fill="#f07078" fill-opacity="0.6"/>
<circle cx="137.65" cy="824.42" r="0.85" fill="#f07078" fill-opacity="0.6"/>
<circle cx="138.11" cy="828.37" r="0.85" fill="#f07078" fill-opacity="0.6"/>
<circle cx="138.06" cy="816.21" r="0.85" fill="#f07078" fill-opacity="0.6"/>
<circle cx="135.83" cy="807.15" r="0.85" fill="#f07078" fill-opacity="0.6"/>
<circle cx="136.14" cy="802.24" r="0.85" fill="#f07078" fill-opacity="0.6"/>
<circle cx="137.54" cy="819.22" r="0.85" fill="#f07078" fill-opacity="0.6"/>
<circle cx="191.5" cy="799" r="0.95" fill="#f06068" fill-opacity="0.85"/>
<circle cx="182" cy="799.3" r="0.95" fill="#f06068" fill-opacity="0.85"/>
<circle cx="153" cy="806.5" r="0.95" fill="#f06068" fill-opacity="0.85"/>
<circle cx="147" cy="811.5" r="0.95" fill="#f06068" fill-opacity="0.85"/>
<circle cx="144.5" cy="812" r="0.95" fill="#f06068" fill-opacity="0.85"/>
<circle cx="135.6" cy="770.5" r="0.95" fill="#f06068" fill-opacity="0.85"/>
<circle cx="135.8" cy="748" r="0.95" fill="#f06068" fill-opacity="0.85"/>
<rect x="138.81" y="834.95" width="1.6" height="1.6" fill="#6868e8" fill-opacity="0.5"/>
<rect x="137.3" y="825.15" width="1.6" height="1.6" fill="#6868e8" fill-opacity="0.5"/>
<rect x="135.48" y="839.66" width="1.6" height="1.6" fill="#6868e8" fill-opacity="0.5"/>
<rect x="134.59" y="823.96" width="1.6" height="1.6" fill="#6868e8" fill-opacity="0.5"/>
<rect x="136.67" y="821.27" width="1.6" height="1.6" fill="#6868e8" fill-opacity="0.5"/>
<rect x="135.38" y="829.39" width="1.6" height="1.6" fill="#6868e8" fill-opacity="0.5"/>
<rect x="136.39" y="820.76" width="1.6" height="1.6" fill="#6868e8" fill-opacity="0.5"/>
<rect x="134.78" y="840.67" width="1.6" height="1.6" fill="#6868e8" fill-opacity="0.5"/>
<rect x="137.3" y="835.11" width="1.6" height="1.6" fill="#6868e8" fill-opacity="0.5"/>
<rect x="138.14" y="830.38" width="1.6" height="1.6" fill="#6868e8" fill-opacity="0.5"/>
<rect x="136.39" y="830.35" width="1.6" height="1.6" fill="#6868e8" fill-opacity="0.5"/>
<rect x="135.95" y="838.39" width="1.6" height="1.6" fill="#6868e8" fill-opacity="0.5"/>
<rect x="134.71" y="825.03" width="1.6" height="1.6" fill="#6868e8" fill-opacity="0.5"/>
<rect x="134.87" y="832.43" width="1.6" height="1.6" fill="#6868e8" fill-opacity="0.5"/>
<rect x="136.16" y="827.13" width="1.6" height="1.6" fill="#6868e8" fill-opacity="0.5"/>
<rect x="135.53" y="824.02" width="1.6" height="1.6" fill="#6868e8" fill-opacity="0.5"/>
<rect x="135.83" y="814.58" width="1.6" height="1.6" fill="#6868e8" fill-opacity="0.5"/>
<rect x="139.45" y="832.16" width="1.6" height="1.6" fill="#6868e8" fill-opacity="0.5"/>
<rect x="136.37" y="824.51" width="1.6" height="1.6" fill="#6868e8" fill-opacity="0.5"/>
<rect x="139.33" y="841.57" width="1.6" height="1.6" fill="#6868e8" fill-opacity="0.5"/>
<rect x="134.5" y="823.27" width="1.6" height="1.6" fill="#6868e8" fill-opacity="0.5"/>
<rect x="138.2" y="840.45" width="1.6" height="1.6" fill="#6868e8" fill-opacity="0.5"/>
<rect x="135.06" y="822.31" width="1.6" height="1.6" fill="#6868e8" fill-opacity="0.5"/>
<rect x="134.73" y="840.04" width="1.6" height="1.6" fill="#6868e8" fill-opacity="0.5"/>
<rect x="136.69" y="841.92" width="1.6" height="1.6" fill="#6868e8" fill-opacity="0.5"/>
<rect x="138.5" y="833.83" width="1.6" height="1.6" fill="#6868e8" fill-opacity="0.5"/>
<rect x="135.75" y="838.78" width="1.6" height="1.6" fill="#6868e8" fill-opacity="0.5"/>
<rect x="134.81" y="839.05" width="1.6" height="1.6" fill="#6868e8" fill-opacity="0.5"/>
<rect x="137.53" y="832.08" width="1.6" height="1.6" fill="#6868e8" fill-opacity="0.5"/>
<rect x="135.11" y="828.06" width="1.6" height="1.6" fill="#6868e8" fill-opacity="0.5"/>
<rect x="135.11" y="822.24" width="1.6" height="1.6" fill="#6868e8" fill-opacity="0.5"/>
<rect x="134.51" y="829.65" width="1.6" height="1.6" fill="#6868e8" fill-opacity="0.5"/>
<rect x="135.37" y="838.24" width="1.6" height="1.6" fill="#6868e8" fill-opacity="0.5"/>
<rect x="138.48" y="836.28" width="1.6" height="1.6" fill="#6868e8" fill-opacity="0.5"/>
<rect x="139.49" y="821.72" width="1.6" height="1.6" fill="#6868e8" fill-opacity="0.5"/>
<rect x="136.75" y="836.29" width="1.6" height="1.6" fill="#6868e8" fill-opacity="0.5"/>
<rect x="137.72" y="824" width="1.6" height="1.6" fill="#6868e8" fill-opacity="0.5"/>
<rect x="136.91" y="841.18" width="1.6" height="1.6" fill="#6868e8" fill-opacity="0.5"/>
<rect x="135.21" y="840.09" width="1.6" height="1.6" fill="#6868e8" fill-opacity="0.5"/>
<rect x="136.35" y="836.27" width="1.6" height="1.6" fill="#6868e8" fill-opacity="0.5"/>
<rect x="137.11" y="827.8" width="1.6" height="1.6" fill="#6868e8" fill-opacity="0.5"/>
<rect x="136.92" y="826.76" width="1.6" height="1.6" fill="#6868e8" fill-opacity="0.5"/>
<rect x="135.19" y="836.62" width="1.6" height="1.6" fill="#6868e8" fill-opacity="0.5"/>
<rect x="135.18" y="826.23" width="1.6" height="1.6" fill="#6868e8" fill-opacity="0.5"/>
<rect x="138.33" y="833.83" width="1.6" height="1.6" fill="#6868e8" fill-opacity="0.5"/>
<rect x="140.25" y="827.16" width="1.6" height="1.6" fill="#6868e8" fill-opacity="0.5"/>
<rect x="138.66" y="841.79" width="1.6" height="1.6" fill="#6868e8" fill-opacity="0.5"/>
<rect x="137.79" y="822.05" width="1.6" height="1.6" fill="#6868e8" fill-opacity="0.5"/>
<rect x="135.09" y="828.03" width="1.6" height="1.6" fill="#6868e8" fill-opacity="0.5"/>
<rect x="138.51" y="841.05" width="1.6" height="1.6" fill="#6868e8" fill-opacity="0.5"/>
<rect x="136.09" y="816.21" width="1.6" height="1.6" fill="#6868e8" fill-opacity="0.5"/>
<rect x="137.22" y="831.03" width="1.6" height="1.6" fill="#6868e8" fill-opacity="0.5"/>
<rect x="136.45" y="831.69" width="1.6" height="1.6" fill="#6868e8" fill-opacity="0.5"/>
<rect x="137.13" y="821.3" width="1.6" height="1.6" fill="#6868e8" fill-opacity="0.5"/>
<rect x="135.1" y="827.14" width="1.6" height="1.6" fill="#6868e8" fill-opacity="0.5"/>
<rect x="135.61" y="825.79" width="1.6" height="1.6" fill="#6868e8" fill-opacity="0.5"/>
<rect x="137.33" y="840.36" width="1.6" height="1.6" fill="#6868e8" fill-opacity="0.5"/>
<rect x="138.39" y="824.84" width="1.6" height="1.6" fill="#6868e8" fill-opacity="0.5"/>
<rect x="137.9" y="834.04" width="1.6" height="1.6" fill="#6868e8" fill-opacity="0.5"/>
<rect x="139.08" y="834.07" width="1.6" height="1.6" fill="#6868e8" fill-opacity="0.5"/>
<rect x="159.15" y="794.15" width="1.7" height="1.7" fill="#5858e0" fill-opacity="0.8"/>
<rect x="170.15" y="805.65" width="1.7" height="1.7" fill="#5858e0" fill-opacity="0.8"/>
<rect x="140.65" y="811.15" width="1.7" height="1.7" fill="#5858e0" fill-opacity="0.8"/>
<rect x="138.65" y="814.15" width="1.7" height="1.7" fill="#5858e0" fill-opacity="0.8"/>
<rect x="140.15" y="840.15" width="1.7" height="1.7" fill="#5858e0" fill-opacity="0.8"/>
<rect x="135.65" y="750.15" width="1.7" height="1.7" fill="#5858e0" fill-opacity="0.8"/>
<line x1="135.6" y1="748" x2="139" y2="748" stroke="#f07078" stroke-width="0.4"/>
<line x1="136.5" y1="751" x2="140.5" y2="751" stroke="#7070e0" stroke-width="0.4"/>
<line x1="135.6" y1="754" x2="137" y2="754" stroke="#aaa" stroke-width="0.4"/>
<line x1="135" y1="802" x2="191.7" y2="803" stroke="#f4a0a8" stroke-width="0.55"/>
<line x1="136.6" y1="826" x2="171.3" y2="802" stroke="#a0a0f0" stroke-width="0.55"/>
<line x1="171" y1="811" x2="216" y2="808.7" stroke="#e6e6e6" stroke-width="0.5"/>
<line x1="223.4" y1="770.9" x2="223.4" y2="832.2" stroke="#f08088" stroke-width="0.45"/>
<rect x="222.2" y="791.3" width="2.4" height="19.4" fill="#f4989e"/>
<line x1="226.5" y1="797.4" x2="226.5" y2="841.4" stroke="#8888e8" stroke-width="0.45"/>
<rect x="225.3" y="818.9" width="2.4" height="15.3" fill="#9c9cea"/>
<line x1="229.6" y1="768.8" x2="229.6" y2="841.4" stroke="#cfcfcf" stroke-width="0.45"/>
<rect x="228.4" y="801.5" width="2.4" height="24.5" fill="#dcdcdc"/>
<path d="M159.7 808.3L156.9 781.5" stroke="#111" stroke-width="0.75"/><path d="M156.5 777.9l2.7 5.3l-4.3 0.5z" fill="#111"/>
<path d="M180.5 805.2L175 814.8" stroke="#111" stroke-width="0.75"/><path d="M173.3 817.8l0.6 -5.7l3.8 2.2z" fill="#111"/>
<text transform="translate(124.4 798.2) rotate(-90)" text-anchor="middle" font-size="8.79" fill="#111">BRCA2</text>
<text x="180" y="862.5" text-anchor="middle" font-size="8.9" fill="#111">SAMMSON</text>
<text x="140.7" y="764.4" font-size="8.1" fill="#111"><tspan font-style="italic">r</tspan><tspan dy="1.8" font-size="6.3">Low</tspan><tspan dy="-1.8">: 0.339 (</tspan><tspan font-style="italic">P</tspan> = 3 x 10<tspan dy="-3.1" font-size="5.8">−3</tspan><tspan dy="3.1">)</tspan></text>
<text x="137" y="828.2" font-size="8.1" fill="#111"><tspan font-style="italic">r</tspan><tspan dy="1.8" font-size="6.3">High</tspan><tspan dy="-1.8">: −0.008 (</tspan><tspan font-style="italic">P</tspan> = 0.95)</text>
<text x="267" y="761.7" font-size="8.23" fill="#111">Low 25% (<tspan font-style="italic">n</tspan> = 74)</text>
<text x="343" y="761.7" font-size="8.27" fill="#111">High 25% (<tspan font-style="italic">n</tspan> = 74)</text>
<rect x="261.2" y="768.3" width="71.7" height="2.6" fill="#dadada"/>
<rect x="261.2" y="771.2" width="1.84" height="2.45" fill="#7070d8"/>
<rect x="262.99" y="771.2" width="1.84" height="2.45" fill="#ffffff"/>
<rect x="264.78" y="771.2" width="1.84" height="2.45" fill="#f8c0cc"/>
<rect x="266.58" y="771.2" width="1.84" height="2.45" fill="#f8c0cc"/>
<rect x="268.37" y="771.2" width="1.84" height="2.45" fill="#70c070"/>
<rect x="270.16" y="771.2" width="1.84" height="2.45" fill="#f0b060"/>
<rect x="271.95" y="771.2" width="1.84" height="2.45" fill="#70c070"/>
<rect x="273.75" y="771.2" width="1.84" height="2.45" fill="#c0e060"/>
<rect x="275.54" y="771.2" width="1.84" height="2.45" fill="#f8c0cc"/>
<rect x="277.33" y="771.2" width="1.84" height="2.45" fill="#c0e060"/>
<rect x="279.12" y="771.2" width="1.84" height="2.45" fill="#c0e060"/>
<rect x="280.92" y="771.2" width="1.84" height="2.45" fill="#ffffff"/>
<rect x="282.71" y="771.2" width="1.84" height="2.45" fill="#e87070"/>
<rect x="284.5" y="771.2" width="1.84" height="2.45" fill="#f8c0cc"/>
<rect x="286.29" y="771.2" width="1.84" height="2.45" fill="#d880d8"/>
<rect x="288.09" y="771.2" width="1.84" height="2.45" fill="#70c070"/>
<rect x="289.88" y="771.2" width="1.84" height="2.45" fill="#c0e060"/>
<rect x="291.67" y="771.2" width="1.84" height="2.45" fill="#f0e060"/>
<rect x="293.46" y="771.2" width="1.84" height="2.45" fill="#e87070"/>
<rect x="295.26" y="771.2" width="1.84" height="2.45" fill="#e87070"/>
<rect x="297.05" y="771.2" width="1.84" height="2.45" fill="#ffffff"/>
<rect x="298.84" y="771.2" width="1.84" height="2.45" fill="#f8c0cc"/>
<rect x="300.63" y="771.2" width="1.84" height="2.45" fill="#f8c0cc"/>
<rect x="302.43" y="771.2" width="1.84" height="2.45" fill="#f0e060"/>
<rect x="304.22" y="771.2" width="1.84" height="2.45" fill="#90d8cc"/>
<rect x="306.01" y="771.2" width="1.84" height="2.45" fill="#c0e060"/>
<rect x="307.81" y="771.2" width="1.84" height="2.45" fill="#f0b060"/>
<rect x="309.6" y="771.2" width="1.84" height="2.45" fill="#90d8cc"/>
<rect x="311.39" y="771.2" width="1.84" height="2.45" fill="#f8c0cc"/>
<rect x="313.18" y="771.2" width="1.84" height="2.45" fill="#d880d8"/>
<rect x="314.97" y="771.2" width="1.84" height="2.45" fill="#ffffff"/>
<rect x="316.77" y="771.2" width="1.84" height="2.45" fill="#70c070"/>
<rect x="318.56" y="771.2" width="1.84" height="2.45" fill="#a8e0ec"/>
<rect x="320.35" y="771.2" width="1.84" height="2.45" fill="#f0e060"/>
<rect x="322.14" y="771.2" width="1.84" height="2.45" fill="#f0e060"/>
<rect x="323.94" y="771.2" width="1.84" height="2.45" fill="#f0e060"/>
<rect x="325.73" y="771.2" width="1.84" height="2.45" fill="#ffffff"/>
<rect x="327.52" y="771.2" width="1.84" height="2.45" fill="#ffffff"/>
<rect x="329.31" y="771.2" width="1.84" height="2.45" fill="#f0e060"/>
<rect x="331.11" y="771.2" width="1.84" height="2.45" fill="#e87070"/>
<rect x="261.2" y="773.85" width="1.84" height="2.45" fill="#ffffff"/>
<rect x="262.99" y="773.85" width="1.84" height="2.45" fill="#5050d0"/>
<rect x="264.78" y="773.85" width="1.84" height="2.45" fill="#a0dcec"/>
<rect x="266.58" y="773.85" width="1.84" height="2.45" fill="#ffffff"/>
<rect x="268.37" y="773.85" width="1.84" height="2.45" fill="#d060d0"/>
<rect x="270.16" y="773.85" width="1.84" height="2.45" fill="#80d080"/>
<rect x="271.95" y="773.85" width="1.84" height="2.45" fill="#5050d0"/>
<rect x="273.75" y="773.85" width="1.84" height="2.45" fill="#c08040"/>
<rect x="275.54" y="773.85" width="1.84" height="2.45" fill="#c08040"/>
<rect x="277.33" y="773.85" width="1.84" height="2.45" fill="#80d080"/>
<rect x="279.12" y="773.85" width="1.84" height="2.45" fill="#5050d0"/>
<rect x="280.92" y="773.85" width="1.84" height="2.45" fill="#ffc040"/>
<rect x="282.71" y="773.85" width="1.84" height="2.45" fill="#5050d0"/>
<rect x="284.5" y="773.85" width="1.84" height="2.45" fill="#ffffff"/>
<rect x="286.29" y="773.85" width="1.84" height="2.45" fill="#5050d0"/>
<rect x="288.09" y="773.85" width="1.84" height="2.45" fill="#c08040"/>
<rect x="289.88" y="773.85" width="1.84" height="2.45" fill="#e85050"/>
<rect x="291.67" y="773.85" width="1.84" height="2.45" fill="#d060d0"/>
<rect x="293.46" y="773.85" width="1.84" height="2.45" fill="#a0dcec"/>
<rect x="295.26" y="773.85" width="1.84" height="2.45" fill="#80d080"/>
<rect x="297.05" y="773.85" width="1.84" height="2.45" fill="#ffffff"/>
<rect x="298.84" y="773.85" width="1.84" height="2.45" fill="#50b050"/>
<rect x="300.63" y="773.85" width="1.84" height="2.45" fill="#e8d840"/>
<rect x="302.43" y="773.85" width="1.84" height="2.45" fill="#ffffff"/>
<rect x="304.22" y="773.85" width="1.84" height="2.45" fill="#ffffff"/>
<rect x="306.01" y="773.85" width="1.84" height="2.45" fill="#e85050"/>
<rect x="307.81" y="773.85" width="1.84" height="2.45" fill="#50b050"/>
<rect x="309.6" y="773.85" width="1.84" height="2.45" fill="#ffffff"/>
<rect x="311.39" y="773.85" width="1.84" height="2.45" fill="#ffc040"/>
<rect x="313.18" y="773.85" width="1.84" height="2.45" fill="#ffffff"/>
<rect x="314.97" y="773.85" width="1.84" height="2.45" fill="#ffffff"/>
<rect x="316.77" y="773.85" width="1.84" height="2.45" fill="#80d080"/>
<rect x="318.56" y="773.85" width="1.84" height="2.45" fill="#a0dcec"/>
<rect x="320.35" y="773.85" width="1.84" height="2.45" fill="#80d080"/>
<rect x="322.14" y="773.85" width="1.84" height="2.45" fill="#ffffff"/>
<rect x="323.94" y="773.85" width="1.84" height="2.45" fill="#5050d0"/>
<rect x="325.73" y="773.85" width="1.84" height="2.45" fill="#e85050"/>
<rect x="327.52" y="773.85" width="1.84" height="2.45" fill="#e85050"/>
<rect x="329.31" y="773.85" width="1.84" height="2.45" fill="#ffffff"/>
<rect x="331.11" y="773.85" width="1.84" height="2.45" fill="#c08040"/>
<rect x="261.2" y="776.5" width="1.84" height="2.45" fill="#3030c0"/>
<rect x="262.99" y="776.5" width="1.84" height="2.45" fill="#30a030"/>
<rect x="264.78" y="776.5" width="1.84" height="2.45" fill="#3030c0"/>
<rect x="266.58" y="776.5" width="1.84" height="2.45" fill="#c040c0"/>
<rect x="268.37" y="776.5" width="1.84" height="2.45" fill="#30a030"/>
<rect x="270.16" y="776.5" width="1.84" height="2.45" fill="#c040c0"/>
<rect x="271.95" y="776.5" width="1.84" height="2.45" fill="#e8d020"/>
<rect x="273.75" y="776.5" width="1.84" height="2.45" fill="#30a030"/>
<rect x="275.54" y="776.5" width="1.84" height="2.45" fill="#30a030"/>
<rect x="277.33" y="776.5" width="1.84" height="2.45" fill="#e8d020"/>
<rect x="279.12" y="776.5" width="1.84" height="2.45" fill="#c040c0"/>
<rect x="280.92" y="776.5" width="1.84" height="2.45" fill="#9030c0"/>
<rect x="282.71" y="776.5" width="1.84" height="2.45" fill="#3030c0"/>
<rect x="284.5" y="776.5" width="1.84" height="2.45" fill="#e8d020"/>
<rect x="286.29" y="776.5" width="1.84" height="2.45" fill="#e8d020"/>
<rect x="288.09" y="776.5" width="1.84" height="2.45" fill="#e8d020"/>
<rect x="289.88" y="776.5" width="1.84" height="2.45" fill="#9030c0"/>
<rect x="291.67" y="776.5" width="1.84" height="2.45" fill="#c040c0"/>
<rect x="293.46" y="776.5" width="1.84" height="2.45" fill="#30a030"/>
<rect x="295.26" y="776.5" width="1.84" height="2.45" fill="#e8d020"/>
<rect x="297.05" y="776.5" width="1.84" height="2.45" fill="#3030c0"/>
<rect x="298.84" y="776.5" width="1.84" height="2.45" fill="#c040c0"/>
<rect x="300.63" y="776.5" width="1.84" height="2.45" fill="#c040c0"/>
<rect x="302.43" y="776.5" width="1.84" height="2.45" fill="#3030c0"/>
<rect x="304.22" y="776.5" width="1.84" height="2.45" fill="#30a030"/>
<rect x="306.01" y="776.5" width="1.84" height="2.45" fill="#9030c0"/>
<rect x="307.81" y="776.5" width="1.84" height="2.45" fill="#30a030"/>
<rect x="309.6" y="776.5" width="1.84" height="2.45" fill="#e8d020"/>
<rect x="311.39" y="776.5" width="1.84" height="2.45" fill="#c040c0"/>
<rect x="313.18" y="776.5" width="1.84" height="2.45" fill="#30a030"/>
<rect x="314.97" y="776.5" width="1.84" height="2.45" fill="#c040c0"/>
<rect x="316.77" y="776.5" width="1.84" height="2.45" fill="#9030c0"/>
<rect x="318.56" y="776.5" width="1.84" height="2.45" fill="#e8d020"/>
<rect x="320.35" y="776.5" width="1.84" height="2.45" fill="#3030c0"/>
<rect x="322.14" y="776.5" width="1.84" height="2.45" fill="#3030c0"/>
<rect x="323.94" y="776.5" width="1.84" height="2.45" fill="#3030c0"/>
<rect x="325.73" y="776.5" width="1.84" height="2.45" fill="#30a030"/>
<rect x="327.52" y="776.5" width="1.84" height="2.45" fill="#e8d020"/>
<rect x="329.31" y="776.5" width="1.84" height="2.45" fill="#c040c0"/>
<rect x="331.11" y="776.5" width="1.84" height="2.45" fill="#c040c0"/>
<rect x="337.5" y="768.3" width="73.6" height="2.6" fill="#dadada"/>
<rect x="337.5" y="771.2" width="1.89" height="2.45" fill="#f0e060"/>
<rect x="339.34" y="771.2" width="1.89" height="2.45" fill="#70c070"/>
<rect x="341.18" y="771.2" width="1.89" height="2.45" fill="#70c070"/>
<rect x="343.02" y="771.2" width="1.89" height="2.45" fill="#a8e0ec"/>
<rect x="344.86" y="771.2" width="1.89" height="2.45" fill="#7070d8"/>
<rect x="346.7" y="771.2" width="1.89" height="2.45" fill="#90d8cc"/>
<rect x="348.54" y="771.2" width="1.89" height="2.45" fill="#f8c0cc"/>
<rect x="350.38" y="771.2" width="1.89" height="2.45" fill="#ffffff"/>
<rect x="352.22" y="771.2" width="1.89" height="2.45" fill="#f0b060"/>
<rect x="354.06" y="771.2" width="1.89" height="2.45" fill="#f0b060"/>
<rect x="355.9" y="771.2" width="1.89" height="2.45" fill="#ffffff"/>
<rect x="357.74" y="771.2" width="1.89" height="2.45" fill="#d880d8"/>
<rect x="359.58" y="771.2" width="1.89" height="2.45" fill="#ffffff"/>
<rect x="361.42" y="771.2" width="1.89" height="2.45" fill="#f0e060"/>
<rect x="363.26" y="771.2" width="1.89" height="2.45" fill="#ffffff"/>
<rect x="365.1" y="771.2" width="1.89" height="2.45" fill="#ffffff"/>
<rect x="366.94" y="771.2" width="1.89" height="2.45" fill="#7070d8"/>
<rect x="368.78" y="771.2" width="1.89" height="2.45" fill="#e87070"/>
<rect x="370.62" y="771.2" width="1.89" height="2.45" fill="#ffffff"/>
<rect x="372.46" y="771.2" width="1.89" height="2.45" fill="#e87070"/>
<rect x="374.3" y="771.2" width="1.89" height="2.45" fill="#f8c0cc"/>
<rect x="376.14" y="771.2" width="1.89" height="2.45" fill="#90d8cc"/>
<rect x="377.98" y="771.2" width="1.89" height="2.45" fill="#ffffff"/>
<rect x="379.82" y="771.2" width="1.89" height="2.45" fill="#a8e0ec"/>
<rect x="381.66" y="771.2" width="1.89" height="2.45" fill="#ffffff"/>
<rect x="383.5" y="771.2" width="1.89" height="2.45" fill="#c0e060"/>
<rect x="385.34" y="771.2" width="1.89" height="2.45" fill="#ffffff"/>
<rect x="387.18" y="771.2" width="1.89" height="2.45" fill="#f0b060"/>
<rect x="389.02" y="771.2" width="1.89" height="2.45" fill="#f0e060"/>
<rect x="390.86" y="771.2" width="1.89" height="2.45" fill="#f0e060"/>
<rect x="392.7" y="771.2" width="1.89" height="2.45" fill="#a8e0ec"/>
<rect x="394.54" y="771.2" width="1.89" height="2.45" fill="#c0e060"/>
<rect x="396.38" y="771.2" width="1.89" height="2.45" fill="#a8e0ec"/>
<rect x="398.22" y="771.2" width="1.89" height="2.45" fill="#e87070"/>
<rect x="400.06" y="771.2" width="1.89" height="2.45" fill="#e87070"/>
<rect x="401.9" y="771.2" width="1.89" height="2.45" fill="#ffffff"/>
<rect x="403.74" y="771.2" width="1.89" height="2.45" fill="#7070d8"/>
<rect x="405.58" y="771.2" width="1.89" height="2.45" fill="#ffffff"/>
<rect x="407.42" y="771.2" width="1.89" height="2.45" fill="#7070d8"/>
<rect x="409.26" y="771.2" width="1.89" height="2.45" fill="#d880d8"/>
<rect x="337.5" y="773.85" width="1.89" height="2.45" fill="#5050d0"/>
<rect x="339.34" y="773.85" width="1.89" height="2.45" fill="#d060d0"/>
<rect x="341.18" y="773.85" width="1.89" height="2.45" fill="#e8d840"/>
<rect x="343.02" y="773.85" width="1.89" height="2.45" fill="#ffc040"/>
<rect x="344.86" y="773.85" width="1.89" height="2.45" fill="#e8d840"/>
<rect x="346.7" y="773.85" width="1.89" height="2.45" fill="#e8d840"/>
<rect x="348.54" y="773.85" width="1.89" height="2.45" fill="#80d080"/>
<rect x="350.38" y="773.85" width="1.89" height="2.45" fill="#80d080"/>
<rect x="352.22" y="773.85" width="1.89" height="2.45" fill="#ffc040"/>
<rect x="354.06" y="773.85" width="1.89" height="2.45" fill="#80d080"/>
<rect x="355.9" y="773.85" width="1.89" height="2.45" fill="#ffffff"/>
<rect x="357.74" y="773.85" width="1.89" height="2.45" fill="#80d080"/>
<rect x="359.58" y="773.85" width="1.89" height="2.45" fill="#e8d840"/>
<rect x="361.42" y="773.85" width="1.89" height="2.45" fill="#c08040"/>
<rect x="363.26" y="773.85" width="1.89" height="2.45" fill="#a0dcec"/>
<rect x="365.1" y="773.85" width="1.89" height="2.45" fill="#ffffff"/>
<rect x="366.94" y="773.85" width="1.89" height="2.45" fill="#80d080"/>
<rect x="368.78" y="773.85" width="1.89" height="2.45" fill="#ffc040"/>
<rect x="370.62" y="773.85" width="1.89" height="2.45" fill="#ffffff"/>
<rect x="372.46" y="773.85" width="1.89" height="2.45" fill="#ffc040"/>
<rect x="374.3" y="773.85" width="1.89" height="2.45" fill="#ffc040"/>
<rect x="376.14" y="773.85" width="1.89" height="2.45" fill="#c08040"/>
<rect x="377.98" y="773.85" width="1.89" height="2.45" fill="#e8d840"/>
<rect x="379.82" y="773.85" width="1.89" height="2.45" fill="#a0dcec"/>
<rect x="381.66" y="773.85" width="1.89" height="2.45" fill="#ffffff"/>
<rect x="383.5" y="773.85" width="1.89" height="2.45" fill="#ffffff"/>
<rect x="385.34" y="773.85" width="1.89" height="2.45" fill="#c08040"/>
<rect x="387.18" y="773.85" width="1.89" height="2.45" fill="#ffffff"/>
<rect x="389.02" y="773.85" width="1.89" height="2.45" fill="#80d080"/>
<rect x="390.86" y="773.85" width="1.89" height="2.45" fill="#5050d0"/>
<rect x="392.7" y="773.85" width="1.89" height="2.45" fill="#c08040"/>
<rect x="394.54" y="773.85" width="1.89" height="2.45" fill="#e85050"/>
<rect x="396.38" y="773.85" width="1.89" height="2.45" fill="#c08040"/>
<rect x="398.22" y="773.85" width="1.89" height="2.45" fill="#80d080"/>
<rect x="400.06" y="773.85" width="1.89" height="2.45" fill="#80d080"/>
<rect x="401.9" y="773.85" width="1.89" height="2.45" fill="#ffc040"/>
<rect x="403.74" y="773.85" width="1.89" height="2.45" fill="#ffffff"/>
<rect x="405.58" y="773.85" width="1.89" height="2.45" fill="#c08040"/>
<rect x="407.42" y="773.85" width="1.89" height="2.45" fill="#c08040"/>
<rect x="409.26" y="773.85" width="1.89" height="2.45" fill="#ffc040"/>
<rect x="337.5" y="776.5" width="1.89" height="2.45" fill="#c040c0"/>
<rect x="339.34" y="776.5" width="1.89" height="2.45" fill="#f0f0a0"/>
<rect x="341.18" y="776.5" width="1.89" height="2.45" fill="#c040c0"/>
<rect x="343.02" y="776.5" width="1.89" height="2.45" fill="#f0f0a0"/>
<rect x="344.86" y="776.5" width="1.89" height="2.45" fill="#e08020"/>
<rect x="346.7" y="776.5" width="1.89" height="2.45" fill="#e08020"/>
<rect x="348.54" y="776.5" width="1.89" height="2.45" fill="#f0f0a0"/>
<rect x="350.38" y="776.5" width="1.89" height="2.45" fill="#e02020"/>
<rect x="352.22" y="776.5" width="1.89" height="2.45" fill="#e02020"/>
<rect x="354.06" y="776.5" width="1.89" height="2.45" fill="#f0f0a0"/>
<rect x="355.9" y="776.5" width="1.89" height="2.45" fill="#e02020"/>
<rect x="357.74" y="776.5" width="1.89" height="2.45" fill="#c040c0"/>
<rect x="359.58" y="776.5" width="1.89" height="2.45" fill="#e02020"/>
<rect x="361.42" y="776.5" width="1.89" height="2.45" fill="#e08020"/>
<rect x="363.26" y="776.5" width="1.89" height="2.45" fill="#e02020"/>
<rect x="365.1" y="776.5" width="1.89" height="2.45" fill="#e02020"/>
<rect x="366.94" y="776.5" width="1.89" height="2.45" fill="#f0f0a0"/>
<rect x="368.78" y="776.5" width="1.89" height="2.45" fill="#c040c0"/>
<rect x="370.62" y="776.5" width="1.89" height="2.45" fill="#c040c0"/>
<rect x="372.46" y="776.5" width="1.89" height="2.45" fill="#c040c0"/>
<rect x="374.3" y="776.5" width="1.89" height="2.45" fill="#c040c0"/>
<rect x="376.14" y="776.5" width="1.89" height="2.45" fill="#f0f0a0"/>
<rect x="377.98" y="776.5" width="1.89" height="2.45" fill="#c040c0"/>
<rect x="379.82" y="776.5" width="1.89" height="2.45" fill="#c040c0"/>
<rect x="381.66" y="776.5" width="1.89" height="2.45" fill="#e08020"/>
<rect x="383.5" y="776.5" width="1.89" height="2.45" fill="#e02020"/>
<rect x="385.34" y="776.5" width="1.89" height="2.45" fill="#f0f0a0"/>
<rect x="387.18" y="776.5" width="1.89" height="2.45" fill="#e02020"/>
<rect x="389.02" y="776.5" width="1.89" height="2.45" fill="#e08020"/>
<rect x="390.86" y="776.5" width="1.89" height="2.45" fill="#c040c0"/>
<rect x="392.7" y="776.5" width="1.89" height="2.45" fill="#e02020"/>
<rect x="394.54" y="776.5" width="1.89" height="2.45" fill="#f0f0a0"/>
<rect x="396.38" y="776.5" width="1.89" height="2.45" fill="#c040c0"/>
<rect x="398.22" y="776.5" width="1.89" height="2.45" fill="#e8d020"/>
<rect x="400.06" y="776.5" width="1.89" height="2.45" fill="#e02020"/>
<rect x="401.9" y="776.5" width="1.89" height="2.45" fill="#f0f0a0"/>
<rect x="403.74" y="776.5" width="1.89" height="2.45" fill="#e8d020"/>
<rect x="405.58" y="776.5" width="1.89" height="2.45" fill="#e02020"/>
<rect x="407.42" y="776.5" width="1.89" height="2.45" fill="#f0f0a0"/>
<rect x="409.26" y="776.5" width="1.89" height="2.45" fill="#e8d020"/>
<text x="260.4" y="773.3" text-anchor="end" font-size="2.3" fill="#222">Biological_source</text>
<text x="260.4" y="775.95" text-anchor="end" font-size="2.3" fill="#222">Organ_system</text>
<text x="260.4" y="778.6" text-anchor="end" font-size="2.3" fill="#222">type</text>
<rect x="261.2" y="782.7" width="71.7" height="11.7" fill="#fff"/>
<path d="M261.2 785.88h1.49M271.66 785.88h1.49M274.64 785.88h2.99M276.14 787.2h1.49M283.61 787.2h1.49M298.54 787.2h1.49M303.02 787.2h1.49M311.99 787.2h1.49M329.91 787.2h2.99M265.68 788.52h1.49M270.16 788.52h4.48M283.61 788.52h1.49M295.56 788.52h1.49M303.02 788.52h1.49M307.51 788.52h2.99M311.99 788.52h1.49M320.95 788.52h1.49M271.66 789.84h1.49M311.99 789.84h1.49M261.2 791.15h1.49M271.66 791.15h1.49M276.14 791.15h1.49M283.61 791.15h1.49M288.09 791.15h1.49M295.56 791.15h1.49M311.99 791.15h1.49M319.46 791.15h1.49M331.41 791.15h1.49M311.99 792.48h1.49M326.92 792.48h1.49M261.2 793.8h1.49M303.02 793.8h1.49M307.51 793.8h2.99M314.97 793.8h1.49M319.46 793.8h1.49" stroke="#4646cd" stroke-width="1.35" fill="none"/>
<path d="M262.69 785.88h1.49M282.11 785.88h1.49M282.11 788.52h1.49M264.19 789.84h1.49M277.63 789.84h1.49M300.04 789.84h1.49M282.11 791.15h1.49M310.49 792.48h1.49M320.95 792.48h1.49" stroke="#f8c2c3" stroke-width="1.35" fill="none"/>
<path d="M264.19 785.88h1.49M267.18 785.88h1.49M277.63 785.88h1.49M280.62 785.88h1.49M285.1 785.88h1.49M291.07 785.88h1.49M300.04 785.88h2.99M304.52 785.88h1.49M310.49 785.88h1.49M316.47 785.88h1.49M261.2 787.2h1.49M265.68 787.2h1.49M316.47 787.2h1.49M322.44 787.2h1.49M264.19 788.52h1.49M300.04 788.52h1.49M322.44 788.52h2.99M329.91 788.52h1.49M261.2 789.84h1.49M267.18 789.84h2.99M274.64 789.84h2.99M286.59 789.84h1.49M291.07 789.84h1.49M306.01 789.84h1.49M319.46 789.84h1.49M322.44 789.84h1.49M328.42 789.84h1.49M331.41 789.84h1.49M265.68 791.15h1.49M268.67 791.15h1.49M279.12 791.15h2.99M320.95 791.15h1.49M274.64 792.48h1.49M285.1 792.48h1.49M295.56 792.48h1.49M314.97 792.48h1.49M331.41 792.48h1.49M268.67 793.8h1.49M273.15 793.8h1.49M276.14 793.8h1.49M279.12 793.8h2.99M300.04 793.8h1.49M304.52 793.8h2.99M310.49 793.8h1.49M328.42 793.8h1.49" stroke="#c8c8f0" stroke-width="1.35" fill="none"/>
<path d="M265.68 785.88h1.49M268.67 785.88h2.99M279.12 785.88h1.49M289.58 785.88h1.49M292.57 785.88h1.49M295.56 785.88h2.99M306.01 785.88h4.48M314.97 785.88h1.49M322.44 785.88h5.97M331.41 785.88h1.49M262.69 787.2h1.49M267.18 787.2h1.49M271.66 787.2h2.99M277.63 787.2h1.49M280.62 787.2h1.49M289.58 787.2h1.49M300.04 787.2h1.49M307.51 787.2h2.99M313.48 787.2h1.49M328.42 787.2h1.49M261.2 788.52h2.99M267.18 788.52h1.49M274.64 788.52h1.49M277.63 788.52h1.49M280.62 788.52h1.49M285.1 788.52h2.99M289.58 788.52h1.49M297.05 788.52h2.99M313.48 788.52h1.49M325.43 788.52h2.99M331.41 788.52h1.49M262.69 789.84h1.49M289.58 789.84h1.49M295.56 789.84h1.49M303.02 789.84h1.49M307.51 789.84h1.49M313.48 789.84h2.99M264.19 791.15h1.49M273.15 791.15h1.49M285.1 791.15h2.99M291.07 791.15h1.49M298.54 791.15h1.49M306.01 791.15h4.48M313.48 791.15h4.48M322.44 791.15h1.49M325.43 791.15h2.99M265.68 792.48h2.99M270.16 792.48h2.99M283.61 792.48h1.49M289.58 792.48h1.49M292.57 792.48h1.49M297.05 792.48h1.49M304.52 792.48h1.49M307.51 792.48h1.49M323.94 792.48h1.49M328.42 792.48h1.49M262.69 793.8h2.99M277.63 793.8h1.49M291.07 793.8h1.49M297.05 793.8h1.49M311.99 793.8h1.49M317.96 793.8h1.49M323.94 793.8h1.49M329.91 793.8h2.99" stroke="#a3a3e6" stroke-width="1.35" fill="none"/>
<path d="M273.15 785.88h1.49M283.61 785.88h1.49M286.59 785.88h2.99M303.02 785.88h1.49M311.99 785.88h2.99M317.96 785.88h4.48M328.42 785.88h1.49M268.67 787.2h2.99M274.64 787.2h1.49M285.1 787.2h1.49M288.09 787.2h1.49M291.07 787.2h2.99M295.56 787.2h2.99M314.97 787.2h1.49M319.46 787.2h2.99M325.43 787.2h2.99M268.67 788.52h1.49M276.14 788.52h1.49M288.09 788.52h1.49M291.07 788.52h2.99M301.53 788.52h1.49M304.52 788.52h2.99M314.97 788.52h1.49M319.46 788.52h1.49M328.42 788.52h1.49M265.68 789.84h1.49M288.09 789.84h1.49M292.57 789.84h1.49M309 789.84h1.49M262.69 791.15h1.49M267.18 791.15h1.49M270.16 791.15h1.49M274.64 791.15h1.49M292.57 791.15h1.49M300.04 791.15h1.49M303.02 791.15h1.49M317.96 791.15h1.49M328.42 791.15h1.49M261.2 792.48h1.49M273.15 792.48h1.49M277.63 792.48h1.49M280.62 792.48h1.49M288.09 792.48h1.49M291.07 792.48h1.49M303.02 792.48h1.49M309 792.48h1.49M313.48 792.48h1.49M319.46 792.48h1.49M265.68 793.8h2.99M270.16 793.8h2.99M274.64 793.8h1.49M288.09 793.8h1.49M292.57 793.8h1.49M295.56 793.8h1.49M298.54 793.8h1.49" stroke="#7575da" stroke-width="1.35" fill="none"/>
<path d="M298.54 785.88h1.49M294.06 789.84h1.49M310.49 789.84h1.49M316.47 789.84h1.49M264.19 792.48h1.49M316.47 792.48h1.49M326.92 793.8h1.49" stroke="#f3999b" stroke-width="1.35" fill="none"/>
<path d="M329.91 785.88h1.49M264.19 787.2h1.49M294.06 787.2h1.49M301.53 787.2h1.49M304.52 787.2h1.49M323.94 787.2h1.49M279.12 788.52h1.49M294.06 788.52h1.49M317.96 788.52h1.49M273.15 789.84h1.49M279.12 789.84h2.99M301.53 789.84h1.49M320.95 789.84h1.49M326.92 789.84h1.49M329.91 789.84h1.49M289.58 791.15h1.49M294.06 791.15h1.49M297.05 791.15h1.49M301.53 791.15h1.49M304.52 791.15h1.49M262.69 792.48h1.49M276.14 792.48h1.49M279.12 792.48h1.49M294.06 792.48h1.49M306.01 792.48h1.49M317.96 792.48h1.49M285.1 793.8h2.99M289.58 793.8h1.49M294.06 793.8h1.49M313.48 793.8h1.49M316.47 793.8h1.49M320.95 793.8h1.49M325.43 793.8h1.49" stroke="#e7e7f9" stroke-width="1.35" fill="none"/>
<path d="M282.11 787.2h1.49M306.01 787.2h1.49M304.52 789.84h1.49M323.94 789.84h1.49M286.59 792.48h1.49M300.04 792.48h1.49M325.43 792.48h1.49M329.91 792.48h1.49M322.44 793.8h1.49" stroke="#fce4e5" stroke-width="1.35" fill="none"/>
<path d="M317.96 787.2h1.49M282.11 789.84h1.49M298.54 792.48h1.49M283.61 793.8h1.49" stroke="#ed6669" stroke-width="1.35" fill="none"/>
<path d="M261.2 798.95h1.49M265.68 798.95h1.49M270.16 798.95h1.49" stroke="#e7e7f9" stroke-width="2.1" fill="none"/>
<path d="M262.69 798.95h2.99M267.18 798.95h1.49M279.12 798.95h1.49M285.1 798.95h1.49M291.07 798.95h1.49M297.05 798.95h1.49M307.51 798.95h2.99M322.44 798.95h1.49M329.91 798.95h1.49" stroke="#c8c8f0" stroke-width="2.1" fill="none"/>
<path d="M268.67 798.95h1.49M273.15 798.95h1.49M276.14 798.95h2.99M286.59 798.95h2.99M292.57 798.95h1.49M295.56 798.95h1.49M301.53 798.95h1.49M311.99 798.95h5.97M319.46 798.95h2.99M325.43 798.95h1.49" stroke="#a3a3e6" stroke-width="2.1" fill="none"/>
<path d="M271.66 798.95h1.49M274.64 798.95h1.49M283.61 798.95h1.49M298.54 798.95h1.49M317.96 798.95h1.49M326.92 798.95h2.99M331.41 798.95h1.49" stroke="#7575da" stroke-width="2.1" fill="none"/>
<path d="M282.11 798.95h1.49M323.94 798.95h1.49" stroke="#f3999b" stroke-width="2.1" fill="none"/>
<path d="M289.58 798.95h1.49M300.04 798.95h1.49" stroke="#fce4e5" stroke-width="2.1" fill="none"/>
<path d="M303.02 798.95h1.49" stroke="#4646cd" stroke-width="2.1" fill="none"/>
<path d="M304.52 798.95h1.49" stroke="#f8c2c3" stroke-width="2.1" fill="none"/>
<path d="M261.2 803.45h1.49M289.58 803.45h1.49M298.54 803.45h4.48M323.94 803.45h2.99M328.42 803.45h1.49M273.15 804.93h1.49M277.63 804.93h1.49M291.07 804.93h1.49M295.56 804.93h1.49M309 804.93h1.49M319.46 804.93h1.49M326.92 804.93h1.49M261.2 806.41h1.49M267.18 806.41h1.49M279.12 806.41h1.49M286.59 806.41h4.48M301.53 806.41h1.49M326.92 806.41h1.49M262.69 807.89h2.99M276.14 807.89h1.49M279.12 807.89h1.49M300.04 807.89h1.49M306.01 807.89h1.49M265.68 809.37h1.49M268.67 809.37h1.49M273.15 809.37h2.99M286.59 809.37h1.49M295.56 809.37h1.49M303.02 809.37h1.49M309 809.37h1.49M313.48 809.37h1.49M317.96 809.37h1.49M320.95 809.37h1.49M328.42 809.37h1.49M273.15 810.84h1.49M283.61 810.84h1.49M298.54 810.84h1.49M304.52 810.84h1.49M307.51 810.84h1.49M313.48 810.84h1.49M317.96 810.84h1.49M265.68 812.32h1.49M268.67 812.32h2.99M273.15 812.32h1.49M311.99 812.32h2.99M320.95 812.32h1.49M328.42 812.32h1.49M268.67 813.8h1.49M286.59 813.8h2.99M297.05 813.8h1.49M301.53 813.8h1.49M304.52 813.8h1.49M307.51 813.8h1.49M325.43 813.8h1.49M329.91 813.8h1.49M267.18 815.28h1.49M270.16 815.28h1.49M273.15 815.28h1.49M285.1 815.28h1.49M304.52 815.28h1.49M311.99 815.28h1.49M325.43 815.28h2.99M262.69 816.76h2.99M267.18 816.76h2.99M276.14 816.76h2.99M285.1 816.76h1.49M291.07 816.76h1.49M298.54 816.76h1.49M306.01 816.76h2.99M317.96 816.76h1.49M322.44 816.76h2.99M329.91 816.76h1.49M267.18 818.23h1.49M294.06 818.23h1.49M300.04 818.23h1.49M310.49 818.23h1.49M316.47 818.23h1.49M322.44 818.23h2.99M270.16 819.71h1.49M301.53 819.71h1.49M306.01 819.71h1.49M323.94 819.71h1.49M328.42 819.71h2.99M280.62 821.19h2.99M286.59 821.19h1.49M297.05 821.19h1.49M301.53 821.19h1.49M307.51 821.19h1.49M313.48 821.19h1.49M328.42 821.19h2.99M276.14 822.67h2.99M304.52 822.67h1.49M309 822.67h1.49M313.48 822.67h1.49M317.96 822.67h2.99M261.2 824.15h1.49M270.16 824.15h1.49M280.62 824.15h1.49M304.52 824.15h2.99M317.96 824.15h1.49M328.42 824.15h2.99M261.2 825.62h2.99M291.07 825.62h1.49M294.06 825.62h1.49M306.01 825.62h1.49M314.97 825.62h4.48M323.94 825.62h1.49M268.67 827.1h1.49M273.15 827.1h1.49M280.62 827.1h1.49M285.1 827.1h1.49M289.58 827.1h2.99M297.05 827.1h1.49M304.52 827.1h1.49M313.48 827.1h1.49M316.47 827.1h1.49M320.95 827.1h1.49M329.91 827.1h1.49M262.69 828.58h1.49M267.18 828.58h1.49M270.16 828.58h1.49M273.15 828.58h1.49M280.62 828.58h1.49M298.54 828.58h1.49M301.53 828.58h1.49M310.49 828.58h1.49M317.96 828.58h2.99M323.94 828.58h1.49M329.91 828.58h1.49M264.19 830.06h1.49M291.07 830.06h1.49M297.05 830.06h1.49M301.53 830.06h1.49M304.52 830.06h2.99M323.94 830.06h1.49M328.42 830.06h2.99M268.67 831.54h2.99M276.14 831.54h1.49M288.09 831.54h1.49M298.54 831.54h2.99M329.91 831.54h2.99M265.68 833.01h2.99M274.64 833.01h1.49M291.07 833.01h1.49M295.56 833.01h1.49M298.54 833.01h1.49M306.01 833.01h1.49M320.95 833.01h1.49M323.94 833.01h1.49M328.42 833.01h1.49M261.2 834.49h2.99M267.18 834.49h2.99M273.15 834.49h1.49M280.62 834.49h1.49M285.1 834.49h1.49M288.09 834.49h2.99M301.53 834.49h1.49M311.99 834.49h2.99M326.92 834.49h1.49M261.2 835.97h1.49M267.18 835.97h2.99M277.63 835.97h1.49M289.58 835.97h1.49M300.04 835.97h1.49M313.48 835.97h1.49M323.94 835.97h1.49M328.42 835.97h1.49M261.2 837.45h1.49M267.18 837.45h1.49M273.15 837.45h1.49M286.59 837.45h1.49M292.57 837.45h1.49M320.95 837.45h1.49M323.94 837.45h1.49M329.91 837.45h1.49M273.15 838.93h1.49M277.63 838.93h2.99M286.59 838.93h1.49M289.58 838.93h4.48M297.05 838.93h1.49M300.04 838.93h1.49M322.44 838.93h2.99M328.42 838.93h1.49M268.67 840.4h2.99M276.14 840.4h1.49M285.1 840.4h1.49M288.09 840.4h1.49M297.05 840.4h1.49M301.53 840.4h1.49M309 840.4h2.99M316.47 840.4h2.99M320.95 840.4h1.49M323.94 840.4h4.48M276.14 841.88h1.49M283.61 841.88h1.49M286.59 841.88h1.49M291.07 841.88h1.49M298.54 841.88h1.49M301.53 841.88h1.49M304.52 841.88h2.99M313.48 841.88h1.49M317.96 841.88h1.49M323.94 841.88h2.99M328.42 841.88h2.99M274.64 843.36h1.49M288.09 843.36h2.99M298.54 843.36h1.49M303.02 843.36h1.49M261.2 844.84h1.49M265.68 844.84h1.49M270.16 844.84h1.49M283.61 844.84h2.99M289.58 844.84h2.99M297.05 844.84h1.49M304.52 844.84h1.49M309 844.84h1.49M328.42 844.84h1.49M268.67 846.32h1.49M276.14 846.32h1.49M279.12 846.32h1.49M286.59 846.32h1.49M289.58 846.32h1.49M307.51 846.32h1.49M313.48 846.32h1.49M320.95 846.32h1.49M329.91 846.32h1.49M268.67 847.79h1.49M276.14 847.79h4.48M298.54 847.79h1.49M304.52 847.79h1.49M307.51 847.79h1.49M313.48 847.79h1.49M270.16 849.27h1.49M273.15 849.27h1.49M285.1 849.27h1.49M288.09 849.27h2.99M297.05 849.27h2.99M304.52 849.27h2.99M314.97 849.27h1.49M329.91 849.27h1.49M270.16 850.75h1.49M277.63 850.75h1.49M280.62 850.75h1.49M300.04 850.75h1.49M306.01 850.75h1.49M314.97 850.75h2.99M325.43 850.75h1.49M261.2 852.23h1.49M264.19 852.23h4.48M283.61 852.23h1.49M298.54 852.23h1.49M316.47 852.23h2.99M323.94 852.23h1.49M267.18 853.71h1.49M270.16 853.71h1.49M295.56 853.71h1.49M309 853.71h1.49M328.42 853.71h1.49M265.68 855.18h1.49M280.62 855.18h1.49M297.05 855.18h1.49M320.95 855.18h1.49M328.42 855.18h1.49M261.2 856.66h1.49M264.19 856.66h1.49M268.67 856.66h1.49M276.14 856.66h2.99M300.04 856.66h2.99M310.49 856.66h1.49M320.95 856.66h2.99M329.91 856.66h1.49M261.2 858.14h1.49M268.67 858.14h1.49M289.58 858.14h1.49M304.52 858.14h2.99M316.47 858.14h1.49M329.91 858.14h1.49M264.19 859.62h2.99M271.66 859.62h1.49M285.1 859.62h1.49M289.58 859.62h1.49M298.54 859.62h2.99M306.01 859.62h1.49M311.99 859.62h1.49M329.91 859.62h2.99M261.2 861.1h2.99M282.11 861.1h1.49M289.58 861.1h1.49M300.04 861.1h1.49M316.47 861.1h1.49" stroke="#c8c8f0" stroke-width="1.51" fill="none"/>
<path d="M262.69 803.45h2.99M267.18 803.45h1.49M276.14 803.45h1.49M285.1 803.45h1.49M316.47 803.45h1.49M268.67 804.93h2.99M288.09 804.93h1.49M292.57 804.93h1.49M311.99 804.93h2.99M317.96 804.93h1.49M322.44 804.93h1.49M329.91 804.93h1.49M262.69 806.41h1.49M268.67 806.41h1.49M277.63 806.41h1.49M304.52 806.41h2.99M323.94 806.41h2.99M282.11 807.89h1.49M291.07 807.89h1.49M310.49 807.89h1.49M316.47 807.89h1.49M325.43 807.89h1.49M261.2 809.37h1.49M267.18 809.37h1.49M276.14 809.37h1.49M280.62 809.37h1.49M285.1 809.37h1.49M291.07 809.37h1.49M297.05 809.37h1.49M300.04 809.37h1.49M307.51 809.37h1.49M331.41 809.37h1.49M261.2 810.84h1.49M288.09 810.84h2.99M306.01 810.84h1.49M314.97 810.84h1.49M319.46 810.84h1.49M326.92 810.84h2.99M276.14 812.32h2.99M289.58 812.32h2.99M294.06 812.32h1.49M297.05 812.32h1.49M300.04 812.32h1.49M264.19 813.8h1.49M280.62 813.8h1.49M316.47 813.8h1.49M322.44 813.8h2.99M261.2 815.28h1.49M292.57 815.28h1.49M306.01 815.28h1.49M286.59 816.76h1.49M297.05 816.76h1.49M311.99 816.76h2.99M316.47 816.76h1.49M320.95 816.76h1.49M276.14 819.71h1.49M279.12 819.71h1.49M289.58 819.71h1.49M294.06 819.71h1.49M298.54 819.71h1.49M320.95 819.71h1.49M262.69 821.19h4.48M276.14 821.19h2.99M289.58 821.19h1.49M300.04 821.19h1.49M306.01 821.19h1.49M274.64 822.67h1.49M283.61 822.67h1.49M286.59 822.67h4.48M300.04 822.67h2.99M311.99 822.67h1.49M316.47 822.67h1.49M320.95 822.67h1.49M323.94 822.67h4.48M331.41 822.67h1.49M267.18 824.15h1.49M276.14 824.15h2.99M291.07 824.15h1.49M294.06 824.15h1.49M297.05 824.15h1.49M307.51 824.15h1.49M313.48 824.15h1.49M325.43 824.15h1.49M265.68 825.62h1.49M286.59 825.62h1.49M289.58 825.62h1.49M297.05 825.62h2.99M301.53 825.62h1.49M320.95 825.62h1.49M264.19 827.1h1.49M276.14 827.1h2.99M288.09 827.1h1.49M294.06 827.1h1.49M314.97 827.1h1.49M317.96 827.1h1.49M322.44 827.1h1.49M261.2 828.58h1.49M268.67 828.58h1.49M277.63 828.58h1.49M283.61 828.58h1.49M291.07 828.58h2.99M306.01 828.58h1.49M325.43 828.58h1.49M294.06 830.06h1.49M310.49 830.06h1.49M322.44 830.06h1.49M326.92 830.06h1.49M264.19 831.54h1.49M274.64 831.54h1.49M277.63 831.54h1.49M280.62 831.54h1.49M291.07 831.54h1.49M316.47 831.54h1.49M322.44 831.54h1.49M261.2 833.01h1.49M273.15 833.01h1.49M286.59 833.01h1.49M301.53 833.01h1.49M307.51 833.01h1.49M326.92 833.01h1.49M277.63 834.49h1.49M291.07 834.49h1.49M294.06 834.49h1.49M297.05 834.49h1.49M309 834.49h1.49M319.46 834.49h1.49M323.94 834.49h1.49M329.91 834.49h1.49M270.16 835.97h1.49M279.12 835.97h2.99M304.52 835.97h2.99M326.92 835.97h1.49M264.19 837.45h1.49M276.14 837.45h1.49M285.1 837.45h1.49M298.54 837.45h2.99M313.48 837.45h1.49M328.42 837.45h1.49M285.1 838.93h1.49M288.09 838.93h1.49M301.53 838.93h1.49M313.48 838.93h1.49M325.43 838.93h1.49M329.91 838.93h1.49M261.2 840.4h1.49M264.19 840.4h1.49M279.12 840.4h1.49M289.58 840.4h1.49M294.06 840.4h1.49M306.01 840.4h2.99M264.19 841.88h1.49M267.18 841.88h1.49M270.16 841.88h1.49M285.1 841.88h1.49M289.58 841.88h1.49M314.97 841.88h1.49M320.95 841.88h1.49M265.68 843.36h1.49M270.16 843.36h1.49M313.48 843.36h1.49M325.43 843.36h1.49M328.42 843.36h1.49M331.41 843.36h1.49M276.14 844.84h1.49M280.62 844.84h1.49M301.53 844.84h1.49M306.01 844.84h1.49M313.48 844.84h2.99M317.96 844.84h1.49M323.94 844.84h1.49M331.41 844.84h1.49M262.69 846.32h2.99M267.18 846.32h1.49M277.63 846.32h1.49M285.1 846.32h1.49M294.06 846.32h1.49M316.47 846.32h1.49M322.44 846.32h4.48M264.19 847.79h1.49M283.61 847.79h1.49M294.06 847.79h1.49M300.04 847.79h2.99M306.01 847.79h1.49M322.44 847.79h1.49M261.2 849.27h1.49M264.19 849.27h1.49M276.14 849.27h1.49M280.62 849.27h1.49M286.59 849.27h1.49M300.04 849.27h1.49M316.47 849.27h1.49M325.43 849.27h1.49M328.42 849.27h1.49M267.18 850.75h1.49M298.54 850.75h1.49M304.52 850.75h1.49M328.42 850.75h2.99M262.69 852.23h1.49M270.16 852.23h1.49M291.07 852.23h4.48M300.04 852.23h1.49M306.01 852.23h2.99M313.48 852.23h2.99M325.43 852.23h1.49M264.19 853.71h1.49M273.15 853.71h1.49M280.62 853.71h1.49M285.1 853.71h1.49M294.06 853.71h1.49M298.54 853.71h1.49M301.53 853.71h1.49M331.41 853.71h1.49M268.67 855.18h1.49M285.1 855.18h1.49M301.53 855.18h1.49M304.52 855.18h1.49M325.43 855.18h1.49M329.91 855.18h1.49M294.06 856.66h1.49M316.47 856.66h1.49M267.18 858.14h1.49M276.14 858.14h1.49M279.12 858.14h1.49M286.59 858.14h1.49M301.53 858.14h1.49M262.69 859.62h1.49M267.18 859.62h1.49M270.16 859.62h1.49M276.14 859.62h1.49M292.57 859.62h2.99M301.53 859.62h1.49M316.47 859.62h1.49M322.44 859.62h4.48M297.05 861.1h1.49M307.51 861.1h1.49M323.94 861.1h2.99" stroke="#e7e7f9" stroke-width="1.51" fill="none"/>
<path d="M265.68 803.45h1.49M268.67 803.45h1.49M288.09 803.45h1.49M291.07 803.45h2.99M295.56 803.45h1.49M303.02 803.45h2.99M309 803.45h1.49M314.97 803.45h1.49M317.96 803.45h1.49M331.41 803.45h1.49M270.16 806.41h4.48M303.02 806.41h1.49M309 806.41h1.49M313.48 806.41h1.49M320.95 806.41h1.49M329.91 806.41h1.49M265.68 807.89h1.49M268.67 807.89h1.49M271.66 807.89h2.99M283.61 807.89h5.97M307.51 807.89h1.49M323.94 807.89h1.49M326.92 807.89h2.99M271.66 809.37h1.49M292.57 809.37h1.49M314.97 809.37h1.49M271.66 810.84h1.49M274.64 810.84h1.49M303.02 810.84h1.49M311.99 810.84h1.49M261.2 812.32h1.49M267.18 812.32h1.49M283.61 812.32h1.49M292.57 812.32h1.49M298.54 812.32h1.49M309 812.32h1.49M314.97 812.32h1.49M326.92 812.32h1.49M267.18 813.8h1.49M270.16 813.8h4.48M291.07 813.8h1.49M295.56 813.8h1.49M303.02 813.8h1.49M306.01 813.8h1.49M319.46 813.8h2.99M271.66 815.28h1.49M291.07 815.28h1.49M309 815.28h1.49M331.41 815.28h1.49M265.68 816.76h1.49M319.46 816.76h1.49M331.41 816.76h1.49M261.2 818.23h1.49M264.19 818.23h1.49M268.67 818.23h1.49M273.15 818.23h1.49M277.63 818.23h2.99M289.58 818.23h1.49M304.52 818.23h4.48M313.48 818.23h1.49M329.91 818.23h1.49M261.2 819.71h1.49M291.07 819.71h2.99M307.51 819.71h2.99M319.46 819.71h1.49M326.92 819.71h1.49M331.41 819.71h1.49M268.67 821.19h2.99M274.64 821.19h1.49M279.12 821.19h1.49M292.57 821.19h1.49M295.56 821.19h1.49M303.02 821.19h1.49M317.96 821.19h1.49M320.95 821.19h1.49M323.94 821.19h2.99M331.41 821.19h1.49M271.66 822.67h1.49M295.56 822.67h1.49M303.02 822.67h1.49M271.66 824.15h1.49M292.57 824.15h1.49M295.56 824.15h1.49M314.97 824.15h1.49M267.18 825.62h2.99M274.64 825.62h1.49M283.61 825.62h1.49M288.09 825.62h1.49M292.57 825.62h1.49M295.56 825.62h1.49M311.99 825.62h1.49M319.46 825.62h1.49M331.41 825.62h1.49M261.2 827.1h1.49M267.18 827.1h1.49M270.16 827.1h1.49M286.59 827.1h1.49M292.57 827.1h1.49M295.56 827.1h1.49M303.02 827.1h1.49M328.42 827.1h1.49M265.68 828.58h1.49M271.66 828.58h1.49M303.02 828.58h1.49M309 828.58h1.49M262.69 830.06h1.49M265.68 830.06h2.99M270.16 830.06h1.49M276.14 830.06h1.49M280.62 830.06h1.49M285.1 830.06h1.49M288.09 830.06h1.49M292.57 830.06h1.49M298.54 830.06h1.49M307.51 830.06h1.49M314.97 830.06h1.49M331.41 830.06h1.49M261.2 831.54h1.49M297.05 831.54h1.49M307.51 831.54h1.49M311.99 831.54h1.49M314.97 831.54h1.49M323.94 831.54h1.49M326.92 831.54h2.99M283.61 834.49h1.49M303.02 834.49h1.49M314.97 834.49h1.49M283.61 835.97h2.99M288.09 835.97h1.49M291.07 835.97h2.99M303.02 835.97h1.49M309 835.97h1.49M314.97 835.97h1.49M319.46 835.97h2.99M265.68 837.45h1.49M271.66 837.45h1.49M288.09 837.45h1.49M303.02 837.45h1.49M309 837.45h1.49M325.43 837.45h1.49M331.41 837.45h1.49M261.2 838.93h1.49M298.54 838.93h1.49M303.02 838.93h1.49M319.46 838.93h1.49M271.66 840.4h1.49M277.63 840.4h1.49M283.61 840.4h1.49M286.59 840.4h1.49M298.54 840.4h1.49M303.02 840.4h1.49M311.99 840.4h1.49M331.41 840.4h1.49M265.68 841.88h1.49M268.67 841.88h1.49M274.64 841.88h1.49M280.62 841.88h1.49M292.57 841.88h1.49M295.56 841.88h2.99M300.04 841.88h1.49M311.99 841.88h1.49M326.92 841.88h1.49M271.66 843.36h2.99M295.56 843.36h1.49M304.52 843.36h1.49M307.51 843.36h2.99M311.99 843.36h1.49M314.97 843.36h1.49M323.94 843.36h1.49M295.56 844.84h1.49M303.02 844.84h1.49M307.51 844.84h1.49M326.92 844.84h1.49M270.16 846.32h1.49M283.61 846.32h1.49M292.57 846.32h1.49M317.96 846.32h2.99M326.92 846.32h1.49M274.64 847.79h1.49M297.05 847.79h1.49M309 847.79h1.49M319.46 847.79h2.99M325.43 847.79h2.99M331.41 847.79h1.49M267.18 849.27h1.49M311.99 849.27h2.99M319.46 849.27h1.49M323.94 849.27h1.49M261.2 850.75h2.99M265.68 850.75h1.49M268.67 850.75h1.49M274.64 850.75h1.49M283.61 850.75h1.49M286.59 850.75h1.49M317.96 850.75h4.48M326.92 850.75h1.49M297.05 852.23h1.49M311.99 852.23h1.49M319.46 852.23h2.99M326.92 852.23h1.49M292.57 853.71h1.49M297.05 853.71h1.49M307.51 853.71h1.49M311.99 853.71h1.49M317.96 853.71h1.49M270.16 855.18h1.49M273.15 855.18h1.49M283.61 855.18h1.49M295.56 855.18h1.49M303.02 855.18h1.49M307.51 855.18h2.99M313.48 855.18h1.49M317.96 855.18h1.49M326.92 855.18h1.49M331.41 855.18h1.49M270.16 856.66h1.49M283.61 856.66h1.49M288.09 856.66h1.49M291.07 856.66h1.49M295.56 856.66h1.49M298.54 856.66h1.49M304.52 856.66h1.49M314.97 856.66h1.49M323.94 856.66h2.99M328.42 856.66h1.49M262.69 858.14h1.49M273.15 858.14h2.99M280.62 858.14h1.49M283.61 858.14h1.49M291.07 858.14h2.99M297.05 858.14h1.49M309 858.14h1.49M313.48 858.14h2.99M319.46 858.14h1.49M268.67 859.62h1.49M273.15 859.62h2.99M291.07 859.62h1.49M303.02 859.62h1.49M309 859.62h1.49M265.68 861.1h2.99M274.64 861.1h1.49M279.12 861.1h1.49M288.09 861.1h1.49M292.57 861.1h1.49M298.54 861.1h1.49M311.99 861.1h1.49M314.97 861.1h1.49M319.46 861.1h1.49M331.41 861.1h1.49" stroke="#7575da" stroke-width="1.51" fill="none"/>
<path d="M270.16 803.45h1.49M277.63 803.45h1.49M286.59 803.45h1.49M297.05 803.45h1.49M306.01 803.45h1.49M311.99 803.45h2.99M329.91 803.45h1.49M261.2 804.93h1.49M282.11 804.93h2.99M303.02 804.93h1.49M328.42 804.93h1.49M331.41 804.93h1.49M276.14 806.41h1.49M280.62 806.41h1.49M291.07 806.41h2.99M300.04 806.41h1.49M307.51 806.41h1.49M317.96 806.41h1.49M322.44 806.41h1.49M328.42 806.41h1.49M267.18 807.89h1.49M274.64 807.89h1.49M277.63 807.89h1.49M280.62 807.89h1.49M289.58 807.89h1.49M294.06 807.89h1.49M297.05 807.89h2.99M301.53 807.89h1.49M304.52 807.89h1.49M313.48 807.89h1.49M320.95 807.89h2.99M277.63 809.37h1.49M289.58 809.37h1.49M311.99 809.37h1.49M319.46 809.37h1.49M326.92 809.37h1.49M276.14 810.84h1.49M286.59 810.84h1.49M292.57 810.84h1.49M309 810.84h1.49M331.41 810.84h1.49M262.69 812.32h1.49M271.66 812.32h1.49M274.64 812.32h1.49M286.59 812.32h2.99M295.56 812.32h1.49M303.02 812.32h1.49M307.51 812.32h1.49M319.46 812.32h1.49M325.43 812.32h1.49M261.2 813.8h2.99M277.63 813.8h1.49M283.61 813.8h2.99M298.54 813.8h1.49M313.48 813.8h2.99M317.96 813.8h1.49M328.42 813.8h1.49M331.41 813.8h1.49M265.68 815.28h1.49M274.64 815.28h4.48M283.61 815.28h1.49M286.59 815.28h4.48M295.56 815.28h1.49M298.54 815.28h1.49M303.02 815.28h1.49M313.48 815.28h2.99M317.96 815.28h1.49M320.95 815.28h1.49M323.94 815.28h1.49M328.42 815.28h1.49M261.2 816.76h1.49M270.16 816.76h1.49M273.15 816.76h2.99M283.61 816.76h1.49M288.09 816.76h1.49M292.57 816.76h1.49M295.56 816.76h1.49M303.02 816.76h1.49M309 816.76h1.49M314.97 816.76h1.49M325.43 816.76h2.99M280.62 818.23h1.49M286.59 818.23h1.49M291.07 818.23h1.49M297.05 818.23h1.49M301.53 818.23h1.49M320.95 818.23h1.49M326.92 818.23h1.49M331.41 818.23h1.49M262.69 819.71h1.49M267.18 819.71h2.99M274.64 819.71h1.49M277.63 819.71h1.49M285.1 819.71h2.99M297.05 819.71h1.49M311.99 819.71h1.49M316.47 819.71h1.49M261.2 821.19h1.49M267.18 821.19h1.49M271.66 821.19h2.99M288.09 821.19h1.49M291.07 821.19h1.49M304.52 821.19h1.49M322.44 821.19h1.49M326.92 821.19h1.49M261.2 822.67h2.99M265.68 822.67h1.49M273.15 822.67h1.49M292.57 822.67h1.49M298.54 822.67h1.49M328.42 822.67h1.49M273.15 824.15h2.99M283.61 824.15h1.49M288.09 824.15h2.99M298.54 824.15h1.49M301.53 824.15h1.49M316.47 824.15h1.49M320.95 824.15h2.99M326.92 824.15h1.49M331.41 824.15h1.49M271.66 825.62h2.99M277.63 825.62h1.49M280.62 825.62h1.49M285.1 825.62h1.49M303.02 825.62h1.49M307.51 825.62h1.49M325.43 825.62h5.97M262.69 827.1h1.49M265.68 827.1h1.49M271.66 827.1h1.49M282.11 827.1h2.99M298.54 827.1h1.49M306.01 827.1h4.48M311.99 827.1h1.49M325.43 827.1h1.49M276.14 828.58h1.49M285.1 828.58h1.49M288.09 828.58h1.49M295.56 828.58h1.49M307.51 828.58h1.49M311.99 828.58h4.48M331.41 828.58h1.49M261.2 830.06h1.49M268.67 830.06h1.49M273.15 830.06h1.49M277.63 830.06h2.99M289.58 830.06h1.49M313.48 830.06h1.49M316.47 830.06h2.99M320.95 830.06h1.49M325.43 830.06h1.49M262.69 831.54h1.49M265.68 831.54h1.49M279.12 831.54h1.49M285.1 831.54h1.49M289.58 831.54h1.49M303.02 831.54h4.48M313.48 831.54h1.49M317.96 831.54h1.49M320.95 831.54h1.49M325.43 831.54h1.49M268.67 833.01h1.49M271.66 833.01h1.49M283.61 833.01h1.49M297.05 833.01h1.49M309 833.01h1.49M311.99 833.01h1.49M319.46 833.01h1.49M331.41 833.01h1.49M265.68 834.49h1.49M270.16 834.49h2.99M274.64 834.49h1.49M292.57 834.49h1.49M295.56 834.49h1.49M298.54 834.49h1.49M306.01 834.49h2.99M328.42 834.49h1.49M265.68 835.97h1.49M273.15 835.97h4.48M286.59 835.97h1.49M297.05 835.97h2.99M316.47 835.97h1.49M325.43 835.97h1.49M331.41 835.97h1.49M262.69 837.45h1.49M268.67 837.45h1.49M274.64 837.45h1.49M277.63 837.45h1.49M283.61 837.45h1.49M291.07 837.45h1.49M297.05 837.45h1.49M304.52 837.45h1.49M311.99 837.45h1.49M314.97 837.45h1.49M319.46 837.45h1.49M326.92 837.45h1.49M262.69 838.93h1.49M265.68 838.93h4.48M274.64 838.93h2.99M283.61 838.93h1.49M306.01 838.93h4.48M314.97 838.93h1.49M317.96 838.93h1.49M331.41 838.93h1.49M262.69 840.4h1.49M265.68 840.4h2.99M273.15 840.4h2.99M291.07 840.4h2.99M295.56 840.4h1.49M313.48 840.4h2.99M329.91 840.4h1.49M271.66 841.88h2.99M288.09 841.88h1.49M303.02 841.88h1.49M309 841.88h1.49M316.47 841.88h1.49M331.41 841.88h1.49M283.61 843.36h1.49M292.57 843.36h1.49M317.96 843.36h2.99M326.92 843.36h1.49M329.91 843.36h1.49M267.18 844.84h2.99M271.66 844.84h4.48M288.09 844.84h1.49M292.57 844.84h1.49M298.54 844.84h1.49M311.99 844.84h1.49M319.46 844.84h4.48M329.91 844.84h1.49M261.2 846.32h1.49M265.68 846.32h1.49M271.66 846.32h1.49M280.62 846.32h1.49M291.07 846.32h1.49M295.56 846.32h1.49M298.54 846.32h1.49M301.53 846.32h2.99M306.01 846.32h1.49M328.42 846.32h1.49M331.41 846.32h1.49M262.69 847.79h1.49M265.68 847.79h2.99M271.66 847.79h2.99M280.62 847.79h1.49M286.59 847.79h2.99M291.07 847.79h2.99M317.96 847.79h1.49M323.94 847.79h1.49M265.68 849.27h1.49M268.67 849.27h1.49M274.64 849.27h1.49M279.12 849.27h1.49M283.61 849.27h1.49M291.07 849.27h2.99M303.02 849.27h1.49M309 849.27h1.49M317.96 849.27h1.49M320.95 849.27h1.49M331.41 849.27h1.49M271.66 850.75h2.99M276.14 850.75h1.49M285.1 850.75h1.49M288.09 850.75h4.48M297.05 850.75h1.49M307.51 850.75h1.49M271.66 852.23h5.97M288.09 852.23h2.99M331.41 852.23h1.49M268.67 853.71h1.49M271.66 853.71h1.49M274.64 853.71h1.49M283.61 853.71h1.49M286.59 853.71h1.49M289.58 853.71h1.49M303.02 853.71h1.49M323.94 853.71h2.99M261.2 855.18h2.99M267.18 855.18h1.49M271.66 855.18h1.49M274.64 855.18h1.49M286.59 855.18h5.97M298.54 855.18h1.49M311.99 855.18h1.49M316.47 855.18h1.49M319.46 855.18h1.49M262.69 856.66h1.49M271.66 856.66h2.99M279.12 856.66h2.99M286.59 856.66h1.49M306.01 856.66h2.99M317.96 856.66h1.49M326.92 856.66h1.49M331.41 856.66h1.49M265.68 858.14h1.49M270.16 858.14h1.49M285.1 858.14h1.49M295.56 858.14h1.49M298.54 858.14h1.49M307.51 858.14h1.49M317.96 858.14h1.49M325.43 858.14h4.48M331.41 858.14h1.49M261.2 859.62h1.49M279.12 859.62h1.49M283.61 859.62h1.49M286.59 859.62h2.99M297.05 859.62h1.49M307.51 859.62h1.49M314.97 859.62h1.49M317.96 859.62h1.49M320.95 859.62h1.49M326.92 859.62h2.99M268.67 861.1h2.99M273.15 861.1h1.49M276.14 861.1h2.99M280.62 861.1h1.49M283.61 861.1h1.49M286.59 861.1h1.49M291.07 861.1h1.49M295.56 861.1h1.49M301.53 861.1h1.49M304.52 861.1h2.99M313.48 861.1h1.49M317.96 861.1h1.49M320.95 861.1h2.99M328.42 861.1h2.99" stroke="#a3a3e6" stroke-width="1.51" fill="none"/>
<path d="M271.66 803.45h4.48M283.61 803.45h1.49M307.51 803.45h1.49M320.95 803.45h1.49M271.66 804.93h1.49M265.68 806.41h1.49M283.61 806.41h1.49M311.99 806.41h1.49M319.46 806.41h1.49M331.41 806.41h1.49M270.16 807.89h1.49M292.57 807.89h1.49M295.56 807.89h1.49M303.02 807.89h1.49M309 807.89h1.49M311.99 807.89h1.49M314.97 807.89h1.49M317.96 807.89h2.99M331.41 807.89h1.49M283.61 809.37h1.49M288.09 809.37h1.49M265.68 813.8h1.49M274.64 813.8h1.49M292.57 813.8h1.49M309 813.8h1.49M311.99 813.8h1.49M326.92 813.8h1.49M268.67 815.28h1.49M319.46 815.28h1.49M271.66 816.76h1.49M262.69 818.23h1.49M265.68 818.23h1.49M270.16 818.23h2.99M274.64 818.23h1.49M283.61 818.23h2.99M288.09 818.23h1.49M292.57 818.23h1.49M295.56 818.23h1.49M298.54 818.23h1.49M303.02 818.23h1.49M309 818.23h1.49M311.99 818.23h1.49M314.97 818.23h1.49M317.96 818.23h2.99M325.43 818.23h1.49M328.42 818.23h1.49M265.68 819.71h1.49M271.66 819.71h2.99M283.61 819.71h1.49M288.09 819.71h1.49M295.56 819.71h1.49M303.02 819.71h1.49M314.97 819.71h1.49M283.61 821.19h1.49M298.54 821.19h1.49M309 821.19h1.49M311.99 821.19h1.49M314.97 821.19h1.49M319.46 821.19h1.49M265.68 824.15h1.49M286.59 824.15h1.49M303.02 824.15h1.49M309 824.15h1.49M309 825.62h1.49M274.64 827.1h1.49M319.46 827.1h1.49M326.92 827.1h1.49M274.64 830.06h1.49M283.61 830.06h1.49M286.59 830.06h1.49M295.56 830.06h1.49M303.02 830.06h1.49M309 830.06h1.49M311.99 830.06h1.49M267.18 831.54h1.49M271.66 831.54h2.99M283.61 831.54h1.49M286.59 831.54h1.49M292.57 831.54h1.49M295.56 831.54h1.49M309 831.54h1.49M319.46 831.54h1.49M303.02 833.01h1.49M331.41 834.49h1.49M271.66 835.97h1.49M295.56 835.97h1.49M311.99 835.97h1.49M289.58 837.45h1.49M295.56 837.45h1.49M295.56 838.93h1.49M311.99 838.93h1.49M326.92 838.93h1.49M319.46 840.4h1.49M261.2 841.88h2.99M319.46 841.88h1.49M273.15 846.32h2.99M288.09 846.32h1.49M297.05 846.32h1.49M309 846.32h1.49M311.99 846.32h1.49M314.97 846.32h1.49M295.56 847.79h1.49M303.02 847.79h1.49M311.99 847.79h1.49M295.56 849.27h1.49M292.57 850.75h1.49M295.56 850.75h1.49M309 850.75h1.49M311.99 850.75h2.99M331.41 850.75h1.49M295.56 852.23h1.49M309 852.23h1.49M314.97 853.71h1.49M319.46 853.71h1.49M326.92 853.71h1.49M265.68 856.66h2.99M274.64 856.66h1.49M285.1 856.66h1.49M292.57 856.66h1.49M297.05 856.66h1.49M309 856.66h1.49M311.99 856.66h1.49M319.46 856.66h1.49M271.66 858.14h1.49M288.09 858.14h1.49M303.02 858.14h1.49M311.99 858.14h1.49M320.95 858.14h1.49M295.56 859.62h1.49M319.46 859.62h1.49M271.66 861.1h1.49M303.02 861.1h1.49M309 861.1h1.49M326.92 861.1h1.49" stroke="#4646cd" stroke-width="1.51" fill="none"/>
<path d="M280.62 803.45h1.49M295.56 806.41h1.49M276.14 818.23h1.49M311.99 824.15h1.49M271.66 830.06h1.49M319.46 830.06h1.49M303.02 850.75h1.49M265.68 853.71h1.49M303.02 856.66h1.49" stroke="#e63236" stroke-width="1.51" fill="none"/>
<path d="M282.11 803.45h1.49M322.44 803.45h1.49M310.49 804.93h1.49M325.43 804.93h1.49M264.19 810.84h1.49M279.12 810.84h1.49M282.11 810.84h1.49M294.06 810.84h1.49M316.47 810.84h1.49M310.49 812.32h1.49M310.49 813.8h1.49M282.11 815.28h1.49M310.49 815.28h1.49M300.04 816.76h1.49M282.11 819.71h1.49M262.69 824.15h1.49M319.46 824.15h1.49M310.49 825.62h1.49M331.41 827.1h1.49M294.06 828.58h1.49M301.53 831.54h1.49M294.06 833.01h1.49M310.49 833.01h1.49M310.49 834.49h1.49M317.96 834.49h1.49M282.11 835.97h1.49M294.06 837.45h1.49M282.11 838.93h1.49M279.12 841.88h1.49M310.49 841.88h1.49M264.19 843.36h1.49M282.11 843.36h1.49M316.47 843.36h1.49M286.59 844.84h1.49M261.2 847.79h1.49M310.49 847.79h1.49M271.66 849.27h1.49M264.19 850.75h1.49M310.49 850.75h1.49M303.02 852.23h1.49M310.49 852.23h1.49M329.91 852.23h1.49M277.63 855.18h1.49M282.11 855.18h1.49M313.48 856.66h1.49M282.11 858.14h1.49" stroke="#f3999b" stroke-width="1.51" fill="none"/>
<path d="M319.46 803.45h1.49M326.92 803.45h1.49M314.97 806.41h1.49M261.2 807.89h1.49M282.11 809.37h1.49M282.11 816.76h1.49M285.1 821.19h1.49M282.11 822.67h1.49M268.67 824.15h1.49M271.66 838.93h1.49M310.49 844.84h1.49M310.49 849.27h1.49M282.11 853.71h1.49" stroke="#ed6669" stroke-width="1.51" fill="none"/>
<path d="M262.69 804.93h1.49M276.14 804.93h1.49M279.12 804.93h1.49M285.1 804.93h2.99M301.53 804.93h1.49M304.52 804.93h1.49M316.47 804.93h1.49M320.95 804.93h1.49M264.19 806.41h1.49M274.64 806.41h1.49M294.06 806.41h1.49M329.91 807.89h1.49M270.16 809.37h1.49M279.12 809.37h1.49M301.53 809.37h1.49M306.01 809.37h1.49M316.47 809.37h1.49M323.94 809.37h1.49M280.62 810.84h1.49M300.04 810.84h1.49M320.95 810.84h1.49M323.94 810.84h1.49M329.91 810.84h1.49M279.12 812.32h2.99M301.53 812.32h1.49M306.01 812.32h1.49M317.96 812.32h1.49M329.91 812.32h1.49M276.14 813.8h1.49M289.58 813.8h1.49M294.06 813.8h1.49M297.05 815.28h1.49M301.53 815.28h1.49M289.58 816.76h1.49M294.06 816.76h1.49M304.52 816.76h1.49M328.42 816.76h1.49M282.11 818.23h1.49M304.52 819.71h1.49M310.49 819.71h1.49M313.48 819.71h1.49M317.96 819.71h1.49M294.06 821.19h1.49M267.18 822.67h1.49M285.1 822.67h1.49M297.05 822.67h1.49M306.01 822.67h2.99M329.91 822.67h1.49M279.12 824.15h1.49M264.19 825.62h1.49M322.44 825.62h1.49M310.49 827.1h1.49M323.94 827.1h1.49M264.19 828.58h1.49M282.11 828.58h1.49M289.58 828.58h1.49M297.05 828.58h1.49M304.52 828.58h1.49M316.47 828.58h1.49M282.11 831.54h1.49M294.06 831.54h1.49M276.14 833.01h1.49M279.12 833.01h1.49M288.09 833.01h2.99M292.57 833.01h1.49M300.04 833.01h1.49M313.48 833.01h1.49M322.44 833.01h1.49M329.91 833.01h1.49M264.19 834.49h1.49M286.59 834.49h1.49M325.43 834.49h1.49M279.12 837.45h2.99M294.06 838.93h1.49M277.63 841.88h1.49M282.11 841.88h1.49M294.06 841.88h1.49M261.2 843.36h2.99M267.18 843.36h1.49M279.12 843.36h2.99M285.1 843.36h2.99M291.07 843.36h1.49M320.95 843.36h1.49M264.19 844.84h1.49M294.06 844.84h1.49M316.47 844.84h1.49M325.43 844.84h1.49M310.49 846.32h1.49M270.16 847.79h1.49M289.58 847.79h1.49M316.47 847.79h1.49M282.11 849.27h1.49M294.06 849.27h1.49M322.44 849.27h1.49M326.92 849.27h1.49M279.12 850.75h1.49M268.67 852.23h1.49M279.12 852.23h1.49M285.1 852.23h1.49M301.53 852.23h1.49M304.52 852.23h1.49M328.42 852.23h1.49M261.2 853.71h1.49M291.07 853.71h1.49M329.91 853.71h1.49M276.14 855.18h1.49M279.12 855.18h1.49M289.58 856.66h1.49M300.04 858.14h1.49M282.11 859.62h1.49M310.49 859.62h1.49" stroke="#fce4e5" stroke-width="1.51" fill="none"/>
<path d="M289.58 804.93h1.49M300.04 804.93h1.49M306.01 804.93h1.49M323.94 804.93h1.49M282.11 806.41h1.49M297.05 806.41h1.49M310.49 806.41h1.49M262.69 809.37h2.99M294.06 809.37h1.49M329.91 809.37h1.49M262.69 810.84h1.49M277.63 810.84h1.49M285.1 810.84h1.49M291.07 810.84h1.49M295.56 810.84h1.49M310.49 810.84h1.49M282.11 812.32h1.49M316.47 812.32h1.49M322.44 812.32h1.49M331.41 812.32h1.49M262.69 815.28h2.99M280.62 815.28h1.49M310.49 816.76h1.49M264.19 819.71h1.49M264.19 822.67h1.49M280.62 822.67h1.49M310.49 822.67h1.49M282.11 824.15h1.49M300.04 824.15h1.49M270.16 825.62h1.49M279.12 825.62h1.49M282.11 825.62h1.49M300.04 825.62h1.49M304.52 825.62h1.49M270.16 833.01h1.49M277.63 833.01h1.49M280.62 833.01h2.99M316.47 833.01h1.49M325.43 833.01h1.49M282.11 834.49h1.49M320.95 834.49h1.49M310.49 835.97h1.49M317.96 835.97h1.49M282.11 837.45h1.49M306.01 837.45h1.49M310.49 837.45h1.49M280.62 838.93h1.49M304.52 838.93h1.49M310.49 838.93h1.49M280.62 840.4h2.99M300.04 840.4h1.49M294.06 843.36h1.49M297.05 843.36h1.49M300.04 843.36h1.49M310.49 843.36h1.49M322.44 843.36h1.49M279.12 844.84h1.49M282.11 844.84h1.49M282.11 846.32h1.49M282.11 847.79h1.49M314.97 847.79h1.49M329.91 847.79h1.49M262.69 849.27h1.49M282.11 850.75h1.49M301.53 850.75h1.49M323.94 850.75h1.49M280.62 852.23h2.99M322.44 852.23h1.49M300.04 853.71h1.49M306.01 853.71h1.49M310.49 853.71h1.49M316.47 853.71h1.49M294.06 855.18h1.49M306.01 855.18h1.49M310.49 855.18h1.49M314.97 855.18h1.49M310.49 858.14h1.49M323.94 858.14h1.49M277.63 859.62h1.49M280.62 859.62h1.49M264.19 861.1h1.49M285.1 861.1h1.49M310.49 861.1h1.49" stroke="#f8c2c3" stroke-width="1.51" fill="none"/>
<path d="M337.5 785.88h1.53M346.7 785.88h1.53M352.83 785.88h1.53M355.9 785.88h1.53M365.1 785.88h1.53M369.7 785.88h3.07M388.1 785.88h1.53M391.17 785.88h1.53M397.3 785.88h4.6M346.7 787.2h1.53M349.77 787.2h1.53M355.9 787.2h1.53M368.17 787.2h1.53M374.3 787.2h1.53M383.5 787.2h1.53M389.63 787.2h3.07M403.43 787.2h1.53M345.17 788.52h1.53M349.77 788.52h1.53M355.9 788.52h1.53M358.97 788.52h1.53M385.03 788.52h1.53M403.43 788.52h1.53M339.03 789.84h3.07M362.03 789.84h1.53M368.17 789.84h1.53M377.37 789.84h1.53M380.43 789.84h1.53M401.9 789.84h1.53M408.03 789.84h3.07M337.5 791.15h1.53M343.63 791.15h1.53M348.23 791.15h1.53M354.37 791.15h3.07M365.1 791.15h1.53M377.37 791.15h1.53M389.63 791.15h1.53M340.57 792.48h1.53M346.7 792.48h1.53M349.77 792.48h3.07M360.5 792.48h1.53M365.1 792.48h1.53M397.3 792.48h1.53M401.9 792.48h3.07M409.57 792.48h1.53M339.03 793.8h1.53M345.17 793.8h1.53M354.37 793.8h1.53M369.7 793.8h3.07M378.9 793.8h1.53M389.63 793.8h1.53M394.23 793.8h1.53M398.83 793.8h1.53M403.43 793.8h1.53M409.57 793.8h1.53" stroke="#f8c2c3" stroke-width="1.35" fill="none"/>
<path d="M339.03 785.88h1.53M345.17 785.88h1.53M349.77 785.88h1.53M358.97 785.88h1.53M375.83 785.88h1.53M378.9 785.88h1.53M381.97 785.88h1.53M409.57 785.88h1.53M348.23 787.2h1.53M351.3 787.2h1.53M360.5 787.2h1.53M365.1 787.2h1.53M369.7 787.2h1.53M375.83 787.2h1.53M386.57 787.2h1.53M392.7 787.2h1.53M395.77 787.2h3.07M401.9 787.2h1.53M408.03 787.2h3.07M360.5 788.52h1.53M372.77 788.52h1.53M375.83 788.52h4.6M389.63 788.52h1.53M392.7 788.52h1.53M397.3 788.52h1.53M343.63 789.84h1.53M369.7 789.84h3.07M375.83 789.84h1.53M392.7 789.84h1.53M398.83 789.84h1.53M380.43 791.15h1.53M400.37 791.15h1.53M358.97 792.48h1.53M378.9 792.48h1.53M383.5 792.48h1.53M386.57 792.48h1.53M404.97 792.48h1.53M349.77 793.8h3.07" stroke="#fce4e5" stroke-width="1.35" fill="none"/>
<path d="M340.57 785.88h1.53M343.63 785.88h1.53M357.43 785.88h1.53M360.5 785.88h1.53M377.37 785.88h1.53M392.7 785.88h3.07M358.97 787.2h1.53M378.9 787.2h1.53M394.23 787.2h1.53M398.83 787.2h3.07M366.63 788.52h1.53M383.5 788.52h1.53M400.37 789.84h1.53M366.63 791.15h1.53M404.97 791.15h1.53M366.63 792.48h1.53M374.3 792.48h1.53M394.23 792.48h1.53M343.63 793.8h1.53M383.5 793.8h1.53M386.57 793.8h1.53M397.3 793.8h1.53M401.9 793.8h1.53" stroke="#e7e7f9" stroke-width="1.35" fill="none"/>
<path d="M342.1 785.88h1.53M368.17 785.88h1.53M389.63 785.88h1.53M337.5 787.2h1.53M352.83 787.2h1.53M371.23 787.2h1.53M388.1 787.2h1.53M406.5 787.2h1.53M339.03 788.52h4.6M346.7 788.52h1.53M352.83 788.52h1.53M381.97 788.52h1.53M391.17 788.52h1.53M409.57 788.52h1.53M337.5 789.84h1.53M345.17 789.84h1.53M388.1 789.84h1.53M403.43 789.84h1.53M346.7 791.15h1.53M357.43 791.15h1.53M360.5 791.15h3.07M369.7 791.15h3.07M385.03 791.15h1.53M388.1 791.15h1.53M391.17 791.15h4.6M406.5 791.15h3.07M343.63 792.48h1.53M355.9 792.48h3.07M362.03 792.48h1.53M369.7 792.48h3.07M380.43 792.48h3.07M392.7 792.48h1.53M342.1 793.8h1.53M352.83 793.8h1.53M372.77 793.8h1.53M385.03 793.8h1.53M391.17 793.8h1.53M406.5 793.8h1.53" stroke="#ed6669" stroke-width="1.35" fill="none"/>
<path d="M348.23 785.88h1.53M363.57 785.88h1.53M372.77 785.88h3.07M380.43 785.88h1.53M403.43 785.88h1.53M342.1 787.2h1.53M354.37 787.2h1.53M362.03 787.2h1.53M372.77 787.2h1.53M380.43 787.2h1.53M337.5 788.52h1.53M348.23 788.52h1.53M365.1 788.52h1.53M368.17 788.52h1.53M374.3 788.52h1.53M388.1 788.52h1.53M406.5 788.52h3.07M346.7 789.84h3.07M354.37 789.84h6.13M363.57 789.84h1.53M374.3 789.84h1.53M378.9 789.84h1.53M381.97 789.84h4.6M389.63 789.84h3.07M406.5 789.84h1.53M339.03 791.15h3.07M349.77 791.15h3.07M358.97 791.15h1.53M368.17 791.15h1.53M372.77 791.15h4.6M378.9 791.15h1.53M381.97 791.15h3.07M386.57 791.15h1.53M397.3 791.15h1.53M403.43 791.15h1.53M337.5 792.48h3.07M345.17 792.48h1.53M348.23 792.48h1.53M354.37 792.48h1.53M363.57 792.48h1.53M375.83 792.48h3.07M389.63 792.48h3.07M398.83 792.48h3.07M408.03 792.48h1.53M337.5 793.8h1.53M355.9 793.8h1.53M358.97 793.8h1.53M362.03 793.8h4.6M368.17 793.8h1.53M375.83 793.8h3.07M380.43 793.8h1.53M400.37 793.8h1.53M408.03 793.8h1.53" stroke="#f3999b" stroke-width="1.35" fill="none"/>
<path d="M351.3 785.88h1.53M354.37 785.88h1.53M395.77 785.88h1.53M401.9 785.88h1.53M339.03 787.2h3.07M343.63 787.2h3.07M386.57 788.52h1.53M404.97 788.52h1.53M351.3 789.84h1.53M372.77 789.84h1.53M386.57 789.84h1.53M395.77 789.84h3.07M404.97 789.84h1.53M398.83 791.15h1.53M395.77 792.48h1.53" stroke="#c8c8f0" stroke-width="1.35" fill="none"/>
<path d="M362.03 785.88h1.53M366.63 785.88h1.53M386.57 785.88h1.53M404.97 785.88h1.53M366.63 787.2h1.53M360.5 789.84h1.53M409.57 791.15h1.53M392.7 793.8h1.53M404.97 793.8h1.53" stroke="#a3a3e6" stroke-width="1.35" fill="none"/>
<path d="M406.5 785.88h1.53M362.03 788.52h1.53M342.1 789.84h1.53M365.1 789.84h1.53M342.1 791.15h1.53M345.17 791.15h1.53M352.83 791.15h1.53M363.57 791.15h1.53M342.1 792.48h1.53M352.83 792.48h1.53M368.17 792.48h1.53M372.77 792.48h1.53M385.03 792.48h1.53M388.1 792.48h1.53M406.5 792.48h1.53M346.7 793.8h3.07M388.1 793.8h1.53" stroke="#e63236" stroke-width="1.35" fill="none"/>
<path d="M404.97 787.2h1.53M357.43 793.8h1.53" stroke="#7575da" stroke-width="1.35" fill="none"/>
<path d="M352.83 789.84h1.53" stroke="#4646cd" stroke-width="1.35" fill="none"/>
<path d="M337.5 798.95h1.53M346.7 798.95h1.53M349.77 798.95h1.53M362.03 798.95h1.53M372.77 798.95h1.53M378.9 798.95h1.53M394.23 798.95h1.53M409.57 798.95h1.53" stroke="#f3999b" stroke-width="2.1" fill="none"/>
<path d="M339.03 798.95h1.53M358.97 798.95h1.53M383.5 798.95h1.53M398.83 798.95h1.53M404.97 798.95h1.53" stroke="#fce4e5" stroke-width="2.1" fill="none"/>
<path d="M340.57 798.95h1.53M345.17 798.95h1.53M355.9 798.95h1.53M386.57 798.95h1.53" stroke="#e7e7f9" stroke-width="2.1" fill="none"/>
<path d="M342.1 798.95h1.53M385.03 798.95h1.53M388.1 798.95h1.53M403.43 798.95h1.53" stroke="#e63236" stroke-width="2.1" fill="none"/>
<path d="M348.23 798.95h1.53M352.83 798.95h1.53M380.43 798.95h1.53M391.17 798.95h1.53" stroke="#ed6669" stroke-width="2.1" fill="none"/>
<path d="M360.5 798.95h1.53M363.57 798.95h3.07M368.17 798.95h4.6M374.3 798.95h4.6M381.97 798.95h1.53M389.63 798.95h1.53M397.3 798.95h1.53M406.5 798.95h3.07" stroke="#f8c2c3" stroke-width="2.1" fill="none"/>
<path d="M392.7 798.95h1.53M395.77 798.95h1.53M401.9 798.95h1.53" stroke="#c8c8f0" stroke-width="2.1" fill="none"/>
<path d="M337.5 803.45h1.53M343.63 803.45h1.53M346.7 803.45h1.53M357.43 803.45h1.53M360.5 803.45h1.53M374.3 803.45h1.53M394.23 803.45h1.53M397.3 803.45h3.07M403.43 803.45h1.53M406.5 803.45h1.53M337.5 804.93h3.07M348.23 804.93h3.07M358.97 804.93h1.53M365.1 804.93h1.53M369.7 804.93h4.6M377.37 804.93h1.53M398.83 804.93h1.53M408.03 804.93h3.07M339.03 806.41h1.53M348.23 806.41h1.53M357.43 806.41h6.13M366.63 806.41h1.53M374.3 806.41h6.13M381.97 806.41h1.53M392.7 806.41h1.53M401.9 806.41h3.07M408.03 806.41h1.53M348.23 807.89h1.53M368.17 807.89h1.53M371.23 807.89h1.53M378.9 807.89h1.53M381.97 807.89h1.53M385.03 807.89h1.53M391.17 807.89h1.53M400.37 807.89h1.53M409.57 807.89h1.53M339.03 809.37h1.53M343.63 809.37h3.07M362.03 809.37h1.53M389.63 809.37h3.07M400.37 809.37h1.53M342.1 810.84h1.53M348.23 810.84h1.53M360.5 810.84h1.53M374.3 810.84h1.53M381.97 810.84h4.6M401.9 810.84h1.53M409.57 810.84h1.53M337.5 812.32h1.53M346.7 812.32h1.53M362.03 812.32h1.53M368.17 812.32h1.53M371.23 812.32h1.53M406.5 812.32h1.53M346.7 813.8h1.53M349.77 813.8h1.53M357.43 813.8h1.53M360.5 813.8h1.53M365.1 813.8h1.53M371.23 813.8h4.6M378.9 813.8h3.07M389.63 813.8h1.53M339.03 815.28h3.07M357.43 815.28h1.53M365.1 815.28h1.53M368.17 815.28h4.6M380.43 815.28h1.53M386.57 815.28h1.53M389.63 815.28h1.53M398.83 815.28h3.07M403.43 815.28h1.53M408.03 815.28h3.07M337.5 816.76h1.53M346.7 816.76h4.6M362.03 816.76h1.53M365.1 816.76h1.53M368.17 816.76h1.53M374.3 816.76h1.53M377.37 816.76h1.53M391.17 816.76h1.53M406.5 816.76h1.53M357.43 818.23h1.53M363.57 818.23h3.07M374.3 818.23h3.07M378.9 818.23h1.53M385.03 818.23h1.53M400.37 818.23h3.07M339.03 819.71h1.53M346.7 819.71h3.07M358.97 819.71h3.07M363.57 819.71h3.07M368.17 819.71h3.07M372.77 819.71h1.53M377.37 819.71h1.53M381.97 819.71h3.07M400.37 819.71h1.53M406.5 819.71h4.6M345.17 821.19h1.53M349.77 821.19h1.53M354.37 821.19h1.53M363.57 821.19h1.53M369.7 821.19h1.53M372.77 821.19h1.53M381.97 821.19h1.53M385.03 821.19h1.53M400.37 821.19h1.53M408.03 821.19h1.53M339.03 822.67h1.53M345.17 822.67h1.53M351.3 822.67h1.53M357.43 822.67h1.53M362.03 822.67h4.6M371.23 822.67h1.53M385.03 822.67h1.53M409.57 822.67h1.53M349.77 824.15h1.53M355.9 824.15h1.53M358.97 824.15h1.53M374.3 824.15h3.07M381.97 824.15h1.53M394.23 824.15h1.53M398.83 824.15h1.53M401.9 824.15h3.07M337.5 825.62h1.53M348.23 825.62h1.53M352.83 825.62h1.53M385.03 825.62h1.53M388.1 825.62h1.53M346.7 827.1h1.53M385.03 827.1h1.53M406.5 827.1h1.53M337.5 828.58h1.53M345.17 828.58h1.53M349.77 828.58h1.53M352.83 828.58h1.53M357.43 828.58h1.53M363.57 828.58h3.07M368.17 828.58h1.53M375.83 828.58h1.53M381.97 828.58h1.53M391.17 828.58h3.07M339.03 830.06h1.53M346.7 830.06h6.13M358.97 830.06h1.53M368.17 830.06h1.53M377.37 830.06h1.53M380.43 830.06h1.53M408.03 830.06h3.07M337.5 831.54h3.07M348.23 831.54h3.07M365.1 831.54h1.53M368.17 831.54h1.53M374.3 831.54h1.53M380.43 831.54h1.53M385.03 831.54h1.53M403.43 831.54h1.53M408.03 831.54h1.53M337.5 833.01h3.07M342.1 833.01h1.53M349.77 833.01h1.53M354.37 833.01h1.53M385.03 833.01h1.53M388.1 833.01h1.53M392.7 833.01h1.53M400.37 833.01h1.53M409.57 833.01h1.53M346.7 834.49h3.07M352.83 834.49h1.53M357.43 834.49h1.53M378.9 834.49h1.53M388.1 834.49h3.07M346.7 835.97h1.53M351.3 835.97h1.53M357.43 835.97h1.53M363.57 835.97h1.53M375.83 835.97h3.07M388.1 835.97h1.53M391.17 835.97h1.53M406.5 835.97h1.53M409.57 835.97h1.53M339.03 837.45h1.53M345.17 837.45h1.53M352.83 837.45h1.53M374.3 837.45h1.53M377.37 837.45h1.53M381.97 837.45h1.53M385.03 837.45h3.07M391.17 837.45h3.07M398.83 837.45h1.53M406.5 837.45h1.53M339.03 838.93h1.53M343.63 838.93h3.07M357.43 838.93h1.53M371.23 838.93h1.53M375.83 838.93h1.53M381.97 838.93h1.53M389.63 838.93h1.53M406.5 838.93h1.53M348.23 840.4h1.53M355.9 840.4h1.53M363.57 840.4h3.07M374.3 840.4h1.53M383.5 840.4h1.53M392.7 840.4h1.53M400.37 840.4h3.07M406.5 840.4h1.53M339.03 841.88h1.53M354.37 841.88h1.53M357.43 841.88h1.53M368.17 841.88h1.53M371.23 841.88h1.53M377.37 841.88h1.53M381.97 841.88h1.53M398.83 841.88h1.53M403.43 841.88h1.53M406.5 841.88h4.6M354.37 843.36h1.53M357.43 843.36h1.53M363.57 843.36h1.53M371.23 843.36h3.07M375.83 843.36h3.07M389.63 843.36h1.53M392.7 843.36h1.53M401.9 843.36h1.53M337.5 844.84h3.07M343.63 844.84h1.53M348.23 844.84h1.53M354.37 844.84h3.07M363.57 844.84h1.53M377.37 844.84h1.53M385.03 844.84h1.53M389.63 844.84h1.53M337.5 846.32h1.53M342.1 846.32h1.53M346.7 846.32h1.53M352.83 846.32h1.53M357.43 846.32h1.53M378.9 846.32h1.53M385.03 846.32h1.53M388.1 846.32h3.07M348.23 847.79h1.53M355.9 847.79h1.53M358.97 847.79h1.53M362.03 847.79h1.53M371.23 847.79h6.13M381.97 847.79h6.13M403.43 847.79h1.53M354.37 849.27h3.07M365.1 849.27h1.53M368.17 849.27h1.53M374.3 849.27h3.07M381.97 849.27h3.07M392.7 849.27h1.53M403.43 849.27h1.53M340.57 850.75h1.53M348.23 850.75h3.07M357.43 850.75h1.53M368.17 850.75h1.53M374.3 850.75h3.07M380.43 850.75h1.53M391.17 850.75h1.53M403.43 850.75h1.53M406.5 850.75h3.07M339.03 852.23h1.53M342.1 852.23h1.53M345.17 852.23h3.07M355.9 852.23h1.53M363.57 852.23h1.53M368.17 852.23h1.53M371.23 852.23h1.53M377.37 852.23h1.53M381.97 852.23h1.53M395.77 852.23h1.53M398.83 852.23h1.53M348.23 853.71h1.53M357.43 853.71h3.07M362.03 853.71h1.53M374.3 853.71h1.53M378.9 853.71h1.53M389.63 853.71h3.07M398.83 853.71h1.53M339.03 855.18h1.53M345.17 855.18h1.53M349.77 855.18h1.53M365.1 855.18h1.53M371.23 855.18h1.53M378.9 855.18h1.53M392.7 855.18h1.53M401.9 855.18h1.53M406.5 855.18h1.53M346.7 856.66h1.53M349.77 856.66h1.53M362.03 856.66h1.53M369.7 856.66h1.53M374.3 856.66h1.53M383.5 856.66h1.53M388.1 856.66h1.53M392.7 856.66h1.53M348.23 858.14h1.53M368.17 858.14h1.53M371.23 858.14h3.07M375.83 858.14h1.53M378.9 858.14h1.53M383.5 858.14h3.07M340.57 859.62h1.53M345.17 859.62h3.07M357.43 859.62h1.53M374.3 859.62h3.07M380.43 859.62h1.53M383.5 859.62h1.53M388.1 859.62h1.53M394.23 859.62h1.53M403.43 859.62h1.53M337.5 861.1h3.07M342.1 861.1h1.53M348.23 861.1h1.53M358.97 861.1h3.07M363.57 861.1h1.53M371.23 861.1h1.53M389.63 861.1h1.53M392.7 861.1h1.53" stroke="#f3999b" stroke-width="1.51" fill="none"/>
<path d="M339.03 803.45h1.53M348.23 803.45h4.6M363.57 803.45h1.53M369.7 803.45h1.53M395.77 803.45h1.53M354.37 804.93h1.53M360.5 804.93h1.53M363.57 804.93h1.53M374.3 804.93h1.53M381.97 804.93h1.53M392.7 804.93h1.53M397.3 804.93h1.53M351.3 806.41h1.53M383.5 806.41h1.53M397.3 806.41h3.07M339.03 807.89h1.53M349.77 807.89h1.53M354.37 807.89h4.6M366.63 807.89h1.53M372.77 807.89h1.53M386.57 807.89h1.53M401.9 807.89h1.53M404.97 807.89h1.53M408.03 807.89h1.53M349.77 809.37h1.53M368.17 809.37h1.53M375.83 809.37h1.53M401.9 809.37h1.53M408.03 809.37h1.53M351.3 810.84h1.53M358.97 810.84h1.53M397.3 810.84h1.53M403.43 810.84h1.53M408.03 810.84h1.53M345.17 812.32h1.53M355.9 812.32h1.53M360.5 812.32h1.53M374.3 812.32h3.07M385.03 812.32h1.53M389.63 812.32h1.53M401.9 812.32h3.07M339.03 813.8h1.53M343.63 813.8h1.53M358.97 813.8h1.53M368.17 813.8h1.53M375.83 813.8h1.53M395.77 813.8h1.53M398.83 813.8h3.07M403.43 813.8h1.53M408.03 813.8h1.53M348.23 815.28h1.53M363.57 815.28h1.53M366.63 815.28h1.53M377.37 815.28h1.53M383.5 815.28h1.53M392.7 815.28h6.13M339.03 816.76h1.53M345.17 816.76h1.53M351.3 816.76h4.6M360.5 816.76h1.53M378.9 816.76h3.07M385.03 816.76h1.53M395.77 816.76h1.53M398.83 816.76h1.53M403.43 816.76h1.53M408.03 816.76h3.07M346.7 818.23h1.53M354.37 818.23h1.53M366.63 818.23h1.53M369.7 818.23h1.53M372.77 818.23h1.53M383.5 818.23h1.53M386.57 818.23h1.53M389.63 818.23h1.53M392.7 818.23h1.53M395.77 818.23h3.07M403.43 818.23h1.53M408.03 818.23h1.53M351.3 819.71h1.53M362.03 819.71h1.53M374.3 819.71h3.07M395.77 819.71h1.53M403.43 819.71h1.53M340.57 821.19h1.53M343.63 821.19h1.53M351.3 821.19h1.53M355.9 821.19h3.07M365.1 821.19h1.53M371.23 821.19h1.53M375.83 821.19h1.53M378.9 821.19h1.53M383.5 821.19h1.53M386.57 821.19h1.53M392.7 821.19h3.07M397.3 821.19h1.53M401.9 821.19h1.53M355.9 822.67h1.53M360.5 822.67h1.53M366.63 822.67h1.53M372.77 822.67h1.53M375.83 822.67h1.53M394.23 822.67h1.53M340.57 824.15h1.53M380.43 824.15h1.53M383.5 824.15h1.53M386.57 824.15h1.53M404.97 824.15h1.53M343.63 825.62h1.53M349.77 825.62h1.53M355.9 825.62h1.53M383.5 825.62h1.53M392.7 825.62h4.6M348.23 827.1h1.53M374.3 827.1h4.6M380.43 827.1h1.53M389.63 827.1h1.53M401.9 827.1h3.07M409.57 827.1h1.53M339.03 828.58h1.53M355.9 828.58h1.53M358.97 828.58h1.53M372.77 828.58h3.07M385.03 828.58h3.07M340.57 830.06h1.53M354.37 830.06h1.53M371.23 830.06h1.53M385.03 830.06h3.07M397.3 830.06h3.07M403.43 830.06h1.53M340.57 831.54h1.53M343.63 831.54h1.53M354.37 831.54h1.53M357.43 831.54h1.53M360.5 831.54h1.53M378.9 831.54h1.53M381.97 831.54h1.53M386.57 831.54h1.53M394.23 831.54h1.53M401.9 831.54h1.53M355.9 833.01h1.53M358.97 833.01h1.53M363.57 833.01h1.53M377.37 833.01h3.07M381.97 833.01h1.53M403.43 833.01h1.53M408.03 833.01h1.53M337.5 834.49h1.53M343.63 834.49h1.53M354.37 834.49h1.53M363.57 834.49h1.53M371.23 834.49h1.53M374.3 834.49h3.07M392.7 834.49h1.53M398.83 834.49h1.53M403.43 834.49h1.53M406.5 834.49h1.53M354.37 835.97h1.53M369.7 835.97h1.53M374.3 835.97h1.53M380.43 835.97h3.07M403.43 835.97h1.53M408.03 835.97h1.53M340.57 837.45h1.53M346.7 837.45h1.53M355.9 837.45h3.07M360.5 837.45h1.53M368.17 837.45h1.53M371.23 837.45h1.53M389.63 837.45h1.53M400.37 837.45h3.07M337.5 838.93h1.53M358.97 838.93h3.07M372.77 838.93h1.53M380.43 838.93h1.53M383.5 838.93h1.53M401.9 838.93h1.53M409.57 838.93h1.53M340.57 840.4h1.53M343.63 840.4h4.6M352.83 840.4h1.53M357.43 840.4h4.6M368.17 840.4h1.53M380.43 840.4h1.53M386.57 840.4h1.53M389.63 840.4h1.53M394.23 840.4h1.53M403.43 840.4h1.53M337.5 841.88h1.53M351.3 841.88h1.53M355.9 841.88h1.53M360.5 841.88h1.53M369.7 841.88h1.53M372.77 841.88h3.07M383.5 841.88h1.53M386.57 841.88h1.53M392.7 841.88h1.53M395.77 841.88h1.53M340.57 843.36h1.53M360.5 843.36h1.53M383.5 843.36h1.53M397.3 843.36h3.07M408.03 843.36h3.07M349.77 844.84h3.07M358.97 844.84h3.07M397.3 844.84h1.53M409.57 844.84h1.53M348.23 846.32h1.53M351.3 846.32h1.53M355.9 846.32h1.53M369.7 846.32h1.53M374.3 846.32h1.53M377.37 846.32h1.53M403.43 846.32h1.53M349.77 847.79h3.07M392.7 847.79h1.53M340.57 849.27h1.53M343.63 849.27h1.53M363.57 849.27h1.53M371.23 849.27h1.53M377.37 849.27h1.53M400.37 849.27h1.53M337.5 850.75h1.53M343.63 850.75h1.53M369.7 850.75h1.53M377.37 850.75h3.07M381.97 850.75h3.07M397.3 850.75h1.53M351.3 852.23h1.53M354.37 852.23h1.53M357.43 852.23h1.53M360.5 852.23h1.53M375.83 852.23h1.53M403.43 852.23h1.53M340.57 853.71h1.53M351.3 853.71h1.53M355.9 853.71h1.53M381.97 853.71h1.53M386.57 853.71h1.53M394.23 853.71h1.53M397.3 853.71h1.53M401.9 853.71h1.53M360.5 855.18h1.53M368.17 855.18h1.53M374.3 855.18h1.53M408.03 855.18h1.53M345.17 856.66h1.53M348.23 856.66h1.53M358.97 856.66h1.53M363.57 856.66h1.53M366.63 856.66h1.53M372.77 856.66h1.53M385.03 856.66h1.53M394.23 856.66h1.53M397.3 856.66h1.53M403.43 856.66h3.07M408.03 856.66h1.53M337.5 858.14h3.07M357.43 858.14h1.53M366.63 858.14h1.53M374.3 858.14h1.53M380.43 858.14h3.07M398.83 858.14h4.6M337.5 859.62h1.53M349.77 859.62h1.53M354.37 859.62h1.53M358.97 859.62h3.07M365.1 859.62h3.07M381.97 859.62h1.53M386.57 859.62h1.53M409.57 859.62h1.53M351.3 861.1h1.53M381.97 861.1h1.53M408.03 861.1h1.53" stroke="#fce4e5" stroke-width="1.51" fill="none"/>
<path d="M340.57 803.45h1.53M355.9 803.45h1.53M366.63 803.45h1.53M400.37 803.45h1.53M404.97 803.45h1.53M340.57 804.93h1.53M343.63 804.93h1.53M355.9 804.93h1.53M366.63 804.93h1.53M386.57 804.93h1.53M397.3 807.89h1.53M366.63 809.37h1.53M381.97 809.37h1.53M392.7 809.37h3.07M366.63 810.84h1.53M395.77 810.84h1.53M343.63 812.32h1.53M357.43 812.32h1.53M383.5 812.32h1.53M392.7 812.32h1.53M408.03 812.32h1.53M394.23 813.8h1.53M409.57 813.8h1.53M343.63 815.28h1.53M351.3 815.28h1.53M343.63 816.76h1.53M392.7 816.76h3.07M400.37 816.76h1.53M340.57 818.23h1.53M360.5 818.23h1.53M404.97 821.19h1.53M397.3 822.67h1.53M401.9 825.62h1.53M339.03 827.1h1.53M355.9 827.1h1.53M360.5 827.1h1.53M363.57 827.1h1.53M366.63 827.1h1.53M369.7 827.1h1.53M372.77 827.1h1.53M386.57 827.1h1.53M395.77 827.1h1.53M404.97 827.1h1.53M354.37 828.58h1.53M366.63 830.06h1.53M395.77 830.06h1.53M375.83 831.54h1.53M340.57 833.01h1.53M343.63 833.01h3.07M348.23 833.01h1.53M351.3 833.01h1.53M369.7 833.01h1.53M401.9 833.01h1.53M340.57 834.49h1.53M372.77 834.49h1.53M383.5 834.49h1.53M386.57 834.49h1.53M395.77 834.49h1.53M400.37 834.49h3.07M355.9 835.97h1.53M360.5 835.97h1.53M366.63 835.97h1.53M383.5 835.97h1.53M386.57 835.97h1.53M404.97 835.97h1.53M369.7 837.45h1.53M372.77 837.45h1.53M394.23 837.45h1.53M397.3 837.45h1.53M366.63 838.93h1.53M397.3 838.93h1.53M342.1 840.4h1.53M366.63 840.4h1.53M375.83 840.4h1.53M378.9 840.4h1.53M398.83 840.4h1.53M404.97 840.4h1.53M366.63 841.88h1.53M394.23 841.88h1.53M400.37 841.88h1.53M395.77 843.36h1.53M404.97 843.36h1.53M340.57 844.84h1.53M408.03 844.84h1.53M340.57 846.32h1.53M345.17 846.32h1.53M360.5 846.32h1.53M368.17 846.32h1.53M383.5 846.32h1.53M386.57 846.32h1.53M394.23 846.32h3.07M409.57 846.32h1.53M343.63 847.79h1.53M355.9 850.75h1.53M395.77 850.75h1.53M401.9 850.75h1.53M340.57 852.23h1.53M374.3 852.23h1.53M404.97 852.23h1.53M404.97 853.71h1.53M408.03 853.71h1.53M343.63 855.18h1.53M351.3 855.18h1.53M354.37 855.18h3.07M404.97 855.18h1.53M351.3 856.66h1.53M380.43 856.66h1.53M395.77 856.66h1.53M354.37 858.14h1.53M363.57 858.14h1.53M409.57 858.14h1.53M401.9 859.62h1.53M343.63 861.1h1.53M394.23 861.1h1.53" stroke="#e7e7f9" stroke-width="1.51" fill="none"/>
<path d="M342.1 803.45h1.53M365.1 803.45h1.53M371.23 803.45h1.53M377.37 803.45h3.07M381.97 803.45h1.53M385.03 803.45h1.53M389.63 803.45h3.07M409.57 803.45h1.53M346.7 804.93h1.53M352.83 804.93h1.53M362.03 804.93h1.53M380.43 804.93h1.53M388.1 804.93h1.53M391.17 804.93h1.53M403.43 804.93h1.53M406.5 804.93h1.53M337.5 806.41h1.53M342.1 806.41h1.53M346.7 806.41h1.53M349.77 806.41h1.53M352.83 806.41h1.53M365.1 806.41h1.53M372.77 806.41h1.53M385.03 806.41h1.53M389.63 806.41h3.07M400.37 806.41h1.53M406.5 806.41h1.53M342.1 807.89h1.53M352.83 807.89h1.53M362.03 807.89h3.07M375.83 807.89h3.07M380.43 807.89h1.53M392.7 807.89h1.53M337.5 809.37h1.53M355.9 809.37h1.53M365.1 809.37h1.53M369.7 809.37h1.53M378.9 809.37h1.53M388.1 809.37h1.53M345.17 810.84h3.07M357.43 810.84h1.53M362.03 810.84h3.07M372.77 810.84h1.53M377.37 810.84h1.53M380.43 810.84h1.53M391.17 810.84h1.53M406.5 810.84h1.53M342.1 812.32h1.53M380.43 812.32h1.53M388.1 812.32h1.53M391.17 812.32h1.53M337.5 813.8h1.53M406.5 813.8h1.53M349.77 815.28h1.53M352.83 815.28h1.53M362.03 815.28h1.53M374.3 815.28h1.53M385.03 815.28h1.53M388.1 815.28h1.53M342.1 816.76h1.53M372.77 816.76h1.53M389.63 816.76h1.53M337.5 818.23h1.53M342.1 818.23h1.53M349.77 818.23h1.53M368.17 818.23h1.53M377.37 818.23h1.53M406.5 818.23h1.53M342.1 819.71h1.53M345.17 819.71h1.53M352.83 819.71h1.53M355.9 819.71h1.53M371.23 819.71h1.53M380.43 819.71h1.53M391.17 819.71h1.53M342.1 821.19h1.53M348.23 821.19h1.53M374.3 821.19h1.53M377.37 821.19h1.53M380.43 821.19h1.53M388.1 821.19h3.07M403.43 821.19h1.53M337.5 822.67h1.53M342.1 822.67h1.53M358.97 822.67h1.53M339.03 824.15h1.53M345.17 824.15h1.53M348.23 824.15h1.53M354.37 824.15h1.53M363.57 824.15h3.07M368.17 824.15h1.53M371.23 824.15h3.07M378.9 824.15h1.53M385.03 824.15h1.53M389.63 824.15h3.07M406.5 824.15h1.53M339.03 825.62h1.53M342.1 825.62h1.53M345.17 825.62h1.53M358.97 825.62h1.53M362.03 825.62h1.53M368.17 825.62h1.53M375.83 825.62h1.53M378.9 825.62h1.53M389.63 825.62h3.07M400.37 825.62h1.53M403.43 825.62h1.53M352.83 827.1h1.53M362.03 827.1h1.53M388.1 827.1h1.53M346.7 828.58h1.53M362.03 828.58h1.53M389.63 828.58h1.53M403.43 828.58h1.53M406.5 828.58h1.53M409.57 828.58h1.53M337.5 830.06h1.53M342.1 830.06h1.53M362.03 830.06h1.53M365.1 830.06h1.53M369.7 830.06h1.53M374.3 830.06h1.53M388.1 830.06h3.07M342.1 831.54h1.53M345.17 831.54h3.07M352.83 831.54h1.53M363.57 831.54h1.53M369.7 831.54h1.53M383.5 831.54h1.53M389.63 831.54h1.53M406.5 831.54h1.53M409.57 831.54h1.53M352.83 833.01h1.53M362.03 833.01h1.53M374.3 833.01h1.53M391.17 833.01h1.53M406.5 833.01h1.53M339.03 834.49h1.53M368.17 834.49h1.53M391.17 834.49h1.53M362.03 835.97h1.53M368.17 835.97h1.53M378.9 835.97h1.53M389.63 835.97h1.53M342.1 837.45h1.53M348.23 837.45h1.53M354.37 837.45h1.53M358.97 837.45h1.53M363.57 837.45h3.07M388.1 837.45h1.53M342.1 838.93h1.53M349.77 838.93h1.53M352.83 838.93h1.53M374.3 838.93h1.53M385.03 838.93h1.53M391.17 838.93h3.07M362.03 840.4h1.53M372.77 840.4h1.53M391.17 840.4h1.53M342.1 841.88h1.53M348.23 841.88h1.53M375.83 841.88h1.53M388.1 841.88h1.53M391.17 841.88h1.53M342.1 843.36h1.53M346.7 843.36h3.07M362.03 843.36h1.53M365.1 843.36h1.53M374.3 843.36h1.53M378.9 843.36h4.6M391.17 843.36h1.53M394.23 843.36h1.53M346.7 844.84h1.53M357.43 844.84h1.53M368.17 844.84h1.53M375.83 844.84h1.53M391.17 844.84h1.53M406.5 844.84h1.53M339.03 846.32h1.53M391.17 846.32h1.53M345.17 847.79h3.07M354.37 847.79h1.53M368.17 847.79h1.53M378.9 847.79h1.53M388.1 847.79h1.53M398.83 847.79h1.53M406.5 847.79h1.53M409.57 847.79h1.53M342.1 849.27h1.53M346.7 849.27h3.07M358.97 849.27h1.53M369.7 849.27h1.53M378.9 849.27h3.07M408.03 849.27h3.07M339.03 850.75h1.53M352.83 850.75h1.53M365.1 850.75h1.53M409.57 850.75h1.53M352.83 852.23h1.53M365.1 852.23h1.53M391.17 852.23h1.53M406.5 852.23h1.53M409.57 852.23h1.53M342.1 853.71h1.53M346.7 853.71h1.53M371.23 853.71h1.53M385.03 853.71h1.53M403.43 853.71h1.53M406.5 853.71h1.53M346.7 855.18h1.53M377.37 855.18h1.53M388.1 855.18h1.53M391.17 855.18h1.53M337.5 856.66h3.07M342.1 856.66h1.53M368.17 856.66h1.53M381.97 856.66h1.53M391.17 856.66h1.53M346.7 858.14h1.53M352.83 858.14h1.53M362.03 858.14h1.53M365.1 858.14h1.53M388.1 858.14h4.6M406.5 858.14h1.53M339.03 859.62h1.53M348.23 859.62h1.53M391.17 859.62h1.53M397.3 859.62h1.53M406.5 859.62h1.53M346.7 861.1h1.53M352.83 861.1h1.53M362.03 861.1h1.53M365.1 861.1h1.53M385.03 861.1h1.53M388.1 861.1h1.53M403.43 861.1h1.53M406.5 861.1h1.53" stroke="#ed6669" stroke-width="1.51" fill="none"/>
<path d="M345.17 803.45h1.53M352.83 803.45h1.53M362.03 803.45h1.53M388.1 803.45h1.53M342.1 804.93h1.53M368.17 806.41h1.53M371.23 806.41h1.53M388.1 806.41h1.53M388.1 807.89h1.53M342.1 809.37h1.53M406.5 809.37h1.53M337.5 810.84h1.53M349.77 810.84h1.53M352.83 810.84h1.53M365.1 810.84h1.53M371.23 810.84h1.53M386.57 810.84h4.6M352.83 812.32h1.53M342.1 813.8h1.53M352.83 813.8h1.53M388.1 813.8h1.53M342.1 815.28h1.53M391.17 815.28h1.53M406.5 815.28h1.53M388.1 816.76h1.53M352.83 818.23h1.53M362.03 818.23h1.53M388.1 818.23h1.53M391.17 818.23h1.53M349.77 819.71h1.53M388.1 819.71h1.53M352.83 821.19h1.53M362.03 821.19h1.53M391.17 821.19h1.53M346.7 822.67h1.53M352.83 822.67h1.53M380.43 822.67h1.53M388.1 822.67h1.53M391.17 822.67h3.07M342.1 824.15h1.53M346.7 824.15h1.53M351.3 824.15h3.07M357.43 824.15h1.53M362.03 824.15h1.53M388.1 824.15h1.53M365.1 825.62h1.53M380.43 825.62h1.53M342.1 828.58h1.53M388.1 828.58h1.53M406.5 830.06h1.53M362.03 831.54h1.53M372.77 831.54h1.53M388.1 831.54h1.53M368.17 833.01h1.53M342.1 834.49h1.53M352.83 835.97h1.53M372.77 835.97h1.53M346.7 838.93h1.53M368.17 838.93h1.53M388.1 838.93h1.53M388.1 840.4h1.53M352.83 841.88h1.53M362.03 841.88h1.53M365.1 841.88h1.53M352.83 843.36h1.53M388.1 843.36h1.53M406.5 843.36h1.53M342.1 844.84h1.53M352.83 844.84h1.53M365.1 844.84h1.53M388.1 844.84h1.53M365.1 846.32h1.53M339.03 847.79h1.53M342.1 847.79h1.53M352.83 847.79h1.53M377.37 847.79h1.53M389.63 847.79h3.07M388.1 849.27h1.53M406.5 849.27h1.53M342.1 850.75h1.53M362.03 850.75h1.53M388.1 850.75h1.53M362.03 852.23h1.53M388.1 852.23h1.53M349.77 853.71h1.53M368.17 853.71h1.53M388.1 853.71h1.53M409.57 853.71h1.53M352.83 855.18h1.53M352.83 856.66h1.53M342.1 858.14h1.53M342.1 859.62h1.53M352.83 859.62h1.53M362.03 859.62h1.53M349.77 861.1h1.53M368.17 861.1h1.53" stroke="#e63236" stroke-width="1.51" fill="none"/>
<path d="M354.37 803.45h1.53M368.17 803.45h1.53M372.77 803.45h1.53M375.83 803.45h1.53M383.5 803.45h1.53M386.57 803.45h1.53M392.7 803.45h1.53M401.9 803.45h1.53M345.17 804.93h1.53M357.43 804.93h1.53M368.17 804.93h1.53M375.83 804.93h1.53M385.03 804.93h1.53M389.63 804.93h1.53M401.9 804.93h1.53M340.57 806.41h1.53M345.17 806.41h1.53M354.37 806.41h3.07M363.57 806.41h1.53M369.7 806.41h1.53M380.43 806.41h1.53M394.23 806.41h3.07M337.5 807.89h1.53M340.57 807.89h1.53M351.3 807.89h1.53M358.97 807.89h1.53M365.1 807.89h1.53M369.7 807.89h1.53M374.3 807.89h1.53M383.5 807.89h1.53M394.23 807.89h1.53M398.83 807.89h1.53M403.43 807.89h1.53M406.5 807.89h1.53M348.23 809.37h1.53M351.3 809.37h1.53M357.43 809.37h1.53M360.5 809.37h1.53M363.57 809.37h1.53M371.23 809.37h1.53M374.3 809.37h1.53M377.37 809.37h1.53M380.43 809.37h1.53M385.03 809.37h1.53M403.43 809.37h1.53M409.57 809.37h1.53M339.03 810.84h1.53M354.37 810.84h1.53M368.17 810.84h3.07M378.9 810.84h1.53M392.7 810.84h1.53M398.83 810.84h3.07M348.23 812.32h1.53M358.97 812.32h1.53M365.1 812.32h1.53M372.77 812.32h1.53M400.37 812.32h1.53M345.17 813.8h1.53M348.23 813.8h1.53M354.37 813.8h3.07M363.57 813.8h1.53M369.7 813.8h1.53M377.37 813.8h1.53M385.03 813.8h1.53M391.17 813.8h3.07M397.3 813.8h1.53M401.9 813.8h1.53M337.5 815.28h1.53M345.17 815.28h3.07M354.37 815.28h1.53M358.97 815.28h3.07M372.77 815.28h1.53M375.83 815.28h1.53M378.9 815.28h1.53M401.9 815.28h1.53M404.97 815.28h1.53M355.9 816.76h1.53M358.97 816.76h1.53M363.57 816.76h1.53M375.83 816.76h1.53M381.97 816.76h3.07M401.9 816.76h1.53M339.03 818.23h1.53M343.63 818.23h3.07M348.23 818.23h1.53M351.3 818.23h1.53M355.9 818.23h1.53M358.97 818.23h1.53M371.23 818.23h1.53M380.43 818.23h3.07M394.23 818.23h1.53M409.57 818.23h1.53M337.5 819.71h1.53M340.57 819.71h1.53M343.63 819.71h1.53M354.37 819.71h1.53M378.9 819.71h1.53M389.63 819.71h1.53M392.7 819.71h3.07M397.3 819.71h3.07M401.9 819.71h1.53M339.03 821.19h1.53M346.7 821.19h1.53M358.97 821.19h3.07M366.63 821.19h3.07M395.77 821.19h1.53M398.83 821.19h1.53M409.57 821.19h1.53M348.23 822.67h1.53M369.7 822.67h1.53M374.3 822.67h1.53M377.37 822.67h3.07M381.97 822.67h3.07M389.63 822.67h1.53M398.83 822.67h4.6M406.5 822.67h1.53M337.5 824.15h1.53M343.63 824.15h1.53M360.5 824.15h1.53M366.63 824.15h1.53M369.7 824.15h1.53M377.37 824.15h1.53M392.7 824.15h1.53M395.77 824.15h3.07M400.37 824.15h1.53M340.57 825.62h1.53M346.7 825.62h1.53M351.3 825.62h1.53M357.43 825.62h1.53M360.5 825.62h1.53M366.63 825.62h1.53M369.7 825.62h6.13M377.37 825.62h1.53M381.97 825.62h1.53M386.57 825.62h1.53M398.83 825.62h1.53M409.57 825.62h1.53M337.5 827.1h1.53M342.1 827.1h1.53M357.43 827.1h1.53M368.17 827.1h1.53M381.97 827.1h3.07M391.17 827.1h1.53M369.7 828.58h3.07M380.43 828.58h1.53M400.37 828.58h3.07M408.03 828.58h1.53M352.83 830.06h1.53M360.5 830.06h1.53M372.77 830.06h1.53M375.83 830.06h1.53M381.97 830.06h1.53M391.17 830.06h1.53M400.37 830.06h3.07M351.3 831.54h1.53M366.63 831.54h1.53M371.23 831.54h1.53M377.37 831.54h1.53M392.7 831.54h1.53M397.3 831.54h4.6M346.7 833.01h1.53M365.1 833.01h1.53M371.23 833.01h3.07M380.43 833.01h1.53M383.5 833.01h1.53M389.63 833.01h1.53M397.3 833.01h1.53M358.97 834.49h1.53M362.03 834.49h1.53M369.7 834.49h1.53M385.03 834.49h1.53M394.23 834.49h1.53M408.03 834.49h1.53M337.5 835.97h4.6M343.63 835.97h1.53M348.23 835.97h3.07M365.1 835.97h1.53M371.23 835.97h1.53M392.7 835.97h1.53M397.3 835.97h4.6M337.5 837.45h1.53M362.03 837.45h1.53M375.83 837.45h1.53M380.43 837.45h1.53M383.5 837.45h1.53M408.03 837.45h3.07M362.03 838.93h4.6M369.7 838.93h1.53M377.37 838.93h3.07M395.77 838.93h1.53M398.83 838.93h3.07M403.43 838.93h1.53M408.03 838.93h1.53M337.5 840.4h3.07M349.77 840.4h1.53M369.7 840.4h3.07M377.37 840.4h1.53M385.03 840.4h1.53M409.57 840.4h1.53M340.57 841.88h1.53M349.77 841.88h1.53M380.43 841.88h1.53M397.3 841.88h1.53M337.5 843.36h3.07M343.63 843.36h3.07M349.77 843.36h1.53M355.9 843.36h1.53M358.97 843.36h1.53M368.17 843.36h3.07M385.03 843.36h3.07M345.17 844.84h1.53M362.03 844.84h1.53M372.77 844.84h3.07M378.9 844.84h6.13M386.57 844.84h1.53M400.37 844.84h1.53M349.77 846.32h1.53M358.97 846.32h1.53M371.23 846.32h3.07M380.43 846.32h3.07M400.37 846.32h3.07M406.5 846.32h1.53M337.5 847.79h1.53M340.57 847.79h1.53M360.5 847.79h1.53M365.1 847.79h3.07M369.7 847.79h1.53M380.43 847.79h1.53M394.23 847.79h3.07M400.37 847.79h3.07M408.03 847.79h1.53M337.5 849.27h3.07M345.17 849.27h1.53M349.77 849.27h3.07M360.5 849.27h3.07M372.77 849.27h1.53M385.03 849.27h1.53M389.63 849.27h1.53M397.3 849.27h1.53M401.9 849.27h1.53M404.97 849.27h1.53M345.17 850.75h3.07M351.3 850.75h1.53M366.63 850.75h1.53M371.23 850.75h3.07M389.63 850.75h1.53M398.83 850.75h3.07M337.5 852.23h1.53M348.23 852.23h3.07M358.97 852.23h1.53M369.7 852.23h1.53M372.77 852.23h1.53M378.9 852.23h1.53M383.5 852.23h3.07M389.63 852.23h1.53M392.7 852.23h1.53M397.3 852.23h1.53M401.9 852.23h1.53M337.5 853.71h3.07M343.63 853.71h1.53M352.83 853.71h3.07M360.5 853.71h1.53M363.57 853.71h4.6M369.7 853.71h1.53M372.77 853.71h1.53M375.83 853.71h3.07M392.7 853.71h1.53M337.5 855.18h1.53M340.57 855.18h3.07M348.23 855.18h1.53M357.43 855.18h3.07M362.03 855.18h3.07M372.77 855.18h1.53M375.83 855.18h1.53M381.97 855.18h1.53M385.03 855.18h1.53M389.63 855.18h1.53M394.23 855.18h1.53M400.37 855.18h1.53M403.43 855.18h1.53M354.37 856.66h4.6M365.1 856.66h1.53M371.23 856.66h1.53M377.37 856.66h3.07M389.63 856.66h1.53M401.9 856.66h1.53M406.5 856.66h1.53M409.57 856.66h1.53M349.77 858.14h1.53M360.5 858.14h1.53M377.37 858.14h1.53M394.23 858.14h1.53M397.3 858.14h1.53M355.9 859.62h1.53M363.57 859.62h1.53M368.17 859.62h6.13M378.9 859.62h1.53M389.63 859.62h1.53M398.83 859.62h3.07M408.03 859.62h1.53M357.43 861.1h1.53M369.7 861.1h1.53M372.77 861.1h4.6M378.9 861.1h3.07M383.5 861.1h1.53M386.57 861.1h1.53M391.17 861.1h1.53M397.3 861.1h1.53M409.57 861.1h1.53" stroke="#f8c2c3" stroke-width="1.51" fill="none"/>
<path d="M358.97 803.45h1.53M380.43 803.45h1.53M346.7 809.37h1.53M404.97 809.37h1.53M375.83 810.84h1.53M404.97 813.8h1.53M404.97 819.71h1.53M406.5 821.19h1.53M403.43 822.67h1.53M406.5 825.62h1.53M351.3 827.1h1.53M378.9 830.06h1.53M385.03 835.97h1.53M351.3 837.45h1.53M378.9 837.45h1.53M366.63 843.36h1.53M362.03 846.32h1.53M391.17 849.27h1.53M404.97 850.75h1.53M380.43 853.71h1.53" stroke="#7575da" stroke-width="1.51" fill="none"/>
<path d="M408.03 803.45h1.53M409.57 806.41h1.53M389.63 807.89h1.53M395.77 807.89h1.53M363.57 812.32h1.53M366.63 812.32h1.53M404.97 812.32h1.53M386.57 813.8h1.53M340.57 816.76h1.53M404.97 816.76h1.53M404.97 818.23h1.53M409.57 824.15h1.53M343.63 827.1h1.53M394.23 827.1h1.53M343.63 828.58h1.53M348.23 828.58h1.53M363.57 830.06h1.53M386.57 833.01h1.53M394.23 833.01h3.07M349.77 834.49h3.07M366.63 834.49h1.53M404.97 834.49h1.53M342.1 835.97h1.53M404.97 837.45h1.53M397.3 840.4h1.53M404.97 841.88h1.53M351.3 843.36h1.53M369.7 844.84h1.53M394.23 844.84h3.07M404.97 844.84h1.53M354.37 846.32h1.53M404.97 846.32h1.53M404.97 847.79h1.53M343.63 852.23h1.53M386.57 852.23h1.53M380.43 855.18h1.53M395.77 858.14h1.53M366.63 861.1h1.53" stroke="#a3a3e6" stroke-width="1.51" fill="none"/>
<path d="M378.9 804.93h1.53M400.37 804.93h1.53M404.97 804.93h1.53M404.97 806.41h1.53M386.57 809.37h1.53M395.77 809.37h1.53M351.3 812.32h1.53M354.37 812.32h1.53M377.37 812.32h3.07M386.57 812.32h1.53M394.23 812.32h6.13M351.3 813.8h1.53M381.97 813.8h1.53M357.43 816.76h1.53M366.63 816.76h1.53M337.5 821.19h1.53M349.77 822.67h1.53M386.57 822.67h1.53M404.97 822.67h1.53M404.97 825.62h1.53M392.7 827.1h1.53M398.83 827.1h1.53M340.57 828.58h1.53M397.3 828.58h1.53M404.97 828.58h1.53M391.17 831.54h1.53M395.77 831.54h1.53M404.97 831.54h1.53M404.97 833.01h1.53M360.5 834.49h1.53M365.1 834.49h1.53M380.43 834.49h1.53M395.77 837.45h1.53M354.37 838.93h1.53M404.97 838.93h1.53M395.77 840.4h1.53M408.03 840.4h1.53M345.17 841.88h1.53M389.63 841.88h1.53M400.37 843.36h1.53M366.63 844.84h1.53M398.83 844.84h1.53M401.9 844.84h1.53M366.63 846.32h1.53M357.43 847.79h1.53M357.43 849.27h1.53M366.63 849.27h1.53M354.37 850.75h1.53M360.5 850.75h1.53M392.7 850.75h1.53M408.03 852.23h1.53M366.63 855.18h1.53M386.57 855.18h1.53M343.63 856.66h1.53M375.83 856.66h1.53M386.57 856.66h1.53M340.57 858.14h1.53M355.9 858.14h1.53M404.97 858.14h1.53M408.03 858.14h1.53M351.3 859.62h1.53M395.77 859.62h1.53M404.97 859.62h1.53M340.57 861.1h1.53M377.37 861.1h1.53" stroke="#c8c8f0" stroke-width="1.51" fill="none"/>
<path d="M352.83 809.37h1.53M362.03 813.8h1.53M352.83 849.27h1.53" stroke="#4646cd" stroke-width="1.51" fill="none"/>
<rect x="338" y="783" width="2.2" height="1.6" fill="#d01010"/>
<text x="260.2" y="784" text-anchor="end" font-size="2.2" fill="#111">SAMMSON</text>
<text x="260.2" y="785.46" text-anchor="end" font-size="2.2" fill="#111">BRCA2</text>
<text x="260.2" y="786.92" text-anchor="end" font-size="2.2" fill="#111">CDK1</text>
<text x="260.2" y="788.38" text-anchor="end" font-size="2.2" fill="#111">CCNB1</text>
<text x="260.2" y="789.84" text-anchor="end" font-size="2.2" fill="#111">E2F1</text>
<text x="260.2" y="791.3" text-anchor="end" font-size="2.2" fill="#111">MCM2</text>
<text x="260.2" y="792.76" text-anchor="end" font-size="2.2" fill="#111">PLK1</text>
<text x="260.2" y="794.22" text-anchor="end" font-size="2.2" fill="#111">AURKA</text>
<text x="260.4" y="799.7" text-anchor="end" font-size="1.9" fill="#333">rna1</text>
<text x="260.2" y="804.1" text-anchor="end" font-size="2.2" fill="#111">ELAVL1</text>
<text x="260.2" y="805.58" text-anchor="end" font-size="2.2" fill="#111">HNRNPC</text>
<text x="260.2" y="807.06" text-anchor="end" font-size="2.2" fill="#111">SRSF1</text>
<text x="260.2" y="808.53" text-anchor="end" font-size="2.2" fill="#111">PTBP1</text>
<text x="260.2" y="810.01" text-anchor="end" font-size="2.2" fill="#111">FUS</text>
<text x="260.2" y="811.49" text-anchor="end" font-size="2.2" fill="#111">TARDBP</text>
<text x="260.2" y="812.97" text-anchor="end" font-size="2.2" fill="#111">IGF2BP1</text>
<text x="260.2" y="814.45" text-anchor="end" font-size="2.2" fill="#111">IGF2BP3</text>
<text x="260.2" y="815.92" text-anchor="end" font-size="2.2" fill="#111">LIN28B</text>
<text x="260.2" y="817.4" text-anchor="end" font-size="2.2" fill="#111">PUM2</text>
<text x="260.2" y="818.88" text-anchor="end" font-size="2.2" fill="#111">QKI</text>
<text x="260.2" y="820.36" text-anchor="end" font-size="2.2" fill="#111">TIA1</text>
<text x="260.2" y="821.84" text-anchor="end" font-size="2.2" fill="#111">U2AF2</text>
<text x="260.2" y="823.31" text-anchor="end" font-size="2.2" fill="#111">YBX1</text>
<text x="260.2" y="824.79" text-anchor="end" font-size="2.2" fill="#111">FMR1</text>
<text x="260.2" y="826.27" text-anchor="end" font-size="2.2" fill="#111">FXR2</text>
<text x="260.2" y="827.75" text-anchor="end" font-size="2.2" fill="#111">EZH2</text>
<text x="260.2" y="829.23" text-anchor="end" font-size="2.2" fill="#111">SUZ12</text>
<text x="260.2" y="830.7" text-anchor="end" font-size="2.2" fill="#111">MYC</text>
<text x="260.2" y="832.18" text-anchor="end" font-size="2.2" fill="#111">MAX</text>
<text x="260.2" y="833.66" text-anchor="end" font-size="2.2" fill="#111">E2F4</text>
<text x="260.2" y="835.14" text-anchor="end" font-size="2.2" fill="#111">FOXM1</text>
<text x="260.2" y="836.62" text-anchor="end" font-size="2.2" fill="#111">MYBL2</text>
<text x="260.2" y="838.09" text-anchor="end" font-size="2.2" fill="#111">NFYA</text>
<text x="260.2" y="839.57" text-anchor="end" font-size="2.2" fill="#111">NFYB</text>
<text x="260.2" y="841.05" text-anchor="end" font-size="2.2" fill="#111">SIN3A</text>
<text x="260.2" y="842.53" text-anchor="end" font-size="2.2" fill="#111">TP53</text>
<text x="260.2" y="844.01" text-anchor="end" font-size="2.2" fill="#111">RB1</text>
<text x="260.2" y="845.48" text-anchor="end" font-size="2.2" fill="#111">YY1</text>
<text x="260.2" y="846.96" text-anchor="end" font-size="2.2" fill="#111">SP1</text>
<text x="260.2" y="848.44" text-anchor="end" font-size="2.2" fill="#111">ZNF143</text>
<text x="260.2" y="849.92" text-anchor="end" font-size="2.2" fill="#111">CTCF</text>
<text x="260.2" y="851.4" text-anchor="end" font-size="2.2" fill="#111">RAD21</text>
<text x="260.2" y="852.87" text-anchor="end" font-size="2.2" fill="#111">SMC3</text>
<text x="260.2" y="854.35" text-anchor="end" font-size="2.2" fill="#111">KDM5B</text>
<text x="260.2" y="855.83" text-anchor="end" font-size="2.2" fill="#111">HDAC2</text>
<text x="260.2" y="857.31" text-anchor="end" font-size="2.2" fill="#111">EP300</text>
<text x="260.2" y="858.79" text-anchor="end" font-size="2.2" fill="#111">TAF1</text>
<text x="260.2" y="860.26" text-anchor="end" font-size="2.2" fill="#111">TBP</text>
<text x="260.2" y="861.74" text-anchor="end" font-size="2.2" fill="#111">GABPA</text>
<text transform="translate(246.1 833.4) rotate(-90)" text-anchor="middle" font-size="7.5" fill="#111"><tspan font-family="DejaVu Sans,sans-serif" font-size="11.5" dy="1.3">←</tspan><tspan dy="-1.3"> Mediator </tspan><tspan font-family="DejaVu Sans,sans-serif" font-size="11.5" dy="1.3">→</tspan></text>
<defs><linearGradient id="sc" x1="0" x2="1" y1="0" y2="0"><stop offset="0" stop-color="#3838c8"/><stop offset="0.5" stop-color="#fff"/><stop offset="1" stop-color="#e21e24"/></linearGradient></defs>
<rect x="316" y="866.3" width="35.3" height="3.3" fill="url(#sc)"/>
<text x="314.8" y="869.5" text-anchor="end" font-size="3.9" fill="#222">Score</text>
<text x="316" y="865.5" text-anchor="middle" font-size="3.9" fill="#222">-3</text>
<text x="333.6" y="865.5" text-anchor="middle" font-size="3.9" fill="#222">0</text>
<text x="351.3" y="865.5" text-anchor="middle" font-size="3.9" fill="#222">3</text>
<text x="567.7" y="731.6" text-anchor="middle" font-size="8.99" fill="#111">SAMMSON (chr3:69,998,743–70,016,300)</text>
<rect x="448.9" y="740.4" width="235.3" height="103.8" rx="19" fill="#fff" stroke="#d55c10" stroke-width="3.1"/>
<text x="565.5" y="856.7" text-anchor="middle" font-size="9" fill="#d55c10">Genome browser</text>
<text x="459.8" y="748.5" font-size="6.25" fill="#111">hg38:chr3</text>
<text x="552.9" y="747.9" font-size="6.89" fill="#111">R2 genome browser</text>
<rect x="504.4" y="749.6" width="9.2" height="1.7" fill="#111"/>
<rect x="508.6" y="749.6" width="1" height="1.7" fill="#999"/>
<rect x="516.6" y="749.5" width="135.1" height="1.9" fill="#ddd"/>
<rect x="516.6" y="749.5" width="3.71" height="1.9" fill="#eee"/>
<rect x="520.31" y="749.5" width="5.81" height="1.9" fill="#eee"/>
<rect x="526.12" y="749.5" width="2.04" height="1.9" fill="#111"/>
<rect x="528.15" y="749.5" width="4.37" height="1.9" fill="#111"/>
<rect x="532.53" y="749.5" width="5.6" height="1.9" fill="#bbb"/>
<rect x="538.13" y="749.5" width="3.04" height="1.9" fill="#999"/>
<rect x="541.18" y="749.5" width="2.41" height="1.9" fill="#111"/>
<rect x="543.59" y="749.5" width="5.05" height="1.9" fill="#999"/>
<rect x="548.64" y="749.5" width="1.86" height="1.9" fill="#111"/>
<rect x="550.5" y="749.5" width="1.5" height="1.9" fill="#bbb"/>
<rect x="552" y="749.5" width="1.92" height="1.9" fill="#111"/>
<rect x="553.92" y="749.5" width="3.88" height="1.9" fill="#bbb"/>
<rect x="557.81" y="749.5" width="2.79" height="1.9" fill="#111"/>
<rect x="560.59" y="749.5" width="5.44" height="1.9" fill="#111"/>
<rect x="566.03" y="749.5" width="2.68" height="1.9" fill="#111"/>
<rect x="568.71" y="749.5" width="3.63" height="1.9" fill="#fff"/>
<rect x="572.35" y="749.5" width="4.27" height="1.9" fill="#555"/>
<rect x="576.62" y="749.5" width="1.88" height="1.9" fill="#999"/>
<rect x="578.5" y="749.5" width="5.1" height="1.9" fill="#333"/>
<rect x="583.61" y="749.5" width="1.29" height="1.9" fill="#333"/>
<rect x="584.89" y="749.5" width="3.94" height="1.9" fill="#333"/>
<rect x="588.84" y="749.5" width="1.44" height="1.9" fill="#fff"/>
<rect x="590.28" y="749.5" width="3" height="1.9" fill="#111"/>
<rect x="593.28" y="749.5" width="5.37" height="1.9" fill="#bbb"/>
<rect x="598.64" y="749.5" width="1.76" height="1.9" fill="#bbb"/>
<rect x="600.4" y="749.5" width="5.8" height="1.9" fill="#111"/>
<rect x="606.2" y="749.5" width="5.8" height="1.9" fill="#111"/>
<rect x="611.99" y="749.5" width="2.48" height="1.9" fill="#eee"/>
<rect x="614.48" y="749.5" width="2.13" height="1.9" fill="#555"/>
<rect x="616.6" y="749.5" width="5.18" height="1.9" fill="#111"/>
<rect x="621.78" y="749.5" width="3.86" height="1.9" fill="#777"/>
<rect x="625.64" y="749.5" width="2.4" height="1.9" fill="#eee"/>
<rect x="628.04" y="749.5" width="5.6" height="1.9" fill="#333"/>
<rect x="633.64" y="749.5" width="2.02" height="1.9" fill="#111"/>
<rect x="635.66" y="749.5" width="5.56" height="1.9" fill="#555"/>
<rect x="641.22" y="749.5" width="4.96" height="1.9" fill="#333"/>
<rect x="646.18" y="749.5" width="1.25" height="1.9" fill="#333"/>
<rect x="647.42" y="749.5" width="1.29" height="1.9" fill="#eee"/>
<rect x="648.71" y="749.5" width="2.99" height="1.9" fill="#111"/>
<rect x="571" y="749.5" width="2.8" height="1.9" fill="#e8a020"/>
<rect x="573.8" y="749.5" width="2.4" height="1.9" fill="#30b8c0"/>
<rect x="655.5" y="749.6" width="5" height="1.7" fill="#111"/>
<rect x="669" y="749.9" width="4" height="1.1" fill="#ddd"/>
<rect x="674" y="749.6" width="4" height="1.7" fill="#111"/>
<text x="511" y="760.7" font-size="4.22" fill="#222">Average of mixed RNA atlas total (transcript) - medcligh - 296 - tpm - maxtbans33 08x</text>
<text x="458.2" y="763.1" text-anchor="end" font-size="2.9" fill="#222">1.14</text>
<line x1="459.4" y1="762.1" x2="681.5" y2="762.1" stroke="#f8c8d0" stroke-width="0.4"/>
<text x="458.2" y="768.88" text-anchor="end" font-size="2.9" fill="#222">1.12</text>
<line x1="459.4" y1="767.88" x2="681.5" y2="767.88" stroke="#eeeeee" stroke-width="0.4"/>
<text x="458.2" y="774.67" text-anchor="end" font-size="2.9" fill="#222">1.10</text>
<line x1="459.4" y1="773.67" x2="681.5" y2="773.67" stroke="#eeeeee" stroke-width="0.4"/>
<text x="458.2" y="780.46" text-anchor="end" font-size="2.9" fill="#222">1.08</text>
<line x1="459.4" y1="779.46" x2="681.5" y2="779.46" stroke="#eeeeee" stroke-width="0.4"/>
<text x="458.2" y="786.24" text-anchor="end" font-size="2.9" fill="#222">1.06</text>
<line x1="459.4" y1="785.24" x2="681.5" y2="785.24" stroke="#eeeeee" stroke-width="0.4"/>
<text x="458.2" y="792.02" text-anchor="end" font-size="2.9" fill="#222">1.04</text>
<line x1="459.4" y1="791.02" x2="681.5" y2="791.02" stroke="#eeeeee" stroke-width="0.4"/>
<text x="458.2" y="797.81" text-anchor="end" font-size="2.9" fill="#222">1.02</text>
<line x1="459.4" y1="796.81" x2="681.5" y2="796.81" stroke="#eeeeee" stroke-width="0.4"/>
<text x="458.2" y="803.6" text-anchor="end" font-size="2.9" fill="#222">1.00</text>
<line x1="459.4" y1="802.6" x2="681.5" y2="802.6" stroke="#f8c8d0" stroke-width="0.4"/>
<text transform="translate(451.9 782.5) rotate(-90)" text-anchor="middle" font-size="2.6" fill="#222">Signal</text>
<circle cx="466.2" cy="798.7" r="0.95" fill="#111"/>
<circle cx="579.6" cy="791.8" r="0.95" fill="#111"/>
<circle cx="591.7" cy="769.2" r="0.95" fill="#111"/>
<circle cx="599.2" cy="767.5" r="0.95" fill="#111"/>
<circle cx="599.2" cy="781" r="0.95" fill="#111"/>
<line x1="459.4" y1="807.8" x2="682" y2="807.8" stroke="#666" stroke-width="0.4"/>
<line x1="459.4" y1="806.3" x2="459.4" y2="807.8" stroke="#666" stroke-width="0.3"/>
<line x1="462.38" y1="807" x2="462.38" y2="807.8" stroke="#666" stroke-width="0.3"/>
<line x1="465.36" y1="807" x2="465.36" y2="807.8" stroke="#666" stroke-width="0.3"/>
<line x1="468.34" y1="807" x2="468.34" y2="807.8" stroke="#666" stroke-width="0.3"/>
<line x1="471.32" y1="807" x2="471.32" y2="807.8" stroke="#666" stroke-width="0.3"/>
<line x1="474.3" y1="806.3" x2="474.3" y2="807.8" stroke="#666" stroke-width="0.3"/>
<line x1="477.28" y1="807" x2="477.28" y2="807.8" stroke="#666" stroke-width="0.3"/>
<line x1="480.26" y1="807" x2="480.26" y2="807.8" stroke="#666" stroke-width="0.3"/>
<line x1="483.24" y1="807" x2="483.24" y2="807.8" stroke="#666" stroke-width="0.3"/>
<line x1="486.22" y1="807" x2="486.22" y2="807.8" stroke="#666" stroke-width="0.3"/>
<line x1="489.2" y1="806.3" x2="489.2" y2="807.8" stroke="#666" stroke-width="0.3"/>
<line x1="492.18" y1="807" x2="492.18" y2="807.8" stroke="#666" stroke-width="0.3"/>
<line x1="495.16" y1="807" x2="495.16" y2="807.8" stroke="#666" stroke-width="0.3"/>
<line x1="498.14" y1="807" x2="498.14" y2="807.8" stroke="#666" stroke-width="0.3"/>
<line x1="501.12" y1="807" x2="501.12" y2="807.8" stroke="#666" stroke-width="0.3"/>
<line x1="504.1" y1="806.3" x2="504.1" y2="807.8" stroke="#666" stroke-width="0.3"/>
<line x1="507.08" y1="807" x2="507.08" y2="807.8" stroke="#666" stroke-width="0.3"/>
<line x1="510.06" y1="807" x2="510.06" y2="807.8" stroke="#666" stroke-width="0.3"/>
<line x1="513.04" y1="807" x2="513.04" y2="807.8" stroke="#666" stroke-width="0.3"/>
<line x1="516.02" y1="807" x2="516.02" y2="807.8" stroke="#666" stroke-width="0.3"/>
<line x1="519" y1="806.3" x2="519" y2="807.8" stroke="#666" stroke-width="0.3"/>
<line x1="521.98" y1="807" x2="521.98" y2="807.8" stroke="#666" stroke-width="0.3"/>
<line x1="524.96" y1="807" x2="524.96" y2="807.8" stroke="#666" stroke-width="0.3"/>
<line x1="527.94" y1="807" x2="527.94" y2="807.8" stroke="#666" stroke-width="0.3"/>
<line x1="530.92" y1="807" x2="530.92" y2="807.8" stroke="#666" stroke-width="0.3"/>
<line x1="533.9" y1="806.3" x2="533.9" y2="807.8" stroke="#666" stroke-width="0.3"/>
<line x1="536.88" y1="807" x2="536.88" y2="807.8" stroke="#666" stroke-width="0.3"/>
<line x1="539.86" y1="807" x2="539.86" y2="807.8" stroke="#666" stroke-width="0.3"/>
<line x1="542.84" y1="807" x2="542.84" y2="807.8" stroke="#666" stroke-width="0.3"/>
<line x1="545.82" y1="807" x2="545.82" y2="807.8" stroke="#666" stroke-width="0.3"/>
<line x1="548.8" y1="806.3" x2="548.8" y2="807.8" stroke="#666" stroke-width="0.3"/>
<line x1="551.78" y1="807" x2="551.78" y2="807.8" stroke="#666" stroke-width="0.3"/>
<line x1="554.76" y1="807" x2="554.76" y2="807.8" stroke="#666" stroke-width="0.3"/>
<line x1="557.74" y1="807" x2="557.74" y2="807.8" stroke="#666" stroke-width="0.3"/>
<line x1="560.72" y1="807" x2="560.72" y2="807.8" stroke="#666" stroke-width="0.3"/>
<line x1="563.7" y1="806.3" x2="563.7" y2="807.8" stroke="#666" stroke-width="0.3"/>
<line x1="566.68" y1="807" x2="566.68" y2="807.8" stroke="#666" stroke-width="0.3"/>
<line x1="569.66" y1="807" x2="569.66" y2="807.8" stroke="#666" stroke-width="0.3"/>
<line x1="572.64" y1="807" x2="572.64" y2="807.8" stroke="#666" stroke-width="0.3"/>
<line x1="575.62" y1="807" x2="575.62" y2="807.8" stroke="#666" stroke-width="0.3"/>
<line x1="578.6" y1="806.3" x2="578.6" y2="807.8" stroke="#666" stroke-width="0.3"/>
<line x1="581.58" y1="807" x2="581.58" y2="807.8" stroke="#666" stroke-width="0.3"/>
<line x1="584.56" y1="807" x2="584.56" y2="807.8" stroke="#666" stroke-width="0.3"/>
<line x1="587.54" y1="807" x2="587.54" y2="807.8" stroke="#666" stroke-width="0.3"/>
<line x1="590.52" y1="807" x2="590.52" y2="807.8" stroke="#666" stroke-width="0.3"/>
<line x1="593.5" y1="806.3" x2="593.5" y2="807.8" stroke="#666" stroke-width="0.3"/>
<line x1="596.48" y1="807" x2="596.48" y2="807.8" stroke="#666" stroke-width="0.3"/>
<line x1="599.46" y1="807" x2="599.46" y2="807.8" stroke="#666" stroke-width="0.3"/>
<line x1="602.44" y1="807" x2="602.44" y2="807.8" stroke="#666" stroke-width="0.3"/>
<line x1="605.42" y1="807" x2="605.42" y2="807.8" stroke="#666" stroke-width="0.3"/>
<line x1="608.4" y1="806.3" x2="608.4" y2="807.8" stroke="#666" stroke-width="0.3"/>
<line x1="611.38" y1="807" x2="611.38" y2="807.8" stroke="#666" stroke-width="0.3"/>
<line x1="614.36" y1="807" x2="614.36" y2="807.8" stroke="#666" stroke-width="0.3"/>
<line x1="617.34" y1="807" x2="617.34" y2="807.8" stroke="#666" stroke-width="0.3"/>
<line x1="620.32" y1="807" x2="620.32" y2="807.8" stroke="#666" stroke-width="0.3"/>
<line x1="623.3" y1="806.3" x2="623.3" y2="807.8" stroke="#666" stroke-width="0.3"/>
<line x1="626.28" y1="807" x2="626.28" y2="807.8" stroke="#666" stroke-width="0.3"/>
<line x1="629.26" y1="807" x2="629.26" y2="807.8" stroke="#666" stroke-width="0.3"/>
<line x1="632.24" y1="807" x2="632.24" y2="807.8" stroke="#666" stroke-width="0.3"/>
<line x1="635.22" y1="807" x2="635.22" y2="807.8" stroke="#666" stroke-width="0.3"/>
<line x1="638.2" y1="806.3" x2="638.2" y2="807.8" stroke="#666" stroke-width="0.3"/>
<line x1="641.18" y1="807" x2="641.18" y2="807.8" stroke="#666" stroke-width="0.3"/>
<line x1="644.16" y1="807" x2="644.16" y2="807.8" stroke="#666" stroke-width="0.3"/>
<line x1="647.14" y1="807" x2="647.14" y2="807.8" stroke="#666" stroke-width="0.3"/>
<line x1="650.12" y1="807" x2="650.12" y2="807.8" stroke="#666" stroke-width="0.3"/>
<line x1="653.1" y1="806.3" x2="653.1" y2="807.8" stroke="#666" stroke-width="0.3"/>
<line x1="656.08" y1="807" x2="656.08" y2="807.8" stroke="#666" stroke-width="0.3"/>
<line x1="659.06" y1="807" x2="659.06" y2="807.8" stroke="#666" stroke-width="0.3"/>
<line x1="662.04" y1="807" x2="662.04" y2="807.8" stroke="#666" stroke-width="0.3"/>
<line x1="665.02" y1="807" x2="665.02" y2="807.8" stroke="#666" stroke-width="0.3"/>
<line x1="668" y1="806.3" x2="668" y2="807.8" stroke="#666" stroke-width="0.3"/>
<line x1="670.98" y1="807" x2="670.98" y2="807.8" stroke="#666" stroke-width="0.3"/>
<line x1="673.96" y1="807" x2="673.96" y2="807.8" stroke="#666" stroke-width="0.3"/>
<line x1="676.94" y1="807" x2="676.94" y2="807.8" stroke="#666" stroke-width="0.3"/>
<line x1="679.92" y1="807" x2="679.92" y2="807.8" stroke="#666" stroke-width="0.3"/>
<text x="485.5" y="811" text-anchor="middle" font-size="2.9" fill="#222">70,000,000</text>
<text x="515.4" y="811" text-anchor="middle" font-size="2.9" fill="#222">70,002,000</text>
<text x="545.3" y="811" text-anchor="middle" font-size="2.9" fill="#222">70,004,000</text>
<text x="575.2" y="811" text-anchor="middle" font-size="2.9" fill="#222">70,006,000</text>
<text x="605.1" y="811" text-anchor="middle" font-size="2.9" fill="#222">70,008,000</text>
<text x="635" y="811" text-anchor="middle" font-size="2.9" fill="#222">70,010,000</text>
<text x="664.9" y="811" text-anchor="middle" font-size="2.9" fill="#222">70,012,000</text>
<rect x="459.4" y="811.7" width="224" height="3" fill="#fff" stroke="#777" stroke-width="0.4"/>
<text x="591" y="814" text-anchor="middle" font-size="2.6" fill="#222">p13</text>
<line x1="475.2" y1="819.4" x2="682.3" y2="819.4" stroke="#98dc68" stroke-width="0.7"/>
<rect x="474.4" y="818.5" width="1.8" height="1.8" fill="#6aae58"/>
<rect x="664" y="818.4" width="4.6" height="2" fill="#6aae58"/>
<line x1="475.2" y1="825.3" x2="682.3" y2="825.3" stroke="#f08a8a" stroke-width="0.6"/>
<rect x="474.6" y="824.5" width="1.7" height="1.6" fill="#8a2a2a"/>
<rect x="664" y="824.4" width="4.6" height="1.8" fill="#8a3a3a"/>
<line x1="472.3" y1="828.3" x2="682.3" y2="828.3" stroke="#f08a8a" stroke-width="0.6"/>
<rect x="471.7" y="827.5" width="1.7" height="1.6" fill="#8a2a2a"/>
<rect x="664" y="827.4" width="4.6" height="1.8" fill="#8a3a3a"/>
<line x1="475.2" y1="831.3" x2="682.3" y2="831.3" stroke="#f08a8a" stroke-width="0.6"/>
<rect x="474.6" y="830.5" width="1.7" height="1.6" fill="#8a2a2a"/>
<rect x="664" y="830.4" width="4.6" height="1.8" fill="#8a3a3a"/>
<line x1="475.2" y1="834.2" x2="682.3" y2="834.2" stroke="#f08a8a" stroke-width="0.6"/>
<rect x="474.6" y="833.4" width="1.7" height="1.6" fill="#8a2a2a"/>
<rect x="664" y="833.3" width="4.6" height="1.8" fill="#8a3a3a"/>
<rect x="459" y="824.5" width="13.6" height="1.6" fill="#7a2c2c"/>
<line x1="655.2" y1="837.2" x2="682.3" y2="837.2" stroke="#f08a8a" stroke-width="0.6"/>
<rect x="655.2" y="836.4" width="6.7" height="1.6" fill="#7a2c2c"/>
<rect x="664" y="836.3" width="4.6" height="1.8" fill="#8a3a3a"/>
<line x1="657" y1="840.1" x2="682.3" y2="840.1" stroke="#f08a8a" stroke-width="0.6"/>
<rect x="657" y="839.3" width="2.2" height="1.6" fill="#7a2c2c"/>
<rect x="664" y="839.2" width="4.6" height="1.8" fill="#8a3a3a"/>
</svg>
</body></html>
